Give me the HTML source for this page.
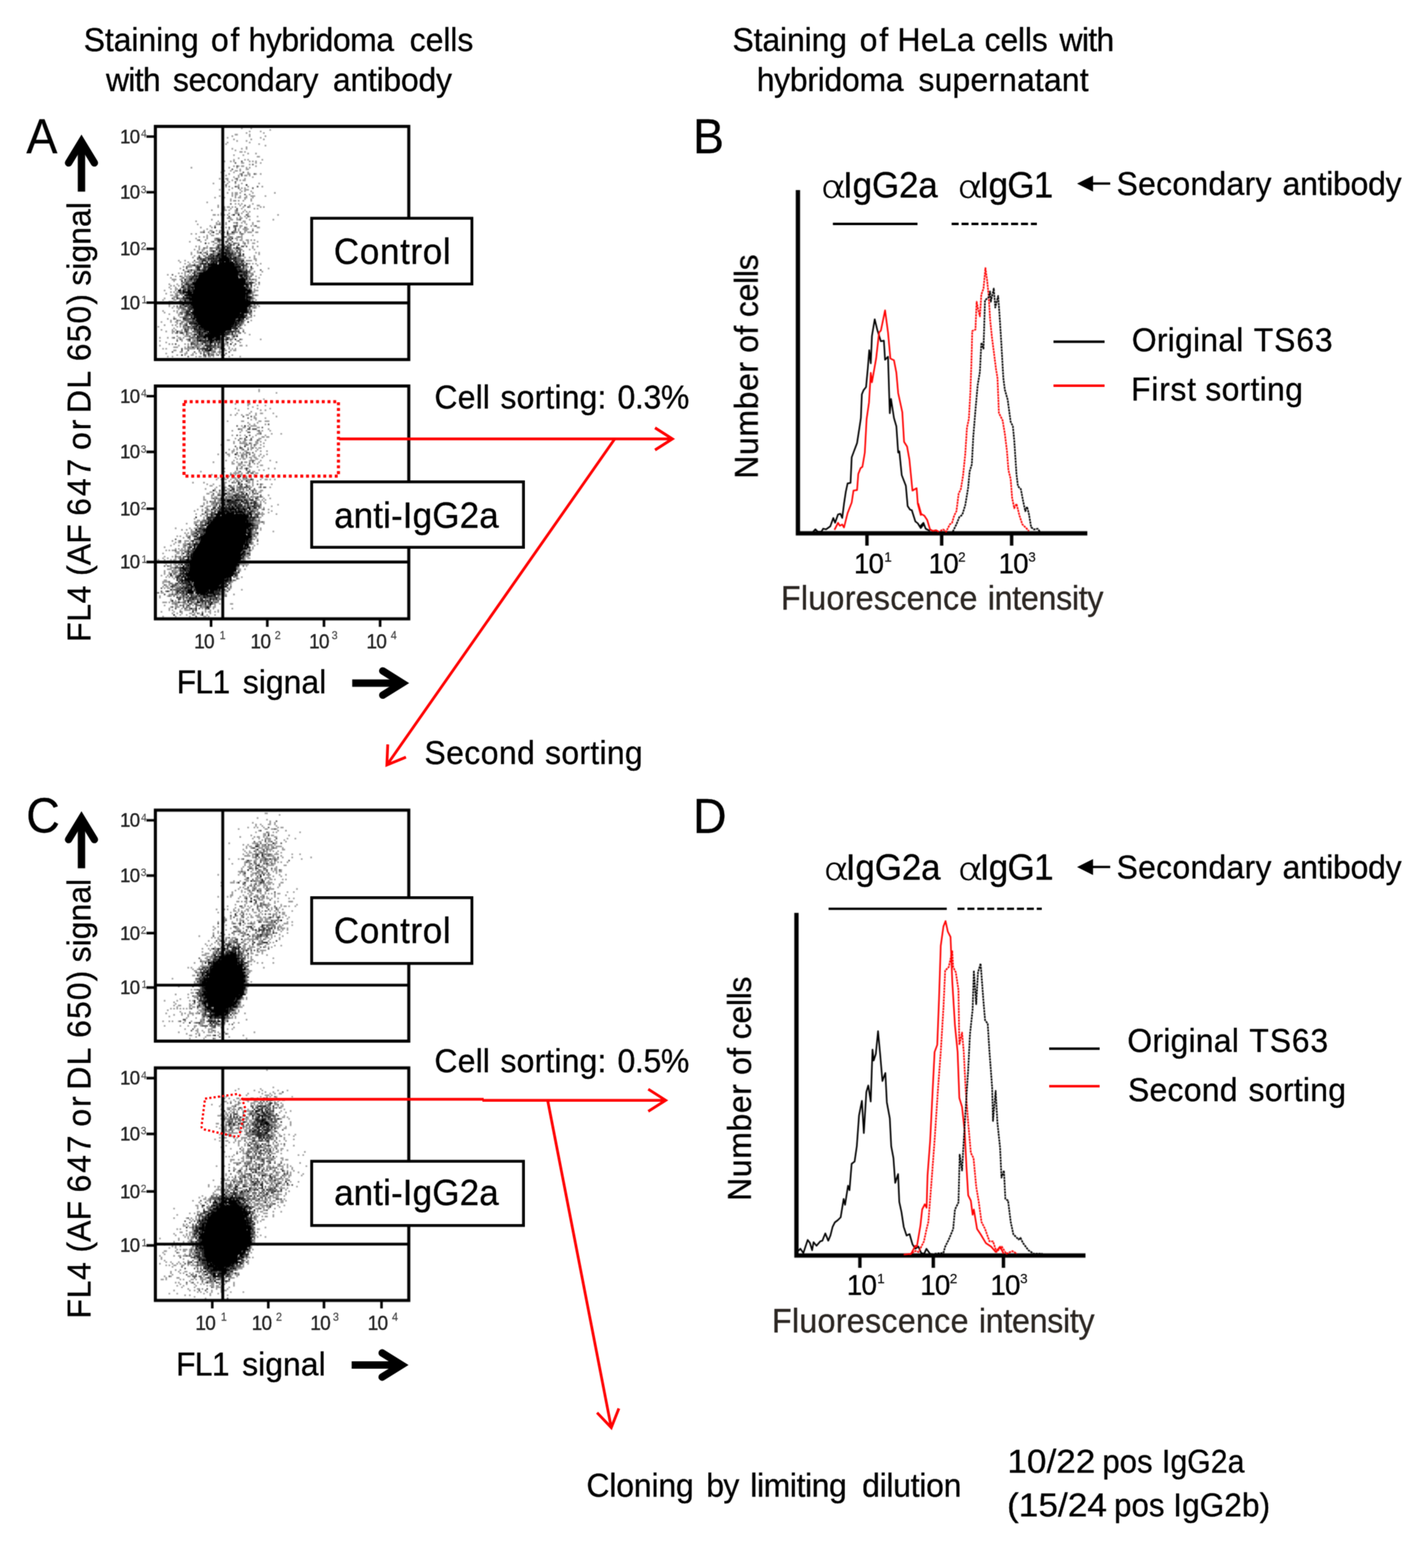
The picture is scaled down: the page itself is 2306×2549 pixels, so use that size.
<!DOCTYPE html>
<html><head><meta charset="utf-8"><title>Figure</title>
<style>
html,body{margin:0;padding:0;background:#fff;}
svg{display:block;font-family:"Liberation Sans",sans-serif;}
</style></head>
<body>
<svg width="2306" height="2549" viewBox="0 0 2306 2549">
<defs>
<filter id="softb" x="0" y="0" width="2306" height="2549" filterUnits="userSpaceOnUse" color-interpolation-filters="sRGB"><feConvolveMatrix order="3" kernelMatrix="0.06257 0.12500 0.06257 0.12500 0.24972 0.12500 0.06257 0.12500 0.06257" edgeMode="none" preserveAlpha="false"/></filter>
<filter id="softv" x="0" y="0" width="2306" height="2549" filterUnits="userSpaceOnUse" color-interpolation-filters="sRGB"><feConvolveMatrix order="3" kernelMatrix="0.03108 0.11414 0.03108 0.11414 0.41911 0.11414 0.03108 0.11414 0.03108" edgeMode="none" preserveAlpha="false"/></filter>
</defs>
<rect width="2306" height="2549" fill="#fff"/>
<g filter="url(#softb)">
<g>
<path d="M401.5 492.5L400.4 494.5L400.2 497.4L398.9 500.6L394.8 502.7L396.3 507.7L390.4 508.6L389.4 512.6L387.8 516.5L383.7 517.9L382.1 522.1L380.9 527.6L376.9 528.6L374.8 533.4L371.4 535.0L368.2 537.1L365.2 539.8L361.9 540.0L359.0 541.7L356.1 545.5L353.2 545.8L350.4 547.6L348.2 545.3L345.8 547.7L344.0 549.2L342.7 547.3L341.3 544.3L339.8 540.5L338.0 538.1L335.3 537.9L332.2 537.6L330.6 533.6L327.0 533.5L325.7 529.0L321.8 528.1L321.8 522.2L318.8 519.8L318.6 514.7L315.3 512.2L314.1 508.0L314.8 503.1L313.3 499.4L311.9 495.7L312.5 491.7L311.4 488.2L311.4 484.7L309.7 481.4L309.7 478.5L313.1 476.9L313.7 475.1L314.0 472.3L315.7 469.6L316.1 466.2L315.7 461.8L317.6 458.3L319.6 454.7L322.3 451.6L323.0 446.1L327.8 445.5L330.3 441.9L334.2 441.0L337.0 438.0L339.6 434.5L342.9 432.9L345.6 429.1L348.8 428.0L352.0 429.1L354.8 429.9L357.6 423.7L359.9 426.5L362.7 422.7L364.4 425.3L365.7 426.2L367.7 423.3L369.6 424.5L372.1 424.2L374.1 426.7L377.5 425.7L380.2 427.6L381.1 433.4L384.8 433.6L384.5 440.7L387.0 443.2L386.9 449.0L388.4 452.5L394.6 452.1L395.7 456.5L396.9 460.6L394.6 466.3L397.8 469.2L398.7 473.1L398.7 477.0L399.4 480.6L398.3 484.1L399.9 487.3L399.2 490.1Z" fill="#000"/>
<path d="M391.7 208.6h2.6m12.7 0h2.6m28.2 2.6h2.6m-35.9 2.6h2.6m15.3 0h2.6m-25.6 2.5h2.6m25.5 0h2.6m-48.7 2.6h5.1m18 0h2.6m-30.8 2.5h2.6m25.6 0h2.6m23 0h2.6m-64.1 2.6h2.6m51.2 0h2.6m-46.1 2.6h2.6m25.5 0h2.6m17.9 0h2.6m-46.1 2.5h2.6m12.8 0h2.6m-33.4 2.6h2.6m33.3 0h2.6m-41 2.5h2.6m51.1 0h2.6m7.7 2.6h2.6m-33.3 2.6h2.6m-25.7 2.5h2.6m12.8 0h2.6m5.1 0h2.6m-20.6 2.6h2.6m5.1 2.5h5.1m2.6 0h2.6m2.5 2.6h2.6m10.2 0h2.6m-38.4 2.6h2.6m12.7 0h2.6m20.5 2.5h5.1m-35.8 2.6h2.6m-10.3 2.5h2.6m15.3 0h2.6m2.5 0h2.6m20.5 0h2.6m-64.1 2.6h2.6m7.7 0h2.6m2.5 0h2.6m23 0h2.6m2.5 0h2.6m2.5 0h2.6m-25.6 2.6h5.1m17.9 0h2.6m5.1 0h2.6m-20.5 2.5h2.6m-28.2 2.6h2.6m5.1 0h2.6m2.5 0h5.1m17.9 0h2.6m-107.5 2.5h2.6m48.6 0h2.6m7.6 0h2.6m10.2 0h2.6m12.8 0h2.6m2.5 0h2.6m-18 2.6h2.6m7.7 0h5.1m-43.5 2.6h5.1m7.7 0h2.6m5 0h5.1m2.6 0h2.6m-33.3 2.5h2.6m17.9 0h2.6m20.4 0h2.6m-33.3 2.6h2.6m15.3 0h2.6m10.2 0h5.1m7.7 0h2.6m5.1 0h2.6m-58.9 2.5h2.6m17.9 0h2.6m7.6 0h5.1m2.6 0h2.6m-28.2 2.6h2.6m5.1 0h2.6m20.4 0h2.6m-56.4 2.6h2.6m7.7 0h5.1m10.2 0h2.6m12.8 0h2.6m-30.8 2.5h2.6m5.1 0h2.6m5.1 0h2.6m2.5 0h2.6m2.5 0h5.1m-35.8 2.6h2.6m5.1 0h2.6m-28.2 2.5h2.6m20.4 0h2.6m10.2 0h2.6m7.7 0h2.6m25.5 0h2.6m-35.8 2.6h2.6m-23.1 2.6h2.6m2.5 0h2.6m10.2 0h5.1m12.8 0h2.6m20.5 0h2.6m-51.3 2.5h2.6m12.8 0h2.6m2.5 0h2.6m-43.6 2.6h2.6m12.8 0h2.6m15.3 0h2.6m5.1 0h7.7m-12.8 2.5h2.6m2.5 0h2.6m7.6 0h2.6m-41 2.6h2.6m5.1 0h2.6m2.5 0h5.1m2.6 0h2.6m17.9 0h2.6m33.2 0h2.6m-71.7 2.6h2.6m2.5 0h5.1m18 0h2.6m-51.3 2.5h2.6m2.6 0h2.6m12.7 0h2.6m2.5 0h2.6m5.1 0h2.6m7.7 0h2.6m5 0h7.7m15.4 0h2.6m-84.5 2.6h2.6m10.2 0h5.1m15.3 0h2.6m2.6 0h5.1m5.1 0h5.1m7.7 0h2.6m-38.4 2.5h2.6m20.4 0h2.6m7.6 0h2.6m-35.8 2.6h2.6m2.5 0h5.1m2.6 0h2.6m5 0h2.6m10.2 0h2.6m-74.2 2.6h2.6m43.4 2.5h2.6m2.6 0h2.6m2.5 0h2.6m15.3 0h2.6m-58.9 2.6h2.6m33.2 0h2.6m12.8 0h2.6m10.2 0h5.1m-69.1 2.5h2.6m7.6 0h2.6m2.5 0h5.1m2.6 0h2.6m2.5 0h2.6m10.2 0h2.6m7.7 0h2.6m15.3 0h2.6m2.5 0h2.6m-66.6 2.6h2.6m7.7 0h2.6m15.3 0h2.6m17.9 0h2.6m2.5 0h2.6m-76.9 2.6h2.6m17.9 0h5.1m2.6 0h2.6m7.6 0h2.6m12.8 0h2.6m-18 2.5h5.1m7.7 0h2.6m2.6 0h2.6m2.5 0h2.6m-48.7 2.6h5.1m7.7 0h2.6m7.6 0h7.7m2.6 0h2.6m7.6 0h2.6m-58.9 2.5h5.1m2.6 0h2.6m2.5 0h7.7m2.5 0h2.6m5.1 0h2.6m23 0h2.6m46.1 0h2.6m-64.1 2.6h2.6m5.1 0h2.6m5.1 0h2.6m10.2 0h2.6m-58.9 2.6h2.6m5 0h7.7m7.7 0h2.6m2.5 0h5.1m5.2 0h2.6m-59 2.5h2.6m28.2 0h5.1m5.1 0h5.1m15.4 0h2.6m35.8 0h2.6m-128.1 2.6h2.6m33.3 0h2.6m38.3 0h5.1m18 0h5.1m-71.7 2.5h2.6m2.5 0h2.6m7.7 0h2.6m10.2 0h5.1m7.7 0h2.6m2.5 0h2.6m10.2 0h2.6m-92.2 2.6h2.6m28.1 0h5.1m5.2 0h2.6m2.5 0h2.6m15.3 0h2.6m12.8 0h2.6m7.6 0h2.6m-71.7 2.6h2.6m5.1 0h2.6m38.3 0h5.1m12.8 0h2.6m2.6 0h2.6m-89.7 2.5h2.6m15.3 0h2.6m12.8 0h2.6m5.1 0h2.6m10.2 0h2.6m7.6 0h2.6m7.7 0h2.6m15.3 0h5.1m-87 2.6h2.6m33.2 0h2.6m12.8 0h2.6m5 0h10.2m5.2 0h2.6m-82 2.5h2.6m7.7 0h5.1m5.1 0h2.6m2.5 0h7.7m5.1 0h2.6m7.7 0h2.6m5.1 0h2.6m7.6 0h5.1m-76.8 2.6h5.1m7.7 0h2.6m2.5 0h2.6m15.4 0h5.1m15.3 0h5.1m10.3 0h2.6m2.5 0h7.7m5.1 0h5.1m-110 2.6h2.6m5 0h2.6m20.5 0h2.6m7.6 0h5.1m2.6 0h5.1m7.7 0h10.2m7.7 0h2.6m2.5 0h2.6m-61.4 2.5h2.6m5 0h5.1m20.5 0h5.1m18 0h2.6m15.3 0h2.6m-89.6 2.6h2.6m5 0h2.6m2.6 0h2.6m33.2 0h2.6m2.5 0h2.6m5.1 0h2.6m2.5 0h5.1m-76.8 2.5h2.6m15.4 0h2.6m10.2 0h2.6m5 0h2.6m10.2 0h2.6m2.6 0h2.6m5 0h5.1m5.2 0h2.6m-74.3 2.6h2.6m10.2 0h2.6m12.8 0h5.1m17.9 0h2.6m10.2 0h2.6m2.5 0h5.1m5.2 0h5.1m2.5 0h2.6m2.6 0h2.6m-107.6 2.6h2.6m15.3 0h2.6m15.3 0h2.6m48.6 0h2.6m5.1 0h2.6m12.8 0h2.6m-82 2.5h2.6m7.7 0h5.1m2.5 0h2.6m2.6 0h2.6m2.5 0h2.6m5.1 0h2.6m7.6 0h5.1m5.1 0h2.6m5.1 0h2.6m5.1 0h5.1m-69.1 2.6h2.6m15.3 0h2.6m5.1 0h2.6m2.5 0h2.6m17.9 0h2.6m-82 2.5h2.6m2.6 0h2.6m10.2 0h2.6m12.7 0h2.6m2.5 0h2.6m51.2 0h2.6m5.1 0h2.6m-97.3 2.6h2.6m7.6 0h5.1m7.7 0h5.1m7.7 0h2.6m5.1 0h2.6m12.7 0h2.6m5.1 0h2.6m17.9 0h2.6m-97.3 2.6h2.6m5.1 0h2.6m2.5 0h5.1m7.7 0h5.1m7.7 0h2.6m20.4 0h2.6m2.5 0h5.1m5.2 0h2.6m10.2 0h2.6m5.1 0h2.6m-94.8 2.5h2.6m5.1 0h2.6m5.1 0h2.6m2.5 0h2.6m10.2 0h2.6m7.6 0h2.6m7.7 0h2.6m2.5 0h2.6m12.7 0h2.6m-87 2.6h2.6m7.6 0h5.1m5.1 0h2.6m2.6 0h2.6m10.2 0h5.1m25.6 0h2.6m2.5 0h2.6m28.1 0h2.6m2.5 0h2.6m-112.6 2.5h2.6m15.3 0h2.6m17.9 0h5.1m33.3 0h2.6m30.6 0h2.6m-107.5 2.6h2.6m15.3 0h2.6m46 0h5.1m5.2 0h2.6m17.9 0h2.6m-102.5 2.6h2.6m5.1 0h2.6m2.5 0h2.6m48.6 0h2.6m10.2 0h2.6m5.1 0h2.6m5.1 0h2.6m5.1 0h2.6m-92.2 2.5h2.6m10.2 0h2.6m53.7 0h5.1m15.4 0h5.1m-128 2.6h2.6m7.6 0h2.6m20.5 0h5.1m7.7 0h2.6m2.5 0h2.6m56.3 0h10.2m5.1 0h2.6m-125.5 2.5h2.6m10.2 0h2.6m5.1 0h2.6m2.5 0h10.2m5.2 0h2.6m25.6 0h2.6m15.3 0h2.6m7.6 0h2.6m2.5 0h5.1m-99.8 2.6h2.6m5.1 0h2.6m5.1 0h2.6m5.1 0h2.6m38.3 0h2.6m35.8 0h5.1m2.6 0h2.6m2.5 0h2.6m5.1 0h2.6m-120.4 2.6h7.7m5.1 0h2.6m2.6 0h2.6m10.2 0h2.6m7.6 0h5.1m2.6 0h2.6m12.7 0h5.1m43.6 0h2.6m-122.9 2.5h2.6m5 0h7.7m30.7 0h2.6m5.1 0h2.6m12.8 0h5.1m5.1 0h2.6m17.9 0h7.7m-112.7 2.6h2.6m23 0h2.6m7.7 0h2.6m25.5 0h2.6m5.1 0h7.7m2.6 0h2.6m20.4 0h5.1m7.7 0h2.6m23 0h2.6m-133.2 2.5h5.1m2.6 0h7.7m15.4 0h7.7m5.1 0h2.6m7.6 0h2.6m35.8 0h2.6m5.1 0h5.1m-110.1 2.6h5.1m2.6 0h5.1m7.7 0h5.1m17.9 0h2.6m15.4 0h2.6m5 0h2.6m5.1 0h5.1m30.8 0h2.6m10.2 0h2.6m-138.3 2.6h2.6m2.5 0h2.6m2.5 0h2.6m5.1 0h2.6m7.6 0h2.6m12.8 0h5.1m15.4 0h2.6m5.1 0h2.6m10.2 0h2.6m2.5 0h2.6m20.4 0h10.2m-140.7 2.5h2.6m25.5 0h2.6m2.5 0h2.6m2.6 0h2.6m15.3 0h2.6m7.6 0h2.6m61.4 0h2.6m2.5 0h2.6m12.8 0h2.6m-140.8 2.6h2.6m7.6 0h2.6m2.5 0h7.7m15.4 0h2.6m20.4 0h2.6m15.3 0h5.1m18 0h2.6m15.3 0h2.6m7.6 0h2.6m-140.8 2.5h2.6m15.3 0h2.6m5.1 0h5.1m17.9 0h2.6m30.7 0h2.6m2.5 0h2.6m35.8 0h2.6m15.3 0h2.6m-143.4 2.6h7.7m5.1 0h5.1m5.2 0h5.1m64 0h2.6m5.1 0h2.6m20.4 0h2.6m2.5 0h2.6m2.6 0h5.1m-135.7 2.6h2.6m17.9 0h2.6m7.6 0h2.6m28.1 0h2.6m20.5 0h2.6m30.7 0h2.6m5 0h2.6m5.1 0h2.6m-122.9 2.5h2.6m2.5 0h2.6m5.1 0h5.1m41 0h2.6m33.2 0h2.6m20.5 0h2.6m-140.9 2.6h2.6m10.2 0h2.6m74.2 0h5.1m46.1 0h2.6m2.5 0h2.6m-145.9 2.5h2.6m2.5 0h2.6m5.1 0h2.6m2.5 0h2.6m2.5 0h5.1m38.4 0h2.6m51.2 0h2.6m12.8 0h2.6m-140.9 2.6h2.6m7.7 0h2.6m15.3 0h2.6m15.3 0h2.6m23 0h2.6m23 0h2.6m7.6 0h2.6m7.7 0h2.6m10.2 0h2.6m10.2 0h2.6m-143.4 2.6h2.6m5.1 0h5.1m64 0h2.6m2.5 0h2.6m46 0h2.6m2.6 0h2.6m-148.6 2.5h2.6m15.4 0h2.6m7.6 0h2.6m5.1 0h2.6m35.8 0h2.6m20.4 0h2.6m46.1 0h7.7m-143.4 2.6h2.6m2.5 0h2.6m2.5 0h2.6m48.6 0h2.6m25.6 0h2.6m40.9 0h5.1m-145.9 2.5h2.6m12.8 0h5.1m10.2 0h2.6m17.9 0h2.6m87 0h2.6m-135.7 2.6h5.1m2.6 0h2.6m2.5 0h2.6m2.5 0h2.6m20.4 0h2.6m20.5 0h2.6m61.4 0h2.6m5.1 0h2.6m2.5 0h2.6m-138.3 2.6h5.1m12.8 0h2.6m7.7 0h2.6m97.2 0h2.6m-146 2.5h2.6m12.8 0h2.6m7.6 0h2.6m53.8 0h2.6m61.4 0h2.6m-151.1 2.6h2.6m15.3 0h5.1m7.7 0h2.6m40.9 0h5.1m12.8 0h2.6m48.6 0h5.1m2.6 0h2.6m-143.4 2.5h7.7m7.7 0h2.6m25.5 0h2.6m51.2 0h5.1m30.7 0h2.6m2.6 0h2.6m-140.9 2.6h2.6m64 0h2.6m17.9 0h2.6m46 0h2.6m5.1 0h2.6m-146 2.6h2.6m15.3 0h2.6m5.1 0h2.6m104.9 0h2.6m7.7 0h2.6m-146 2.5h2.6m5.1 0h2.6m10.2 0h5.1m17.9 0h2.6m10.2 0h2.6m28.2 0h2.6m5 0h2.6m23 0h2.6m12.8 0h7.7m2.5 0h2.6m-143.4 2.6h2.6m5.1 0h5.1m7.7 0h2.6m99.8 0h2.6m5.1 0h2.6m2.5 0h2.6m-128 2.5h2.6m2.5 0h2.6m5.1 0h2.6m12.7 0h2.6m2.6 0h2.6m30.6 0h2.6m33.3 0h2.6m12.7 0h2.6m-145.9 2.6h2.6m15.3 0h2.6m2.5 0h2.6m5.1 0h7.7m12.8 0h2.6m12.7 0h2.6m71.7 0h2.6m5.1 0h2.6m-148.6 2.6h2.6m17.9 0h2.6m7.7 0h2.6m7.6 0h2.6m7.6 0h5.1m5.2 0h2.6m58.8 0h2.6m-117.8 2.5h2.6m12.8 0h5.1m5.1 0h2.6m15.3 0h2.6m20.5 0h2.6m28.1 0h2.6m23 0h2.6m7.6 0h2.6m-120.3 2.6h2.6m61.4 0h2.6m5.1 0h2.6m48.6 0h2.6m-133.2 2.5h2.6m7.6 0h5.1m7.7 0h2.6m17.9 0h5.1m69.2 0h10.2m-138.2 2.6h2.6m10.2 0h2.6m46 0h2.6m12.8 0h2.6m30.6 0h2.6m17.9 0h2.6m-128 2.6h2.6m10.2 0h5.1m2.6 0h2.6m7.6 0h5.1m12.8 0h2.6m69.1 0h2.6m7.6 0h2.6m-148.5 2.5h2.6m12.8 0h2.6m5.1 0h5.1m7.7 0h2.6m2.5 0h2.6m38.3 0h2.6m-58.9 2.6h2.6m5.1 0h2.6m2.5 0h2.6m23 0h2.6m51.2 0h2.6m12.7 0h2.6m-130.6 2.5h2.6m10.2 0h2.6m2.6 0h2.6m5 0h2.6m2.6 0h2.6m12.7 0h2.6m12.8 0h2.6m2.5 0h2.6m17.9 0h2.6m12.7 0h2.6m15.4 0h2.6m2.5 0h2.6m2.5 0h2.6m-143.4 2.6h2.6m28.1 0h2.6m2.5 0h2.6m5.1 0h5.1m5.2 0h2.6m17.8 0h2.6m25.6 0h2.6m23 0h2.6m2.5 0h2.6m-110.1 2.6h2.6m12.8 0h2.6m2.5 0h2.6m2.5 0h2.6m33.2 0h2.6m46.1 0h2.6m-133.2 2.5h2.6m15.3 0h2.6m2.6 0h2.6m7.6 0h2.6m12.8 0h2.6m20.4 0h5.1m10.3 0h2.6m2.5 0h2.6m23 0h2.6m2.5 0h5.1m5.1 0h2.6m-128 2.6h2.6m7.6 0h5.1m5.2 0h7.7m7.6 0h2.6m51.2 0h2.6m-82 2.5h2.6m2.6 0h2.6m10.2 0h2.6m5 0h7.7m2.6 0h5.1m20.5 0h2.6m30.7 0h2.6m10.2 0h2.6m7.6 0h2.6m-102.4 2.6h2.6m5 0h2.6m2.6 0h5.1m5.1 0h2.6m51.2 0h2.6m2.5 0h7.7m17.9 0h2.6m-120.4 2.6h2.6m10.2 0h7.7m5.1 0h2.6m43.5 0h2.6m15.3 0h2.6m2.5 0h2.6m-125.4 2.5h2.6m10.2 0h2.6m5 0h2.6m7.7 0h5.1m2.6 0h2.6m7.6 0h2.6m5.1 0h2.6m58.8 0h5.1m-94.7 2.6h2.6m5.1 0h2.6m5.1 0h2.6m7.6 0h7.7m10.2 0h2.6m2.6 0h2.6m25.5 0h2.6m5.1 0h2.6m2.5 0h2.6m12.8 0h2.6m28.1 0h2.6m-166.4 2.5h2.6m33.2 0h2.6m7.6 0h2.6m5.1 0h2.6m2.5 0h2.6m53.8 0h2.6m7.6 0h2.6m-117.8 2.6h2.6m43.5 0h5.1m5.1 0h2.6m38.4 0h2.6m7.6 0h2.6m10.2 0h2.6m-117.8 2.6h2.6m2.5 0h2.6m17.9 0h2.6m2.5 0h2.6m10.2 0h2.6m2.6 0h5.1m10.2 0h2.6m2.5 0h2.6m10.2 0h2.6m5.1 0h7.7m-112.6 2.5h2.6m28.1 0h2.6m12.7 0h2.6m2.6 0h2.6m2.5 0h2.6m2.5 0h7.7m2.5 0h2.6m17.9 0h2.6m2.5 0h2.6m5.1 0h2.6m2.5 0h2.6m7.7 0h2.6m7.6 0h5.1m5.2 0h2.6m-120.4 2.6h7.7m10.2 0h2.6m5.1 0h5.1m2.6 0h5.1m2.6 0h2.6m2.5 0h2.6m20.4 0h2.6m17.9 0h2.6m-110.1 2.5h2.6m2.5 0h2.6m28.1 0h17.9m5.2 0h2.6m12.7 0h2.6m10.2 0h2.6m2.5 0h2.6m12.8 0h2.6m2.5 0h2.6m2.5 0h2.6m-102.4 2.6h5.1m43.5 0h2.6m12.8 0h5.1m5.1 0h2.6m5.1 0h5.1m5.2 0h2.6m2.5 0h5.1m-92.2 2.6h5.1m5.2 0h2.6m17.9 0h5.1m5.1 0h2.6m7.6 0h2.6m7.7 0h2.6m2.5 0h2.6m-92.2 2.5h2.6m28.1 0h5.1m7.7 0h2.6m2.5 0h2.6m15.4 0h2.6m2.5 0h7.7m2.5 0h2.6m2.5 0h2.6m-71.7 2.6h2.6m10.2 0h2.6m7.7 0h5.1m25.6 0h2.6m7.6 0h2.6m5.1 0h5.1m12.8 0h2.6m-107.5 2.5h2.6m5 0h2.6m35.8 0h2.6m2.6 0h5.1m2.5 0h2.6m5.1 0h5.1m2.6 0h2.6m23 0h2.6m15.3 0h2.6" stroke="#000" stroke-width="2.56" fill="none" stroke-opacity="0.4"/>
<path d="M391.7 262.4h2.6m-12.9 2.6h2.6m25.6 2.5h2.6m-28.2 2.6h2.6m-10.3 5.1h2.6m15.3 5.1h2.6m-5.1 2.6h2.6m17.9 0h2.6m-23.1 2.5h2.6m-10.3 5.2h2.6m-5.2 5.1h2.6m-17.9 5.1h2.6m12.7 2.6h2.6m33.3 0h2.6m-33.3 2.5h2.6m20.4 0h2.6m-15.4 10.3h2.6m-25.6 15.3h2.6m20.4 2.6h2.6m2.5 2.5h2.6m-20.5 2.6h2.6m-2.6 2.6h2.6m12.8 7.6h2.6m-30.8 2.6h2.6m28.1 0h2.6m-15.4 5.1h2.6m-20.5 2.6h2.6m10.2 2.5h2.6m-30.8 2.6h2.6m20.5 2.6h7.7m28.1 0h2.6m-46.1 2.5h2.6m7.6 0h2.6m12.8 0h2.6m-18 5.1h2.6m25.6 0h2.6m-82 2.6h2.6m23 0h2.6m20.5 0h2.6m7.6 0h2.6m0 2.6h2.6m-30.8 5.1h5.1m5.2 0h2.6m10.2 0h2.6m-38.5 2.5h5.1m5.2 0h2.6m7.6 0h2.6m-51.2 2.6h2.6m33.2 0h2.6m7.6 0h2.6m2.6 0h2.6m-30.8 2.6h2.6m5.1 0h5.1m2.6 0h2.6m5 0h2.6m5.1 0h2.6m0 2.5h5.1m12.8 0h2.6m-46.1 2.6h10.2m5.1 0h2.6m7.7 0h2.6m-18 2.5h2.6m2.5 0h7.7m7.7 0h2.6m5.1 0h5.1m2.6 0h2.6m-71.8 2.6h2.6m7.7 0h5.1m5.1 0h2.6m2.5 0h2.6m15.4 0h2.6m2.5 0h2.6m-25.7 2.6h2.6m5.1 0h2.6m5.1 0h5.1m10.3 0h5.1m-48.7 2.5h2.6m2.6 0h2.6m7.6 0h5.1m12.8 0h2.6m10.2 0h2.6m-58.9 2.6h2.6m10.2 0h2.6m5.1 0h5.1m2.6 0h2.6m10.2 0h2.6m5 0h2.6m2.6 0h5.1m-51.2 2.5h2.6m2.5 0h2.6m15.3 0h2.6m12.8 0h5.1m-61.4 2.6h2.6m5 0h2.6m5.1 0h2.6m2.5 0h2.6m2.6 0h2.6m17.8 0h2.6m5.1 0h5.1m12.8 0h2.6m-64 2.6h10.2m5.2 0h2.6m33.2 0h5.1m-69.1 2.5h2.6m5.1 0h2.6m2.5 0h2.6m17.9 0h2.6m28.1 0h7.7m-76.8 2.6h2.6m20.4 0h2.6m43.5 0h7.7m-51.2 2.5h2.6m10.2 0h2.6m2.5 0h2.6m25.6 0h2.6m-53.8 2.6h2.6m33.2 0h2.6m12.8 0h2.6m2.5 0h2.6m-82 2.6h2.6m5.1 0h2.6m2.5 0h2.6m5.1 0h2.6m53.7 0h2.6m5.1 0h5.1m-99.8 2.5h2.6m12.7 0h2.6m5.1 0h2.6m-25.6 2.6h2.6m30.7 0h2.6m53.7 0h2.6m12.7 0h2.6m-112.6 2.5h2.6m25.5 0h2.6m66.5 0h2.6m25.6 0h2.6m-107.6 2.6h2.6m5.1 0h5.1m71.7 0h5.1m-94.7 2.6h2.6m15.3 0h2.6m15.4 0h2.6m38.3 0h5.1m-115.2 2.5h2.6m35.8 0h5.1m41 0h2.6m43.5 0h2.6m-120.4 2.6h2.6m12.8 0h5.1m64 0h2.6m15.3 0h2.6m5.1 0h2.6m2.5 0h2.6m-112.6 2.5h2.6m7.6 0h2.6m5.1 0h2.6m2.5 0h2.6m66.5 0h2.6m5.1 0h2.6m5.1 0h2.6m-94.8 2.6h2.6m7.7 0h2.6m79.3 0h2.6m2.5 0h2.6m-112.7 2.6h2.6m2.5 0h7.7m5.1 0h2.6m81.9 0h2.6m-107.5 2.5h2.6m5 0h2.6m10.2 0h2.6m43.5 0h2.6m35.8 0h2.6m15.3 0h2.6m-128 2.6h2.6m2.5 0h2.6m5.1 0h2.6m94.7 0h2.6m-97.3 2.5h5.1m-15.4 2.6h2.6m104.9 0h2.6m-117.8 2.6h2.6m2.6 0h2.6m2.5 0h2.6m5.1 0h2.6m89.5 0h2.6m-115.2 5.1h2.6m2.5 0h2.6m-5.2 2.5h5.1m69.2 0h2.6m15.3 0h2.6m20.4 0h2.6m-122.9 2.6h2.6m120.3 0h2.6m2.5 0h2.6m-130.6 2.6h2.6m-10.3 2.5h2.6m7.7 0h2.6m2.5 0h2.6m99.8 0h2.6m10.2 0h2.6m-120.4 2.6h2.6m2.6 0h2.6m2.5 0h5.1m-12.8 2.5h2.6m5.1 0h5.1m2.6 0h2.6m-18 2.6h10.2m7.7 0h2.6m-20.5 2.6h2.6m5.1 0h2.6m2.5 0h2.6m102.4 0h2.6m-128.1 2.5h2.6m15.3 0h2.6m-15.4 2.6h7.7m112.7 0h2.6m-117.8 2.5h5.1m2.5 0h2.6m5.1 0h2.6m87 0h5.1m-115.2 5.2h5.1m2.6 0h2.6m102.4 0h5.1m-115.2 2.5h2.6m12.8 0h2.6m2.5 0h2.6m81.9 0h2.6m2.5 0h2.6m-107.6 2.6h2.6m2.5 0h5.1m2.6 0h2.6m5.1 0h2.6m84.4 0h2.6m-112.6 2.5h7.7m7.6 0h2.6m-33.3 2.6h2.6m17.9 0h5.1m2.6 0h2.6m5 0h5.1m61.5 0h2.6m12.8 0h2.6m-115.3 2.6h2.6m10.2 0h7.7m7.7 0h2.6m76.7 0h2.6m-102.4 2.5h2.6m7.6 0h2.6m71.7 0h2.6m7.6 0h2.6m2.5 0h2.6m-105 2.6h2.6m7.7 0h2.6m28.1 0h2.6m53.7 0h5.1m-94.7 2.5h2.6m7.7 0h2.6m2.5 0h2.6m5.1 0h5.1m-30.7 2.6h2.6m7.6 0h2.6m10.2 0h2.6m-23.1 2.6h2.6m2.5 0h2.6m2.6 0h5.1m5.1 0h2.6m66.5 0h2.6m-89.6 2.5h5.1m56.3 0h2.6m-66.6 2.6h2.6m10.2 0h7.7m7.7 0h2.6m35.8 0h2.6m12.7 0h5.1m7.7 0h2.6m-110.1 2.5h2.6m2.5 0h2.6m7.7 0h2.6m25.5 0h5.1m18 0h2.6m5.1 0h2.6m17.8 0h2.6m5.1 0h2.6m-89.6 2.6h2.6m25.5 0h2.6m38.4 0h2.6m-66.6 2.6h2.6m5.1 0h2.6m48.6 0h2.6m-87.1 2.5h2.6m25.6 0h5.1m2.5 0h2.6m5.1 0h5.1m5.2 0h2.6m28.1 0h2.6m2.5 0h2.6m-82 2.6h2.6m10.2 0h2.6m15.4 0h2.6m2.5 0h2.6m43.5 0h2.6m12.7 0h2.6m-105 2.5h2.6m17.9 0h2.6m5.1 0h2.6m30.7 0h2.6m2.5 0h2.6m2.5 0h2.6m5.1 0h2.6m17.9 0h2.6m-79.4 2.6h5.1m5.1 0h2.6m5.1 0h2.6m5.1 0h5.1m5.1 0h7.7m5.1 0h2.6m-76.8 2.6h2.6m25.5 0h5.1m2.6 0h2.6m10.2 0h5.1m20.5 0h2.6m20.4 0h2.6m-66.6 2.5h2.6m25.6 0h2.6m5.1 0h2.6m2.5 0h2.6m-56.4 2.6h2.6m12.8 0h2.6m7.6 0h2.6m10.2 0h2.6m2.6 0h2.6m5 0h2.6m-64 2.5h2.6m28.1 0h2.6m20.5 0h2.6m12.7 0h2.6m-71.7 2.6h2.6m7.6 0h2.6m15.4 0h2.6m2.5 0h2.6m12.7 0h2.6m-66.6 2.6h2.6m33.3 0h2.6m12.7 0h2.6m2.6 0h5.1m5.1 0h5.1m5.1 0h2.6m12.8 0h2.6m-48.7 2.5h2.6m2.5 0h2.6m33.3 0h2.6m-35.9 2.6h2.6m7.6 0h5.1m5.2 0h2.6m7.6 0h2.6m-61.5 2.5h2.6m25.6 0h2.6" stroke="#000" stroke-width="2.56" fill="none" stroke-opacity="0.64"/>
<path d="M399.4 300.8h2.6m-23.1 48.6h2.6m5.1 0h2.6m-41 20.5h2.6m30.6 2.6h2.6m-38.4 5.1h2.6m20.4 0h2.6m5.1 0h2.6m-10.3 2.6h2.6m5.1 7.6h2.6m-25.6 2.6h5.1m7.7 2.6h2.6m-35.9 2.5h2.6m35.8 0h2.6m0 2.6h2.6m10.2 0h2.6m-35.9 2.5h2.6m10.2 0h2.6m-15.4 2.6h2.6m7.6 0h2.6m5.1 0h2.6m12.8 0h2.6m-38.5 2.6h2.6m5.1 0h2.6m7.6 0h2.6m-5.1 2.5h7.7m10.2 0h2.6m-61.5 2.6h2.6m30.7 0h2.6m7.6 0h2.6m5.1 0h2.6m-43.5 2.5h2.6m5 0h2.6m12.8 0h2.6m7.6 0h10.2m10.3 0h2.6m2.5 0h2.6m-56.3 2.6h2.6m12.7 0h5.1m12.9 0h2.6m10.2 0h5.1m-69.1 2.6h2.6m17.8 0h5.1m2.6 0h5.1m2.6 0h2.6m10.2 0h2.6m5.1 0h2.6m-56.4 2.5h2.6m2.5 0h2.6m7.7 0h5.1m2.6 0h5.1m20.5 0h2.6m2.5 0h5.1m-56.3 2.6h7.7m10.2 0h2.6m2.5 0h2.6m20.5 0h2.6m5 0h2.6m7.7 0h5.1m-69.1 2.5h2.6m12.7 0h2.6m2.6 0h2.6m5 0h2.6m7.7 0h2.6m2.5 0h2.6m10.2 0h2.6m5.1 0h2.6m-69.2 2.6h2.6m2.5 0h2.6m7.7 0h2.6m5.1 0h2.6m30.6 0h2.6m5.1 0h2.6m2.5 0h2.6m2.6 0h2.6m-87.1 2.6h2.6m12.7 0h2.6m41 0h2.6m2.5 0h10.2m2.6 0h5.1m-76.8 2.5h5.1m5.1 0h12.8m51.2 0h2.6m10.2 0h2.6m-89.6 2.6h5.1m5.1 0h5.1m2.6 0h2.6m43.5 0h7.7m2.5 0h2.6m-87 2.5h2.6m7.6 0h2.6m5.1 0h2.6m2.5 0h2.6m46 0h2.6m2.6 0h2.6m2.5 0h2.6m5.1 0h2.6m-97.4 2.6h2.6m7.7 0h2.6m15.3 0h2.6m58.8 0h7.7m-87 2.6h2.6m2.5 0h2.6m61.4 0h5.1m5.1 0h5.1m-76.7 2.5h2.6m61.4 0h2.6m5 0h7.7m-89.6 2.6h5.1m2.6 0h2.6m76.8 0h2.6m-92.2 2.5h5.1m2.5 0h2.6m2.6 0h2.6m-25.7 2.6h2.6m5.1 0h2.6m5.1 0h5.1m79.4 0h2.6m-107.6 2.6h2.6m17.9 0h2.6m2.5 0h2.6m-20.5 2.5h2.6m87 0h2.6m5.1 0h2.6m5 0h5.1m-107.5 2.6h2.6m2.6 0h2.6m89.5 0h2.6m2.5 0h2.6m-112.6 2.5h2.6m5 0h2.6m7.7 0h2.6m84.4 0h2.6m2.5 0h2.6m-115.2 2.6h5.1m5.1 0h5.1m5.2 0h2.6m81.9 0h5.1m-105 2.6h2.6m2.5 0h5.1m94.8 0h2.6m-107.6 2.5h2.6m7.7 0h5.1m92.1 0h2.6m-117.8 2.6h2.6m17.9 0h2.6m84.5 0h2.6m5 0h2.6m-112.6 2.5h2.6m2.5 0h2.6m99.8 0h2.6m-10.3 2.6h2.6m2.5 0h2.6m-107.5 2.6h2.6m2.5 0h5.1m89.6 0h2.6m7.6 0h2.6m-122.9 2.5h2.6m7.7 0h5.1m99.8 0h7.7m-12.8 2.6h2.6m5.1 0h2.6m-115.3 2.5h2.6m12.8 0h2.6m99.8 0h2.6m-120.4 2.6h2.6m10.2 0h2.6m97.3 0h5.1m2.6 0h2.6m-110.2 2.6h2.6m-15.4 2.5h2.6m5.1 0h5.1m2.6 0h7.7m89.6 0h5.1m-105 2.6h5.1m94.8 0h2.6m-97.3 2.5h2.6m-10.3 2.6h7.7m2.5 0h2.6m76.8 0h2.6m7.6 0h2.6m2.5 0h2.6m-107.5 2.6h5.1m7.7 0h2.6m84.4 0h2.6m-102.4 2.5h5.1m-5.1 2.6h2.6m5.1 0h2.6m5 0h2.6m66.6 0h2.6m7.6 0h5.1m-104.9 5.1h5.1m5.1 0h2.6m81.9 0h2.6m-82 2.6h2.6m66.5 0h2.6m7.7 0h2.6m-87.1 2.5h5.1m2.6 0h5.1m64 0h2.6m5.1 0h2.6m7.6 0h2.6m-94.7 2.6h5.1m5.1 0h2.6m61.4 0h5.1m-87 2.5h2.6m12.7 0h2.6m58.9 0h2.6m2.5 0h2.6m2.5 0h2.6m-87.1 2.6h2.6m5.1 0h5.1m53.8 0h2.6m5.1 0h5.1m2.6 0h2.6m-71.8 2.6h2.6m5.1 0h7.7m2.6 0h2.6m30.6 0h2.6m5.1 0h7.7m-84.5 2.5h2.6m12.8 0h10.2m2.6 0h5.1m48.6 0h2.6m-97.3 2.6h2.6m12.8 0h2.6m15.3 0h2.6m2.5 0h2.6m7.7 0h2.6m30.6 0h12.8m5.2 0h2.6m-94.8 2.5h2.6m23 0h2.6m2.5 0h2.6m7.7 0h2.6m17.8 0h2.6m5.1 0h2.6m2.5 0h5.1m2.6 0h2.6m-64 2.6h5.1m5.1 0h5.1m35.9 0h5.1m5.1 0h2.6m-56.3 2.6h7.7m33.2 0h2.6m12.8 0h2.6m2.5 0h2.6m-66.6 2.5h5.1m23.1 0h2.6m7.6 0h2.6m7.6 0h2.6m-64 2.6h2.6m10.2 0h2.6m2.5 0h2.6m5.1 0h2.6m10.2 0h2.6m10.2 0h2.6m5.1 0h5.1m10.2 0h2.6m-64 2.5h2.6m5.1 0h2.6m2.5 0h2.6m2.5 0h2.6m15.3 0h2.6m2.6 0h2.6m-33.4 2.6h5.1m18 0h5.1m2.6 0h2.6m5 0h2.6m-61.4 2.6h2.6m15.3 0h2.6m23 0h2.6m5.1 0h2.6m10.2 0h2.6m-43.6 2.5h12.8m2.6 0h2.6m10.2 0h2.6m-51.3 2.6h2.6m20.5 0h7.7m2.5 0h2.6m5.1 0h2.6m2.5 0h2.6m-41 2.5h2.6m5.1 0h7.7m7.6 0h2.6m12.8 0h2.6m-28.2 2.6h5.1m0 5.1h2.6m-46.1 2.6h2.6m33.2 0h2.6m5.1 0h2.6" stroke="#000" stroke-width="2.56" fill="none" stroke-opacity="0.85"/>
<path d="M368.6 403.2h2.6m12.8 0h2.6m-25.6 2.6h2.6m2.5 0h2.6m-23.1 2.5h2.6m7.6 0h2.6m5.1 2.6h5.1m2.6 0h2.6m-20.5 2.5h5.1m2.6 0h2.6m2.5 0h2.6m-23.1 2.6h2.6m2.5 0h5.1m5.2 0h7.7m2.5 0h2.6m-18 2.6h2.6m2.6 0h10.2m2.6 0h2.6m5 0h2.6m-46.1 2.5h2.6m5.1 0h2.6m7.6 0h17.9m2.6 0h2.6m-35.9 2.6h2.6m2.6 0h2.6m2.5 0h20.5m5.1 0h2.6m-46.1 2.5h2.6m7.6 0h2.6m2.5 0h2.6m15.3 0h2.6m2.6 0h5.1m2.5 0h2.6m-56.3 2.6h2.6m2.5 0h2.6m2.5 0h2.6m2.5 0h5.1m2.6 0h2.6m20.5 0h7.7m2.5 0h2.6m-48.7 2.6h7.7m30.7 0h2.6m0 2.5h12.8m-12.8 2.6h5.1m-61.4 2.5h2.6m5 0h2.6m51.2 0h2.6m2.5 0h2.6m-61.5 2.6h2.6m51.2 0h10.2m-71.6 2.6h7.7m69.1 0h2.6m-87.1 2.5h2.6m7.6 0h2.6m61.4 0h5.1m-76.8 2.6h2.6m5.1 0h2.6m61.4 0h5.1m2.6 0h2.6m-7.7 2.5h5.1m2.6 0h2.6m-92.2 2.6h2.6m7.6 0h2.6m69.1 0h7.7m-7.7 2.6h7.7m-87.1 2.5h5.1m76.8 0h5.1m5.2 0h2.6m-105 2.6h2.6m7.6 0h5.1m76.8 0h7.7m-94.7 2.5h2.6m84.4 0h2.6m2.6 0h2.6m-92.2 2.6h5.1m79.3 0h5.1m-87 2.6h2.6m81.9 0h5.1m-112.6 2.5h5.1m2.6 0h2.6m5 0h5.1m87.1 0h10.2m-110 2.6h15.4m84.4 0h2.6m2.5 0h5.1m-102.4 2.5h7.7m84.5 0h7.7m-105 2.6h12.8m87.1 0h2.6m-94.8 2.6h2.6m89.6 0h7.7m-105 2.5h10.2m87.1 0h2.6m-102.5 2.6h2.6m5.1 0h5.1m87.1 0h5.1m-105 2.5h2.6m94.7 0h10.2m-99.8 2.6h5.1m84.5 0h7.7m-107.5 2.6h2.6m10.2 0h5.1m81.9 0h10.2m-10.2 2.5h7.7m-94.7 2.6h5.1m79.3 0h7.7m-94.7 2.5h2.6m84.4 0h7.7m-7.7 2.6h7.7m-92.1 2.6h5.1m76.8 0h10.2m-94.7 2.5h2.6m2.5 0h2.6m74.2 0h7.7m-81.9 2.6h2.6m71.6 0h7.7m-87 2.5h2.6m2.5 0h5.1m66.6 0h12.8m-87.1 2.6h5.1m69.2 0h5.1m2.5 0h2.6m-79.4 2.6h5.1m61.5 0h7.7m-79.4 2.5h2.6m5.1 0h2.6m58.8 0h2.6m2.6 0h2.6m-82 2.6h2.6m5.1 0h5.1m2.6 0h2.6m56.2 0h2.6m-64 2.5h2.6m53.7 0h2.6m2.5 0h2.6m-66.6 2.6h2.6m2.6 0h7.7m43.5 0h5.1m-64 2.6h2.6m5.1 0h2.6m46 0h5.1m7.7 0h2.6m-61.5 2.5h2.6m38.4 0h10.2m-53.7 2.6h2.6m5 0h5.1m25.7 0h5.1m-43.5 2.5h2.6m2.5 0h2.6m7.6 0h2.6m17.9 0h2.6m5.1 0h2.6m-46.1 2.6h2.6m7.6 0h33.3m-46.1 2.6h2.6m7.6 0h28.2m2.6 0h2.6m-33.4 2.5h5.1m2.6 0h10.2m2.6 0h7.7m2.6 0h2.6m-25.7 2.6h7.7m2.6 0h10.2m-35.8 2.5h5.1m2.5 0h2.6m2.6 0h2.6m2.5 0h7.7m2.5 0h2.6m-12.8 2.6h5.1m-5.1 2.6h2.6m5.1 0h2.6m-15.4 7.6h2.6m2.5 0h2.6m-5.2 2.6h5.1" stroke="#000" stroke-width="2.56" fill="none" stroke-opacity="1"/>
</g>
<rect x="252.5" y="205.5" width="411.79999999999995" height="379.0" fill="none" stroke="#000" stroke-width="5"/>
<path d="M362 205.5V584.5M252.5 492.3H664.3" stroke="#000" stroke-width="4.7" fill="none"/>
<path d="M238.0 222H252.5M238.0 312.5H252.5M238.0 404.5H252.5M238.0 492H252.5" stroke="#000" stroke-width="4.2" fill="none"/>
<g>
<path d="M386.6 913.9L384.1 920.5L381.7 926.0L379.1 931.1L374.9 933.0L372.3 937.2L369.1 939.2L366.0 940.9L363.4 943.5L361.0 947.4L358.4 950.5L355.7 952.2L352.8 961.0L350.2 958.3L347.3 961.3L344.9 960.7L341.1 967.5L340.6 958.4L337.1 962.8L334.0 964.6L330.5 967.3L328.5 965.2L326.5 963.2L321.5 967.2L319.5 963.4L318.1 959.0L316.6 956.2L315.5 953.4L313.9 951.5L315.1 946.2L311.3 947.2L310.7 944.4L307.7 944.1L306.5 941.8L307.6 937.5L303.7 937.3L304.6 933.1L307.5 927.8L308.3 924.0L308.6 920.5L307.9 917.4L307.6 913.9L311.4 908.9L312.5 904.8L312.6 900.6L315.5 896.0L318.1 891.3L321.1 886.5L324.8 881.0L326.4 874.2L329.8 870.1L333.2 866.7L334.5 860.6L336.6 855.3L339.8 852.6L342.5 848.8L345.5 846.5L348.1 842.8L351.0 840.4L353.8 836.8L356.6 839.2L359.1 839.0L361.9 835.5L364.9 832.4L366.7 835.7L370.1 831.3L372.3 832.1L374.5 833.0L377.6 831.2L380.6 830.1L380.9 836.1L384.7 833.8L387.5 835.4L391.8 834.6L394.0 836.2L395.9 838.1L400.0 836.8L401.2 839.6L400.3 844.5L399.4 849.1L401.2 850.6L402.3 852.9L403.0 855.6L401.1 860.5L401.4 863.4L399.4 867.9L401.2 870.0L401.6 873.1L399.8 877.4L399.3 881.1L396.7 885.5L395.2 889.6L395.1 893.6L391.5 898.0L391.7 902.7L391.0 908.2Z" fill="#000"/>
<path d="M419.8 633.6h2.6m-2.6 2.6h2.6m25.6 2.5h2.6m-23.1 10.3h2.6m-15.4 2.5h2.6m-35.9 5.1h2.6m17.9 0h5.1m-5.1 2.6h2.6m12.8 0h2.6m10.2 0h2.6m-23.1 2.6h2.6m-30.8 2.5h2.6m17.9 0h2.6m12.8 0h2.6m17.9 0h2.6m-53.8 2.6h2.6m33.2 0h2.6m5.1 0h2.6m-25.7 2.5h2.6m-25.6 2.6h2.6m17.9 0h2.6m7.6 0h2.6m5.1 0h5.1m15.4 0h2.6m-71.7 2.6h2.6m5 0h2.6m7.7 0h2.6m5.1 0h5.1m10.2 0h2.6m-5.1 2.5h2.6m33.2 0h2.6m-38.4 2.6h5.1m12.8 0h2.6m-25.7 2.5h2.6m5.1 0h2.6m-48.7 2.6h2.6m20.5 0h5.1m23 0h5.1m5.2 0h7.7m-35.9 2.6h2.6m12.8 0h2.6m-15.4 2.5h2.6m5.1 0h2.6m15.3 0h2.6m-41 2.6h2.6m7.6 0h2.6m2.5 0h10.2m-23 2.5h5.1m18 0h5.1m-33.3 2.6h5.1m41 0h2.6m-61.5 2.6h2.6m12.8 0h2.6m5.1 0h2.6m15.3 0h2.6m5.1 0h2.6m10.2 0h2.6m-51.3 2.5h2.6m28.1 0h5.1m-7.6 2.6h5.1m17.9 0h2.6m12.8 0h2.6m-82 2.5h2.6m10.2 0h2.6m5.1 0h2.6m15.3 0h2.6m12.8 0h2.6m-23.1 2.6h2.6m12.8 0h5.1m2.5 0h5.1m-56.3 2.6h2.6m7.7 0h2.6m25.5 0h5.1m-56.3 2.5h5.1m25.7 0h2.6m2.5 0h2.6m12.7 0h2.6m7.7 0h2.6m-53.8 2.6h2.6m7.6 0h2.6m2.5 0h5.1m15.4 0h5.1m2.6 0h2.6m-46.1 2.5h2.6m7.6 0h12.8m5.1 0h2.6m5.1 0h5.1m7.7 0h2.6m-71.7 2.6h2.6m35.8 0h2.6m2.5 0h2.6m2.5 0h2.6m5.1 0h2.6m5.1 0h2.6m-35.9 2.6h2.6m15.3 0h2.6m2.6 0h2.6m12.7 0h2.6m-46.1 2.5h2.6m15.3 0h2.6m2.5 0h2.6m5.1 0h2.6m2.5 0h5.1m-53.7 2.6h2.6m5.1 0h2.6m2.5 0h2.6m5.1 0h2.6m12.7 0h2.6m7.7 0h2.6m-58.9 2.5h2.6m12.7 0h5.1m15.4 0h5.1m12.8 0h2.6m5.1 0h2.6m7.6 0h2.6m-58.9 2.6h2.6m10.2 0h2.6m2.5 0h2.6m7.7 0h2.6m-53.8 2.6h2.6m12.7 0h5.1m10.3 0h2.6m5.1 0h10.2m10.3 0h2.6m7.6 0h2.6m7.6 0h2.6m-64 2.5h2.6m12.8 0h2.6m5 0h2.6m12.8 0h5.1m5.1 0h2.6m5.1 0h2.6m-48.7 2.6h2.6m7.7 0h5.1m2.6 0h2.6m2.5 0h5.1m2.6 0h5.1m7.7 0h2.6m-43.6 2.5h2.6m2.5 0h2.6m2.5 0h5.1m7.7 0h2.6m5.1 0h5.1m-53.7 2.6h2.6m10.2 0h2.6m23 0h5.1m2.6 0h2.6m7.6 0h2.6m12.8 0h2.6m-94.8 2.6h2.6m28.1 0h2.6m5.1 0h2.6m10.2 0h5.1m2.6 0h2.6m12.7 0h2.6m25.6 0h2.6m-74.3 2.5h5.1m5.2 0h7.7m17.9 0h2.6m2.5 0h2.6m-33.3 2.6h5.1m2.5 0h5.1m2.6 0h5.1m15.4 0h5.1m-43.5 2.5h2.6m17.9 0h5.1m7.7 0h2.6m-56.4 2.6h2.6m23 0h5.1m2.6 0h2.6m2.5 0h2.6m30.7 0h2.6m7.6 0h2.6m-64 2.6h2.6m17.9 0h2.6m12.7 0h2.6m5.1 0h2.6m-105 2.5h2.6m35.8 0h2.6m15.3 0h2.6m2.6 0h2.6m20.4 0h5.1m-40.9 2.6h2.6m2.5 0h10.2m2.6 0h2.6m5.1 0h2.6m12.7 0h5.1m-76.8 2.5h2.6m30.7 0h2.6m2.5 0h2.6m5.1 0h5.1m18 0h2.6m20.4 0h2.6m-79.4 2.6h5.1m7.7 0h2.6m5.1 0h2.6m12.7 0h2.6m2.6 0h2.6m2.5 0h2.6m5.1 0h2.6m15.3 0h2.6m-79.4 2.6h2.6m7.6 0h2.6m10.2 0h7.7m12.8 0h2.6m7.6 0h2.6m15.4 0h2.6m-76.9 2.5h2.6m5.1 0h2.6m2.5 0h5.1m5.2 0h2.6m5 0h5.1m2.6 0h2.6m2.5 0h12.8m15.4 0h2.6m5.1 0h5.1m2.6 0h2.6m5 0h2.6m-76.8 2.6h2.6m5.1 0h2.6m5.1 0h2.6m12.7 0h5.1m2.6 0h2.6m5.1 0h2.6m-107.6 2.5h2.6m15.3 0h2.6m30.7 0h5.1m10.3 0h5.1m5.1 0h2.6m10.2 0h5.1m2.6 0h2.6m-76.8 2.6h2.6m7.6 0h2.6m15.3 0h2.6m23 0h2.6m5.1 0h5.1m7.7 0h2.6m12.8 0h2.6m12.7 0h2.6m-102.4 2.6h5.1m10.2 0h2.6m5.1 0h2.6m12.8 0h2.6m2.5 0h2.6m15.3 0h5.1m2.6 0h2.6m10.2 0h2.6m-74.3 2.5h2.6m12.8 0h2.6m10.2 0h2.6m2.5 0h2.6m7.6 0h2.6m7.7 0h5.1m10.2 0h2.6m15.4 0h2.6m-107.6 2.6h2.6m12.8 0h2.6m10.2 0h2.6m5 0h5.1m10.3 0h5.1m2.6 0h2.6m5.1 0h2.6m-53.8 2.5h2.6m20.4 0h2.6m2.5 0h2.6m7.7 0h5.1m2.5 0h2.6m2.6 0h5.1m2.5 0h2.6m2.6 0h5.1m5.1 0h5.1m-87 2.6h5.1m5.1 0h2.6m2.5 0h2.6m5.1 0h2.6m2.5 0h5.1m2.6 0h2.6m2.5 0h2.6m2.6 0h2.6m5 0h5.1m5.2 0h2.6m7.6 0h2.6m2.5 0h5.1m-89.5 2.6h5.1m12.8 0h5.1m10.2 0h2.6m2.6 0h5.1m2.5 0h2.6m20.5 0h2.6m2.5 0h2.6m2.5 0h2.6m-74.3 2.5h5.1m10.3 0h5.1m5.1 0h10.2m15.4 0h2.6m12.8 0h2.6m23 0h2.6m-107.6 2.6h2.6m10.2 0h2.6m2.6 0h5.1m5.1 0h2.6m7.6 0h2.6m7.7 0h2.6m28.1 0h7.7m2.5 0h2.6m2.6 0h2.6m-97.4 2.5h2.6m10.2 0h2.6m2.6 0h2.6m2.5 0h5.1m2.6 0h5.1m2.5 0h7.7m5.1 0h2.6m7.7 0h2.6m5.1 0h5.1m5.1 0h2.6m15.3 0h2.6m7.7 0h2.6m-110.2 2.6h5.1m18 0h2.6m5.1 0h2.6m30.6 0h2.6m5.1 0h2.6m10.2 0h7.7m2.6 0h2.6m2.5 0h2.6m-97.3 2.6h2.6m5 0h5.1m5.2 0h7.7m28.1 0h2.6m5.1 0h2.6m7.6 0h5.1m10.3 0h2.6m2.5 0h2.6m-99.9 2.5h2.6m2.6 0h2.6m5 0h2.6m2.6 0h2.6m5 0h2.6m7.7 0h2.6m17.9 0h2.6m15.3 0h2.6m10.2 0h2.6m2.5 0h2.6m5.1 0h2.6m-102.5 2.6h2.6m10.2 0h7.7m25.6 0h2.6m20.5 0h2.6m2.5 0h5.1m10.2 0h2.6m28.2 0h2.6m-128.1 2.5h2.6m7.7 0h7.7m2.5 0h2.6m2.5 0h2.6m5.1 0h2.6m2.5 0h2.6m2.5 0h2.6m28.2 0h2.6m20.4 0h2.6m15.3 0h2.6m-110.1 2.6h5.1m69.1 0h5.1m10.3 0h2.6m2.5 0h2.6m-110.1 2.6h2.6m5.1 0h2.6m7.6 0h2.6m7.7 0h2.6m2.5 0h2.6m51.1 0h2.6m2.6 0h5.1m7.7 0h2.6m7.6 0h2.6m-122.9 2.5h2.6m10.2 0h2.6m2.5 0h12.8m5.1 0h2.6m51.2 0h2.6m7.6 0h5.1m20.5 0h2.6m-107.5 2.6h2.6m33.2 0h2.6m2.5 0h2.6m20.5 0h2.6m7.6 0h2.6m5.1 0h2.6m5.1 0h2.6m7.6 0h2.6m-120.4 2.5h2.6m10.2 0h2.6m5.1 0h2.6m23 0h5.1m41 0h5.1m7.7 0h7.7m17.9 0h2.6m-125.5 2.6h2.6m5.1 0h2.6m5.1 0h2.6m5.1 0h2.6m10.2 0h2.6m15.3 0h2.6m23 0h2.6m5.1 0h2.6m10.2 0h2.6m-97.4 2.6h2.6m20.5 0h2.6m10.2 0h2.6m12.7 0h2.6m2.6 0h2.6m30.6 0h5.1m-110 2.5h2.6m12.7 0h2.6m23 0h7.7m2.6 0h2.6m2.5 0h7.7m2.5 0h2.6m30.7 0h2.6m2.5 0h2.6m-102.4 2.6h5.1m2.6 0h2.6m5.1 0h2.6m20.4 0h2.6m5.1 0h10.2m41 0h2.6m-105 2.5h7.7m7.6 0h2.6m53.8 0h5.1m20.5 0h12.8m2.5 0h2.6m-128 2.6h2.6m10.2 0h5.1m7.7 0h2.6m10.2 0h2.6m5.1 0h2.6m20.4 0h2.6m5.1 0h2.6m2.5 0h2.6m28.1 0h7.7m5.1 0h2.6m-110.1 2.6h5.1m10.3 0h2.6m17.8 0h2.6m5.1 0h2.6m7.7 0h2.6m-46.2 2.5h2.6m15.4 0h2.6m17.8 0h2.6m15.4 0h2.6m25.5 0h2.6m-133.1 2.6h2.6m20.4 0h2.6m5.1 0h7.7m15.3 0h2.6m10.2 0h2.6m5.1 0h2.6m33.2 0h2.6m25.6 0h2.6m-130.6 2.5h2.6m5.1 0h2.6m5.1 0h2.6m7.6 0h2.6m61.4 0h5.1m33.3 0h2.6m-115.2 2.6h10.2m25.6 0h2.6m10.2 0h5.1m7.7 0h2.6m5.1 0h2.6m17.9 0h2.6m7.6 0h7.7m25.6 0h2.6m-146 2.6h2.6m2.5 0h2.6m2.6 0h5.1m5.1 0h2.6m17.9 0h2.6m35.8 0h2.6m28.1 0h5.1m-112.6 2.5h2.6m5.1 0h2.6m2.5 0h5.1m10.2 0h2.6m12.8 0h2.6m69.1 0h2.6m-133.2 2.6h2.6m2.5 0h2.6m7.7 0h5.1m5.1 0h2.6m5.1 0h5.1m12.8 0h2.6m43.5 0h2.6m23 0h2.6m2.5 0h2.6m-120.3 2.5h2.6m15.3 0h5.1m53.8 0h2.6m33.2 0h2.6m2.5 0h2.6m-110.1 2.6h2.6m58.8 0h2.6m38.4 0h5.1m2.6 0h2.6m-140.9 2.6h2.6m7.7 0h2.6m7.6 0h7.7m7.7 0h7.7m56.3 0h2.6m-97.3 2.5h2.6m2.5 0h5.1m5.1 0h2.6m5.1 0h2.6m12.8 0h2.6m33.2 0h2.6m15.3 0h2.6m30.7 0h2.6m-130.6 2.6h2.6m12.8 0h7.7m5.1 0h2.6m12.7 0h2.6m76.8 0h2.6m2.5 0h2.6m5.1 0h2.6m-143.4 2.5h2.6m10.2 0h2.6m5.1 0h2.6m2.5 0h2.6m5.1 0h2.6m99.8 0h2.6m-148.6 2.6h2.6m28.2 0h5.1m15.3 0h5.1m23.1 0h2.6m61.4 0h2.6m-128 2.6h2.6m2.5 0h2.6m2.5 0h2.6m2.5 0h2.6m99.8 0h2.6m5.1 0h2.6m-143.4 2.5h2.6m2.5 0h2.6m2.5 0h5.1m7.7 0h12.8m2.6 0h2.6m7.6 0h2.6m7.7 0h2.6m12.7 0h2.6m10.2 0h2.6m5.1 0h2.6m33.3 0h5.1m2.5 0h2.6m-125.4 2.6h7.7m2.5 0h2.6m64 0h2.6m35.8 0h7.7m-143.4 2.5h2.6m20.4 0h5.1m2.6 0h2.6m5.1 0h2.6m2.5 0h2.6m-25.6 2.6h2.6m7.6 0h2.6m17.9 0h2.6m81.9 0h5.1m-138.3 2.6h2.6m10.2 0h2.6m5.1 0h5.1m33.3 0h2.6m69.1 0h7.7m-140.8 2.5h2.6m5.1 0h2.6m10.2 0h2.6m2.5 0h2.6m2.5 0h2.6m15.3 0h2.6m5.1 0h5.1m2.6 0h2.6m66.5 0h2.6m2.5 0h5.1m-151 2.6h2.6m7.6 0h2.6m7.7 0h2.6m2.5 0h5.1m30.7 0h2.6m71.7 0h2.6m2.5 0h2.6m-140.8 2.5h2.6m10.2 0h5.1m2.5 0h2.6m7.7 0h5.1m5.1 0h2.6m17.9 0h2.6m10.2 0h2.6m33.2 0h2.6m23 0h2.6m2.6 0h2.6m2.5 0h2.6m-140.9 2.6h2.6m15.4 0h5.1m2.5 0h2.6m2.6 0h2.6m30.6 0h2.6m58.9 0h7.7m-130.6 2.6h2.6m5.1 0h2.6m2.5 0h5.1m5.1 0h2.6m20.5 0h2.6m71.6 0h15.4m-130.6 2.5h5.1m5.2 0h2.6m5 0h2.6m5.1 0h2.6m10.2 0h5.1m7.7 0h5.1m23.1 0h2.6m43.5 0h2.6m-125.5 2.6h7.7m33.2 0h2.6m12.8 0h2.6m51.2 0h2.6m-117.8 2.5h7.7m2.5 0h5.1m2.6 0h2.6m69.1 0h2.6m23 0h5.1m5.1 0h2.6m-133.2 2.6h2.6m12.8 0h10.2m15.4 0h2.6m7.6 0h2.6m28.2 0h2.6m38.3 0h2.6m-125.5 2.6h2.6m5.1 0h2.6m2.5 0h5.1m2.6 0h2.6m10.2 0h2.6m5.1 0h2.6m-43.6 2.5h2.6m5.1 0h2.6m7.7 0h2.6m2.5 0h2.6m20.4 0h2.6m2.5 0h2.6m15.4 0h2.6m2.5 0h2.6m-82 2.6h2.6m7.7 0h2.6m5 0h2.6m2.6 0h2.6m7.6 0h2.6m10.2 0h2.6m7.6 0h2.6m2.6 0h2.6m2.5 0h2.6m10.2 0h2.6m35.8 0h2.6m-112.7 2.5h2.6m2.5 0h2.6m2.5 0h2.6m10.2 0h2.6m12.8 0h2.6m2.5 0h2.6m2.5 0h2.6m10.2 0h2.6m48.6 0h5.1m5.2 0h2.6m-112.7 2.6h2.6m102.4 0h2.6m-123 2.6h5.1m18 0h2.6m17.9 0h5.1m17.9 0h2.6m40.9 0h2.6m2.5 0h2.6m-120.3 2.5h10.2m17.9 0h2.6m15.4 0h2.6m28.1 0h2.6m7.6 0h2.6m23 0h2.6m-115.2 2.6h2.6m7.6 0h2.6m2.5 0h2.6m7.7 0h2.6m23 0h2.6m56.3 0h2.6m-107.6 2.5h2.6m2.5 0h2.6m10.2 0h5.1m5.2 0h5.1m10.2 0h5.1m2.6 0h2.6m5.1 0h5.1m23 0h2.6m15.4 0h2.6m-112.7 2.6h2.6m2.5 0h5.1m10.3 0h7.7m2.5 0h2.6m17.9 0h5.1m7.7 0h2.6m17.9 0h2.6m17.8 0h2.6m-105 2.6h2.6m2.6 0h5.1m2.5 0h2.6m2.6 0h2.6m33.2 0h2.6m5.1 0h2.6m2.5 0h2.6m28.1 0h2.6m5.1 0h5.1m-97.3 2.5h2.6m12.8 0h2.6m15.3 0h2.6m5.1 0h5.1m5.1 0h2.6m10.2 0h2.6m12.8 0h2.6m5.1 0h2.6m23 0h2.6m-120.4 2.6h2.6m2.5 0h2.6m2.6 0h2.6m5 0h2.6m38.4 0h5.1m23.1 0h7.7m-115.3 2.5h2.6m5.1 0h5.1m12.8 0h2.6m2.6 0h2.6m2.5 0h2.6m7.6 0h2.6m56.3 0h7.7m-92.2 2.6h5.1m2.6 0h2.6m2.5 0h5.1m23.1 0h5.1m38.4 0h10.2m10.3 0h2.6m-122.9 2.6h2.6m10.2 0h2.6m2.5 0h2.6m7.6 0h2.6m2.5 0h5.1m2.6 0h5.1m51.2 0h2.6m5.1 0h2.6m-107.5 2.5h2.6m33.2 0h2.6m2.5 0h2.6m2.5 0h2.6m12.8 0h5.1m30.7 0h2.6m2.6 0h2.6m-87.1 2.6h2.6m23 0h5.1m15.4 0h2.6m10.2 0h5.1m12.8 0h2.6m2.5 0h5.1m-87 2.5h2.6m5.1 0h2.6m2.5 0h2.6m5.1 0h2.6m2.5 0h2.6m7.6 0h5.1m5.2 0h2.6m23 0h5.1m-89.6 2.6h7.7m2.5 0h2.6m2.5 0h10.2m2.6 0h5.1m18 0h5.1m5.1 0h2.6m2.5 0h2.6m2.6 0h2.6m7.6 0h2.6m5.1 0h2.6m-76.9 2.6h5.1m2.6 0h2.6m7.7 0h7.7m15.3 0h2.6m2.5 0h2.6m2.5 0h2.6m12.8 0h5.1m5.1 0h2.6m2.6 0h2.6m10.2 0h5.1m-112.7 2.5h2.6m15.4 0h5.1m5.1 0h2.6m5.1 0h2.6m2.5 0h2.6m2.5 0h2.6m12.8 0h5.1m2.6 0h5.1m7.7 0h2.6m-74.3 2.6h2.6m5.1 0h7.7m12.7 0h5.1m18 0h5.1m7.7 0h2.6m2.5 0h5.1m-76.8 2.5h2.6m17.9 0h2.6m5.1 0h2.6m7.6 0h5.1m10.3 0h2.6m15.3 0h2.6m28.1 0h2.6m-105 2.6h2.6m2.5 0h2.6m10.2 0h2.6m5.1 0h10.2m5.2 0h2.6m15.3 0h2.6m5.1 0h2.6m10.2 0h2.6m5.1 0h2.6m-102.5 2.6h2.6m17.9 0h2.6m10.2 0h2.6m20.4 0h2.6m7.7 0h2.6m2.5 0h2.6m2.5 0h5.1m5.2 0h2.6m2.5 0h2.6m-76.9 2.5h2.6m5.1 0h2.6m5.1 0h2.6m10.2 0h5.1m2.6 0h2.6m5.1 0h2.6m15.3 0h2.6m-51.3 2.6h2.6m7.7 0h2.6m10.2 0h2.6m7.6 0h2.6m7.7 0h2.6m10.2 0h2.6m-87.1 2.5h2.6m17.9 0h2.6m20.4 0h2.6m20.4 0h5.1m2.6 0h2.6" stroke="#000" stroke-width="2.56" fill="none" stroke-opacity="0.4"/>
<path d="M394.2 677.1h2.6m10.2 0h2.6m-7.7 2.6h2.6m30.7 10.2h2.6m-53.8 2.6h2.6m17.9 2.5h2.6m17.9 0h2.6m-41 2.6h2.6m12.7 0h5.1m2.6 0h7.7m2.5 2.6h2.6m-20.5 2.5h5.1m15.4 2.6h2.6m-41 2.5h2.6m17.9 0h2.6m-18 5.2h2.6m5.1 0h2.6m7.6 0h2.6m-23 2.5h2.6m7.6 0h2.6m7.6 0h2.6m7.7 0h2.6m-15.4 5.1h2.6m-7.7 2.6h2.6m10.2 0h2.6m-33.4 2.6h2.6m7.7 2.5h2.6m15.3 0h2.6m-18 2.6h2.6m5.1 0h2.6m-38.4 5.1h2.6m15.3 0h2.6m12.8 0h5.1m5.1 0h2.6m-7.7 2.6h2.6m-15.4 2.5h2.6m5.1 0h2.6m7.6 7.7h2.6m-20.5 2.6h2.6m15.3 0h2.6m-7.7 2.5h2.6m-15.4 5.1h2.6m-10.3 2.6h2.6m12.8 2.6h2.6m-12.9 2.5h2.6m10.2 0h5.1m-5.1 2.6h2.6m2.5 0h5.1m-38.3 2.5h2.6m10.2 2.6h2.6m-20.6 2.6h2.6m15.4 0h2.6m5 0h2.6m2.6 0h2.6m-41 2.5h2.6m46 0h2.6m-28.2 2.6h2.6m5.1 0h2.6m-18 2.5h2.6m-17.9 2.6h2.6m53.7 0h2.6m2.5 0h2.6m-51.2 2.6h2.6m12.7 0h5.1m-30.7 2.5h2.6m7.7 0h5.1m7.7 0h7.7m5.1 0h5.1m17.9 0h2.6m2.5 0h5.1m-69.1 2.6h2.6m23 0h2.6m2.5 0h2.6m15.4 0h2.6m-59 2.5h2.6m5.1 0h5.1m10.3 0h2.6m2.5 0h2.6m23 0h2.6m-33.3 2.6h2.6m7.6 0h2.6m-46.1 2.6h2.6m23 0h2.6m10.2 0h5.1m2.6 0h2.6m17.9 0h2.6m2.5 0h2.6m-66.6 2.5h5.1m28.2 0h7.7m2.5 0h7.7m17.9 0h2.6m-64 2.6h2.6m2.5 0h2.6m2.5 0h5.1m7.7 0h2.6m2.5 0h2.6m10.2 0h2.6m2.5 0h2.6m7.7 0h2.6m2.5 0h2.6m-79.4 2.5h2.6m2.5 0h2.6m12.8 0h2.6m10.2 0h2.6m5.1 0h5.1m2.5 0h5.1m5.2 0h2.6m10.2 0h2.6m-71.7 2.6h2.6m5 0h2.6m7.7 0h2.6m7.6 0h5.1m23.1 0h2.6m-66.6 2.6h2.6m5.1 0h2.6m10.2 0h7.7m15.3 0h5.1m12.8 0h2.6m10.2 0h2.6m-71.7 2.5h2.6m2.5 0h5.1m12.8 0h2.6m23 0h2.6m12.8 0h2.6m-56.4 2.6h2.6m2.6 0h2.6m2.5 0h2.6m15.3 0h2.6m10.2 0h2.6m15.3 0h5.1m2.6 0h2.6m-97.3 2.5h2.6m17.9 0h2.6m10.2 0h2.6m10.2 0h2.6m2.5 0h2.6m12.7 0h2.6m7.7 0h5.1m5.1 0h5.1m-64 2.6h2.6m23 0h2.6m7.7 0h2.6m2.5 0h5.1m17.9 0h2.6m-87 2.6h2.6m7.6 0h2.6m2.5 0h2.6m30.7 0h2.6m23 0h2.6m5.1 0h2.6m7.6 0h2.6m-69.1 2.5h2.6m15.3 0h2.6m12.7 0h2.6m2.6 0h2.6m10.2 0h2.6m-69.2 2.6h5.1m23.1 0h2.6m2.5 0h2.6m30.7 0h2.6m5 0h2.6m-94.7 2.5h2.6m5.1 0h2.6m2.5 0h2.6m2.5 0h2.6m38.4 0h2.6m28.1 0h5.1m-87 2.6h2.6m7.6 0h2.6m66.5 0h2.6m-81.9 2.6h2.6m56.2 0h2.6m17.9 0h2.6m-74.3 2.5h2.6m5.1 0h2.6m40.9 0h2.6m10.2 0h2.6m-79.4 2.6h5.1m12.9 0h2.6m28.1 0h2.6m15.3 0h2.6m12.8 0h5.1m2.5 0h2.6m-97.3 2.5h5.1m2.6 0h5.1m28.2 0h2.6m38.3 0h5.1m12.9 0h2.6m-102.5 2.6h2.6m84.5 0h2.6m-89.7 2.6h2.6m38.4 0h2.6m46 0h5.1m-99.8 2.5h2.6m2.5 0h5.1m69.2 0h2.6m5 0h2.6m2.6 0h2.6m2.5 0h2.6m-92.2 2.6h2.6m2.5 0h2.6m35.8 0h2.6m38.4 0h7.7m-97.3 2.5h5.1m81.9 0h2.6m2.5 0h2.6m-92.2 2.6h5.1m-15.3 2.6h2.6m5.1 0h7.7m84.4 0h2.6m-105 2.5h2.6m94.7 0h5.1m-107.5 2.6h2.6m102.4 0h2.6m-110.2 2.5h5.1m-25.5 2.6h2.6m38.3 0h2.6m-35.9 2.6h2.6m15.4 0h2.6m10.2 0h2.6m71.6 0h2.6m7.6 0h2.6m7.7 0h2.6m-107.6 2.5h2.6m5.1 0h2.6m84.4 0h2.6m-97.3 2.6h2.6m92.1 0h2.6m-110.1 2.5h2.6m5.1 0h2.6m2.5 0h2.6m2.5 0h5.1m-17.9 2.6h2.6m-2.6 2.6h5.1m94.8 0h2.6m-122.9 2.5h2.6m23 0h2.6m2.5 0h2.6m74.2 0h2.6m2.5 0h2.6m-99.9 2.6h5.1m5.2 0h2.6m79.3 0h2.6m5.1 2.5h2.6m2.5 0h2.6m-105 2.6h7.7m94.7 0h2.6m-122.9 2.6h2.6m5 0h2.6m2.6 0h2.6m2.5 0h2.6m87 0h2.6m-102.5 2.5h2.6m12.8 0h2.6m-15.4 2.6h7.7m92.1 0h2.6m-115.2 2.5h2.6m10.2 0h5.1m84.5 0h2.6m10.2 0h2.6m-99.9 2.6h2.6m5.1 0h2.6m76.8 0h2.6m-99.9 2.6h2.6m30.7 0h2.6m56.2 0h2.6m-117.8 2.5h2.6m2.6 0h2.6m12.7 0h2.6m89.6 0h2.6m12.7 0h2.6m-110.1 2.6h5.1m92.2 0h2.6m-92.2 2.5h2.6m30.7 0h2.6m53.7 0h2.6m-107.6 2.6h2.6m43.5 0h2.6m15.3 0h2.6m41 0h2.6m-105 2.6h2.6m5 0h5.1m7.7 0h2.6m74.2 0h5.1m-104.9 2.5h2.6m23 0h2.6m74.2 0h2.6m-99.9 2.6h2.6m10.2 0h2.6m81.9 0h2.6m-102.4 2.5h2.6m15.3 0h2.6m74.2 0h2.6m-92.2 2.6h5.1m89.6 0h2.6m-58.9 2.6h2.6m28.1 0h2.6m17.9 0h2.6m-107.6 2.5h2.6m20.5 0h2.6m61.4 0h2.6m7.6 0h5.1m-99.8 2.6h2.6m5.1 0h2.6m7.6 0h2.6m15.3 0h2.6m43.5 0h2.6m-94.8 2.5h2.6m10.2 0h5.1m10.3 0h2.6m66.5 0h2.6m-89.6 2.6h2.6m2.5 0h2.6m7.6 0h2.6m5.1 0h2.6m5.1 0h2.6m64 0h2.6m-115.3 2.6h2.6m23 0h7.7m2.6 0h2.6m12.7 0h7.7m48.6 0h2.6m-89.6 2.5h10.2m5.2 0h2.6m2.5 0h2.6m66.5 0h2.6m-112.7 2.6h2.6m5.1 0h2.6m28.1 0h2.6m12.8 0h2.6m23 0h2.6m15.3 0h2.6m7.6 0h2.6m-115.2 2.5h2.6m35.8 0h2.6m58.8 0h2.6m-92.2 2.6h2.6m10.2 0h2.6m2.6 0h2.6m7.6 0h7.7m5.1 0h2.6m2.5 0h2.6m7.7 0h2.6m12.7 0h5.1m-69.1 2.6h2.6m5.1 0h2.6m28.1 0h5.1m2.6 0h2.6m2.5 0h5.1m23.1 0h2.6m5.1 0h2.6m2.5 0h2.6m-79.4 2.5h2.6m5.1 0h2.6m28.1 0h2.6m7.6 0h2.6m2.5 0h5.1m5.2 0h2.6m-64.1 2.6h2.6m2.6 0h2.6m10.2 0h2.6m2.5 0h7.7m10.2 0h2.6m7.6 0h2.6m2.6 0h2.6m5 0h2.6m-58.9 2.5h2.6m5.1 0h5.1m20.5 0h2.6m2.5 0h2.6m5.1 0h2.6m5.1 0h2.6m-58.9 2.6h5.1m7.7 0h5.1m25.6 0h2.6m5.1 0h5.1m-69.1 2.6h2.6m23 0h2.6m2.5 0h2.6m10.2 0h2.6m7.6 0h2.6m-48.7 2.5h2.6m2.6 0h2.6m17.8 0h7.7m7.7 0h2.6m-56.4 2.6h2.6m15.4 0h2.6m2.5 0h2.6m12.7 0h2.6m5.1 0h2.6m5.1 0h2.6m-51.2 2.5h2.6m12.7 0h2.6m5.1 0h2.6m12.8 0h2.6m7.6 0h5.1m-25.6 2.6h2.6m-23.1 2.6h2.6m25.6 2.5h2.6m-10.3 2.6h2.6m2.5 2.5h2.6" stroke="#000" stroke-width="2.56" fill="none" stroke-opacity="0.64"/>
<path d="M396.8 692.5h2.6m0 17.9h2.6m-5.2 15.4h2.6m-10.3 2.5h2.6m-10.3 10.3h2.6m15.4 23h2.6m-12.9 12.8h2.6m15.3 5.1h2.6m-10.2 2.6h2.6m-15.4 2.5h2.6m-2.6 2.6h2.6m2.5 0h2.6m-23.1 2.6h2.6m25.6 0h2.6m-5.2 2.5h2.6m-23.1 2.6h5.1m23.1 0h2.6m-61.5 2.5h2.6m12.8 0h2.6m10.2 0h2.6m15.3 2.6h2.6m15.3 0h2.6m-48.7 2.6h2.6m28.1 0h2.6m-33.3 2.5h2.6m12.8 0h7.7m-10.3 2.6h2.6m2.5 0h2.6m2.6 0h2.6m2.5 0h7.7m-23.1 2.5h2.6m5.1 0h2.6m28.1 0h2.6m-58.9 2.6h2.6m28.1 0h5.1m5.2 0h2.6m5 0h5.1m-38.3 2.6h2.6m2.5 0h5.1m10.2 0h2.6m2.6 0h2.6m10.2 0h2.6m-56.4 2.5h7.7m5.1 0h15.4m2.5 0h2.6m5.1 0h7.7m7.7 0h5.1m-66.6 2.6h2.6m17.9 0h2.6m5.1 0h2.6m7.6 0h5.1m7.7 0h2.6m-38.4 2.5h2.6m15.3 0h10.2m2.6 0h2.6m2.5 0h2.6m7.7 0h2.6m5 0h2.6m-76.8 2.6h5.1m2.6 0h2.6m10.2 0h5.1m2.6 0h2.6m12.7 0h2.6m23 0h2.6m-74.3 2.6h2.6m10.2 0h10.2m2.6 0h2.6m17.9 0h5.1m5.2 0h2.6m-53.8 2.5h2.6m2.5 0h2.6m2.5 0h2.6m10.2 0h2.6m2.5 0h2.6m5.1 0h2.6m15.3 0h2.6m2.5 0h5.1m-79.3 2.6h2.6m7.6 0h2.6m17.9 0h7.7m25.6 0h2.6m2.5 0h2.6m2.5 0h2.6m-66.6 2.5h2.6m15.4 0h2.6m25.5 0h5.1m5.2 0h5.1m10.2 0h2.6m-28.2 2.6h2.6m25.6 0h2.6m-102.5 2.6h2.6m20.5 0h7.7m56.3 0h2.6m2.5 0h2.6m5.1 0h2.6m-84.5 2.5h7.7m5.1 0h2.6m51.1 0h2.6m5.1 0h5.1m-76.8 2.6h2.6m2.5 0h2.6m58.9 0h7.7m-71.7 2.5h2.6m2.5 0h2.6m56.3 0h2.6m-74.3 2.6h2.6m74.2 0h2.6m-94.8 2.6h2.6m7.7 0h5.1m5.1 0h2.6m71.7 0h2.6m-79.4 2.5h5.1m69.1 0h2.6m-89.6 2.6h5.1m2.5 0h2.6m66.6 0h2.6m2.5 0h2.6m2.5 0h2.6m-84.5 2.5h2.6m5.1 0h2.6m69 0h2.6m-89.6 2.6h5.1m7.7 0h2.6m66.5 0h2.6m2.5 0h2.6m-92.2 2.6h2.6m10.2 0h2.6m74.2 0h2.6m7.7 0h2.6m-94.8 2.5h5.1m76.8 0h2.6m-94.7 2.6h2.6m2.5 2.5h2.6m84.4 0h2.6m-94.7 2.6h7.7m81.9 0h5.1m-7.7 2.6h5.1m-89.6 2.5h2.6m76.8 0h2.6m2.5 0h2.6m-99.9 2.6h5.1m-2.5 5.1h5.1m81.9 0h2.6m2.6 0h2.6m2.5 0h2.6m-94.8 2.6h2.6m-10.3 2.5h2.6m5.1 0h2.6m79.3 0h2.6m7.7 0h2.6m-102.5 2.6h5.1m2.6 0h5.1m-20.4 2.5h2.6m10.2 0h2.6m84.4 0h2.6m-87.1 2.6h2.6m79.3 0h5.1m-99.8 2.6h2.6m5.1 0h2.6m2.5 0h2.6m-17.9 2.5h2.6m94.6 0h2.6m-105 2.6h2.6m12.8 0h5.1m74.3 0h2.6m2.5 2.5h2.6m-92.2 2.6h5.1m81.9 0h2.6m-92.2 2.6h5.1m2.6 0h2.6m-7.7 2.5h2.6m2.5 0h2.6m74.2 0h5.1m-104.9 2.6h2.6m5 0h2.6m5.1 0h2.6m2.5 0h5.1m71.7 0h2.6m-92.2 2.5h2.6m7.7 0h7.7m66.5 0h2.6m-87.1 2.6h7.7m2.6 0h2.6m74.2 2.6h2.6m5.1 0h2.6m-112.7 2.5h2.6m12.7 0h7.7m71.7 0h2.6m7.6 0h2.6m-107.5 2.6h2.6m10.2 0h2.6m12.7 0h2.6m61.4 0h2.6m10.2 0h2.6m-97.3 2.5h5.1m5.2 0h2.6m-12.9 2.6h2.6m5.1 0h2.6m69.1 0h2.6m2.5 0h2.6m-87.1 2.6h2.6m2.5 0h2.6m2.6 0h2.6m7.6 0h2.6m61.4 0h2.6m-84.5 2.5h2.6m7.6 0h5.1m58.9 0h2.6m2.5 0h2.6m-84.5 2.6h2.6m2.5 0h2.6m5.1 0h7.7m2.6 0h2.6m53.7 0h2.6m2.5 0h2.6m-89.6 2.5h2.6m15.3 0h2.6m61.4 0h2.6m-89.7 2.6h2.6m15.4 0h2.6m2.5 0h5.1m53.8 0h5.1m-61.5 2.6h5.1m38.5 0h2.6m-74.3 2.5h2.6m12.7 0h2.6m5.1 0h2.6m15.3 0h2.6m33.3 0h2.6m7.6 0h2.6m-94.7 2.6h2.6m12.7 0h5.1m2.6 0h5.1m2.6 0h2.6m12.7 0h5.1m5.2 0h2.6m17.9 0h10.2m-71.7 2.5h2.6m2.5 0h2.6m2.6 0h2.6m2.5 0h2.6m15.3 0h2.6m10.2 0h2.6m12.8 0h5.1m-43.5 2.6h2.6m7.6 0h2.6m20.4 0h2.6m5.1 0h7.7m-61.4 2.6h2.6m5 0h2.6m2.6 0h2.6m5 0h2.6m12.8 0h2.6m10.2 0h2.6m-61.5 2.5h2.6m2.5 0h2.6m7.7 0h2.6m2.5 0h12.8m5.1 0h2.6m7.7 0h2.6m2.5 0h2.6m5.1 0h5.1m-64 2.6h2.6m15.3 0h2.6m15.3 0h5.1m15.4 0h2.6m2.5 0h2.6m-74.3 2.5h2.6m38.4 0h2.6m2.5 0h7.7m2.6 0h2.6m2.5 0h2.6m-53.8 2.6h2.6m12.7 0h2.6m20.5 0h2.6m2.5 0h2.6m2.5 0h2.6m-33.3 2.6h2.6m7.6 0h2.6m12.8 0h2.6m7.6 0h2.6m-41 2.5h2.6m17.9 0h2.6m12.8 0h2.6m-5.2 2.6h2.6m-30.7 2.5h2.6m5 0h2.6m17.9 0h2.6m-23.1 2.6h2.6m-7.7 2.6h2.6m12.8 2.5h2.6m-48.7 2.6h2.6m43.5 0h2.6" stroke="#000" stroke-width="2.56" fill="none" stroke-opacity="0.85"/>
<path d="M366.1 802.6h2.6m30.7 0h2.6m-43.6 7.6h2.6m2.5 2.6h2.6m2.5 0h7.7m5.1 0h7.7m7.7 0h2.6m-30.8 2.6h5.1m2.6 0h2.6m12.8 0h2.6m12.7 2.5h2.6m-46.1 2.6h2.6m2.5 0h2.6m2.6 0h2.6m5 0h2.6m2.6 0h2.6m23 0h2.6m-59 2.5h2.6m12.8 0h2.6m2.5 0h2.6m2.5 0h2.6m25.6 0h2.6m-53.8 2.6h7.7m5.1 0h2.6m2.5 0h5.1m2.6 0h5.1m5.1 0h2.6m5.1 0h5.1m5.2 0h2.6m-48.7 2.6h2.6m2.5 0h12.8m2.6 0h2.6m5 0h5.1m5.2 0h2.6m-51.3 2.5h2.6m5.1 0h7.7m2.6 0h2.6m5 0h2.6m2.6 0h7.7m2.5 0h2.6m-46.1 2.6h10.2m17.9 0h15.4m7.7 0h2.6m-58.9 2.5h12.8m33.2 0h5.1m5.2 0h5.1m-66.6 2.6h2.6m5.1 0h7.7m33.3 0h12.8m2.5 0h2.6m-71.7 2.6h2.6m7.7 0h5.1m43.5 0h7.7m2.5 0h2.6m2.6 0h2.6m-69.2 2.5h2.6m48.6 0h5.1m2.6 0h2.6m-66.6 2.6h2.6m2.5 0h2.6m51.2 0h5.1m-66.6 2.5h2.6m2.5 0h2.6m53.8 0h5.1m-69.1 2.6h5.1m58.9 0h10.2m-76.8 2.6h2.6m5.1 0h2.6m58.8 0h10.2m-10.2 2.5h5.1m-71.6 2.6h2.6m63.9 0h2.6m2.5 0h2.6m-92.2 2.5h2.6m10.2 0h5.1m66.6 0h5.1m-76.8 2.6h2.6m71.7 0h2.6m-7.7 2.6h7.7m-87.1 2.5h2.6m79.3 0h5.1m-89.6 2.6h2.6m5.1 0h5.1m69.2 0h10.2m-87 2.5h5.1m71.7 0h7.7m-84.5 2.6h2.6m74.2 0h5.1m-92.2 2.6h2.6m84.5 0h2.6m-2.6 2.5h2.6m2.5 0h2.6m-92.2 2.6h7.7m74.2 0h7.7m-89.6 2.5h2.6m79.3 0h7.7m-89.6 2.6h2.6m79.3 0h2.6m2.5 0h2.6m-89.6 2.6h2.6m76.7 0h7.7m-7.7 5.1h5.1m-94.7 2.5h2.6m5.1 0h2.6m76.8 0h5.1m5.1 0h2.6m-94.7 2.6h2.6m76.7 0h5.1m-89.6 2.6h2.6m2.6 0h2.6m76.7 0h2.6m2.5 0h2.6m-92.2 2.5h2.6m2.6 0h2.6m74.2 0h7.7m-92.2 2.6h5.1m81.9 0h2.6m-87.1 2.5h7.7m74.3 0h2.6m-5.2 2.6h2.6m-92.2 2.6h2.6m7.6 0h2.6m76.8 0h5.1m-92.1 2.5h2.6m5 0h2.6m74.2 0h2.6m-89.6 2.6h5.1m2.6 0h2.6m74.2 0h2.6m-84.5 2.5h5.1m76.8 0h5.1m-84.5 2.6h2.6m2.5 0h2.6m69.1 0h7.7m-87 2.6h2.6m2.5 0h2.6m69.1 0h5.1m-79.4 2.5h7.7m66.6 0h7.7m-89.7 2.6h2.6m2.6 0h2.6m2.5 0h2.6m66.5 0h7.7m-84.5 2.5h2.6m2.5 0h2.6m2.5 0h2.6m61.4 0h7.7m-76.8 2.6h10.2m58.9 0h2.6m2.6 0h2.6m-82 2.6h2.6m2.5 0h7.7m56.3 0h7.7m2.6 0h2.6m-82 2.5h2.6m7.6 0h5.1m56.4 0h2.6m-71.7 2.6h2.6m7.6 0h2.6m51.2 0h5.1m-61.5 2.5h7.7m46.1 0h5.1m5.1 0h2.6m-61.4 2.6h5.1m38.4 0h7.7m5.1 0h2.6m-74.3 2.6h2.6m2.5 0h5.1m5.2 0h2.6m38.3 0h12.8m-58.9 2.5h7.7m2.6 0h2.6m28.1 0h7.7m2.5 0h2.6m2.6 0h2.6m-59 2.6h10.2m7.8 0h5.1m10.2 0h2.6m2.5 0h5.1m-43.5 2.5h10.2m2.6 0h2.6m2.6 0h10.2m2.6 0h12.8m5.1 0h2.6m-53.8 2.6h2.6m20.4 0h12.8m7.7 0h5.1m-28.1 2.6h2.6m5 0h2.6m2.6 0h10.2m2.6 0h2.6m-20.6 2.5h5.1m-23 2.6h2.6m25.6 0h2.6m-38.5 2.5h2.6m12.8 2.6h5.1m17.9 0h2.6m-5.1 2.6h2.6m-7.7 5.1h2.6" stroke="#000" stroke-width="2.56" fill="none" stroke-opacity="1"/>
</g>
<rect x="252.5" y="627.5" width="411.79999999999995" height="378.5" fill="none" stroke="#000" stroke-width="5"/>
<path d="M362 627.5V1006M252.5 913.6H664.3" stroke="#000" stroke-width="4.7" fill="none"/>
<path d="M238.0 644H252.5M238.0 734.6H252.5M238.0 827H252.5M238.0 913.6H252.5M343 1006V1019M434.4 1006V1019M526.5 1006V1019M617.7 1006V1019" stroke="#000" stroke-width="4.2" fill="none"/>
<g>
<path d="M393.0 1608.8L393.7 1611.0L392.9 1613.4L391.1 1615.5L388.1 1616.8L388.0 1620.2L385.5 1621.7L382.7 1622.7L381.8 1625.7L380.0 1627.7L378.7 1630.8L377.0 1633.5L375.5 1637.2L372.8 1636.8L370.9 1639.4L368.5 1639.4L366.5 1641.1L364.4 1641.2L362.4 1643.8L360.3 1645.6L358.3 1645.5L356.0 1648.6L354.5 1647.1L352.6 1648.2L351.9 1646.1L350.9 1645.3L349.0 1646.0L349.1 1640.9L347.1 1641.2L347.1 1636.9L344.9 1637.2L342.6 1637.2L340.1 1637.0L339.4 1633.9L338.5 1631.2L337.7 1628.4L336.9 1625.7L335.9 1623.1L335.4 1620.2L333.9 1617.8L335.3 1613.9L334.9 1611.1L332.8 1608.7L333.0 1605.7L334.1 1602.7L334.3 1600.0L334.3 1597.4L335.8 1595.3L337.0 1593.8L337.1 1591.9L337.5 1589.7L339.6 1587.9L339.9 1585.2L340.0 1581.9L342.7 1580.5L343.0 1576.8L344.0 1573.3L346.9 1572.4L348.3 1569.1L349.8 1565.6L352.7 1565.6L355.3 1565.7L356.7 1560.5L359.2 1560.6L361.4 1558.8L363.6 1558.4L365.6 1559.0L367.6 1557.8L369.5 1557.9L371.7 1555.3L373.2 1556.2L374.3 1558.3L375.7 1557.3L377.1 1556.7L379.1 1555.7L380.7 1556.4L381.3 1559.7L384.1 1558.2L384.1 1562.9L385.6 1564.4L385.9 1568.1L387.5 1569.6L389.1 1571.3L389.5 1574.5L391.2 1576.2L392.1 1578.9L391.9 1582.3L392.3 1585.2L394.3 1587.4L394.0 1590.6L394.3 1593.5L394.4 1596.4L393.0 1599.3L392.6 1601.9L393.5 1604.5L393.0 1606.8Z" fill="#000"/>
<path d="M430.1 1322.2h5.1m17.9 2.6h2.6m-38.4 5.1h2.6m12.7 2.6h2.6m2.6 2.5h2.6m-30.8 2.6h2.6m25.6 0h2.6m5 0h2.6m-33.3 2.6h2.6m5.1 0h2.6m10.2 0h5.1m5.1 0h2.6m-33.3 2.5h2.6m7.7 0h2.6m20.4 0h2.6m-48.7 2.6h2.6m7.7 0h2.6m2.5 0h2.6m7.6 0h2.6m20.5 0h2.6m2.5 0h5.1m-74.2 2.5h2.6m40.9 0h5.1m5.1 0h5.1m2.6 0h2.6m-30.8 2.6h2.6m28.2 0h2.6m10.2 0h2.6m-51.3 2.6h2.6m17.9 0h2.6m5.1 0h2.6m2.5 0h2.6m35.8 0h2.6m-61.5 2.5h5.1m-25.6 2.6h2.6m17.9 0h5.1m7.7 0h5.1m23.1 0h2.6m-82 2.5h2.6m20.5 0h2.6m2.5 0h5.1m5.1 0h2.6m2.5 0h2.6m10.2 0h5.1m-40.9 2.6h2.6m7.6 0h2.6m7.7 0h10.2m25.6 0h2.6m10.2 0h2.6m-56.3 2.6h2.6m7.6 0h5.1m5.1 0h2.6m12.8 0h2.6m-43.6 2.5h5.1m10.3 0h5.1m7.7 0h2.6m12.8 0h2.6m-94.8 2.6h2.6m35.8 0h10.2m12.8 0h2.6m10.2 0h5.1m-56.3 2.5h2.6m5.1 0h2.6m10.2 0h2.6m2.5 0h2.6m2.6 0h5.1m7.7 0h5.1m2.5 0h2.6m-48.6 2.6h2.6m2.5 0h5.1m10.2 0h2.6m2.6 0h12.8m2.5 0h5.1m2.6 0h10.2m-58.8 2.6h2.6m5 0h2.6m10.2 0h7.7m2.6 0h7.7m2.5 0h2.6m2.5 0h5.1m7.7 0h2.6m-66.6 2.5h2.6m17.9 0h2.6m7.7 0h2.6m7.6 0h7.7m15.3 0h5.1m-66.5 2.6h2.6m5.1 0h2.6m7.6 0h2.6m2.5 0h5.1m5.2 0h5.1m2.6 0h2.6m2.5 0h2.6m5.1 0h2.6m-53.8 2.5h2.6m2.5 0h5.1m5.1 0h2.6m2.5 0h2.6m5.1 0h2.6m2.5 0h2.6m12.8 0h2.6m5.1 0h2.6m-64.1 2.6h2.6m5.1 0h2.6m5.1 0h5.1m5.1 0h2.6m5.1 0h2.6m2.5 0h2.6m5.1 0h2.6m2.5 0h7.7m20.5 0h2.6m10.2 0h2.6m-92.2 2.6h10.2m2.6 0h2.6m15.3 0h2.6m2.5 0h2.6m2.6 0h7.7m10.2 0h2.6m-48.7 2.5h5.1m10.3 0h2.6m2.5 0h2.6m10.2 0h5.1m10.2 0h2.6m12.8 0h2.6m28.1 0h2.6m-135.7 2.6h2.6m12.8 0h2.6m2.5 0h2.6m20.4 0h5.1m2.6 0h7.7m5.1 0h2.6m2.5 0h5.1m2.6 0h5.1m35.9 0h2.6m-92.2 2.5h2.6m2.5 0h5.1m2.6 0h5.1m7.7 0h5.1m2.5 0h5.1m2.6 0h2.6m5.1 0h2.6m-53.8 2.6h2.6m2.5 0h5.1m7.7 0h2.6m10.2 0h7.7m2.6 0h5.1m2.5 0h2.6m2.6 0h2.6m2.5 0h2.6m7.6 0h2.6m-92.2 2.6h2.6m17.9 0h2.6m5.1 0h2.6m5.1 0h2.6m5 0h2.6m7.7 0h2.6m2.5 0h2.6m5.1 0h5.1m-51.2 2.5h2.6m5.1 0h2.6m2.5 0h2.6m2.5 0h2.6m7.7 0h2.6m5 0h12.8m15.4 0h5.1m-71.7 2.6h2.6m5.1 0h7.7m10.2 0h2.6m2.6 0h5.1m2.5 0h2.6m12.8 0h2.6m-58.9 2.5h2.6m15.3 0h2.6m33.2 0h5.1m-58.8 2.6h2.6m15.3 0h2.6m2.5 0h2.6m5.1 0h2.6m2.5 0h5.1m7.7 0h2.6m2.5 0h5.1m5.2 0h2.6m-71.7 2.6h5.1m2.5 0h5.1m7.7 0h2.6m10.2 0h5.1m18 0h2.6m2.5 0h2.6m2.5 0h5.1m-69.1 2.5h2.6m2.5 0h2.6m12.8 0h5.1m2.6 0h5.1m5.1 0h5.1m15.4 0h2.6m-97.3 2.6h2.6m30.7 0h2.6m5 0h5.1m7.7 0h5.1m2.6 0h2.6m2.5 0h2.6m10.2 0h7.7m12.8 0h2.6m7.7 0h2.6m-69.2 2.5h2.6m7.6 0h2.6m25.6 0h2.6m5.1 0h2.6m10.2 0h2.6m-58.9 2.6h2.6m12.7 0h10.2m5.2 0h10.2m-43.5 2.6h7.7m10.2 0h5.1m2.6 0h2.6m5.1 0h2.6m5.1 0h5.1m2.5 0h2.6m10.2 0h2.6m2.6 0h2.6m-87.1 2.5h2.6m7.6 0h2.6m7.7 0h5.1m5.1 0h2.6m2.5 0h10.2m10.3 0h2.6m-79.4 2.6h2.6m12.8 0h7.7m2.5 0h2.6m7.6 0h2.6m17.9 0h2.6m2.5 0h2.6m10.2 0h10.2m12.9 0h5.1m-64 2.5h2.6m7.6 0h2.6m2.6 0h2.6m5 0h5.1m2.6 0h5.1m2.6 0h5.1m2.6 0h2.6m7.6 0h2.6m-97.3 2.6h2.6m35.8 0h2.6m5.1 0h2.6m10.2 0h5.1m5.1 0h7.7m17.9 0h2.6m-66.6 2.6h2.6m2.5 0h2.6m12.8 0h7.7m10.2 0h2.6m7.7 0h2.6m10.2 0h2.6m-66.6 2.5h2.6m7.6 0h7.7m5.1 0h2.6m2.5 0h2.6m2.5 0h5.1m5.2 0h5.1m2.6 0h7.7m35.8 0h2.6m-102.5 2.6h2.6m7.7 0h2.6m7.6 0h2.6m7.7 0h2.6m5 0h2.6m12.8 0h2.6m-61.5 2.5h2.6m12.8 0h2.6m2.5 0h2.6m5.1 0h5.1m7.7 0h7.7m5.1 0h2.6m33.2 0h2.6m7.7 0h2.6m-102.5 2.6h2.6m23 0h2.6m2.5 0h5.1m10.3 0h2.6m5.1 0h2.6m2.5 0h2.6m2.5 0h2.6m2.5 0h2.6m2.6 0h5.1m-81.9 2.6h5.1m15.3 0h2.6m7.7 0h5.1m5.1 0h5.1m5.2 0h5.1m15.3 0h2.6m15.4 0h2.6m-112.7 2.5h2.6m12.7 0h2.6m2.6 0h2.6m12.7 0h2.6m5.1 0h5.1m2.6 0h2.6m7.6 0h2.6m5.1 0h5.1m5.1 0h2.6m10.2 0h2.6m-61.4 2.6h2.6m7.6 0h2.6m17.9 0h2.6m5.1 0h5.1m2.5 0h5.1m2.6 0h2.6m7.7 0h2.6m15.3 0h2.6m5.1 0h2.6m-117.8 2.5h2.6m35.8 0h2.6m5 0h2.6m5.1 0h2.6m2.5 0h7.7m-43.5 2.6h5.1m2.6 0h2.6m2.5 0h5.1m2.6 0h2.6m20.4 0h2.6m15.3 0h2.6m2.6 0h2.6m15.3 0h7.7m-76.8 2.6h2.6m10.2 0h2.6m10.2 0h5.1m5.1 0h2.6m7.6 0h2.6m-66.6 2.5h2.6m12.8 0h2.6m12.8 0h2.6m2.5 0h2.6m5.1 0h2.6m5 0h7.7m15.4 0h2.6m23 0h2.6m-122.9 2.6h2.6m5 0h2.6m25.6 0h2.6m2.5 0h2.6m2.5 0h2.6m10.2 0h2.6m2.6 0h2.6m2.5 0h7.7m17.9 0h2.6m2.5 0h5.1m2.6 0h2.6m7.6 0h2.6m-99.9 2.5h2.6m7.7 0h5.1m7.7 0h2.6m17.9 0h2.6m12.7 0h2.6m2.5 0h2.6m5.1 0h2.6m-105 2.6h2.6m10.2 0h2.6m2.5 0h2.6m7.7 0h2.6m5.1 0h2.6m10.2 0h5.1m12.8 0h5.1m17.9 0h2.6m7.7 0h2.6m5 0h2.6m-81.9 2.6h5.1m2.6 0h2.6m2.5 0h2.6m2.5 0h2.6m2.5 0h2.6m5.1 0h2.6m12.8 0h2.6m5 0h2.6m2.6 0h2.6m5 0h2.6m2.6 0h2.6m20.4 0h2.6m-122.9 2.5h2.6m5.1 0h2.6m10.2 0h2.6m7.6 0h2.6m7.6 0h2.6m15.4 0h5.1m5.1 0h2.6m23 0h2.6m7.6 0h5.1m-74.2 2.6h2.6m7.7 0h2.6m2.5 0h2.6m12.7 0h2.6m2.6 0h2.6m7.6 0h2.6m5.1 0h7.7m7.6 0h5.1m-79.3 2.5h2.6m7.6 0h2.6m10.2 0h2.6m5.1 0h7.7m25.6 0h2.6m2.5 0h2.6m7.7 0h2.6m-102.5 2.6h2.6m7.7 0h2.6m15.3 0h2.6m7.6 0h2.6m2.5 0h5.1m5.2 0h7.7m2.5 0h5.1m2.6 0h2.6m2.5 0h5.1m2.6 0h2.6m7.6 0h2.6m7.7 0h2.6m-107.6 2.6h5.1m5.2 0h2.6m7.6 0h2.6m2.5 0h2.6m7.7 0h2.6m20.4 0h5.1m2.6 0h10.2m25.6 0h2.6m-107.5 2.5h5.1m17.9 0h2.6m2.5 0h7.7m5.1 0h2.6m12.8 0h10.2m2.6 0h5.1m7.7 0h5.1m2.6 0h5.1m-102.4 2.6h2.6m5.1 0h5.1m10.2 0h2.6m10.2 0h2.6m15.3 0h2.6m2.6 0h2.6m12.7 0h5.1m2.6 0h5.1m2.6 0h2.6m5.1 0h2.6m12.7 0h2.6m5.1 0h2.6m-99.9 2.5h2.6m2.5 0h2.6m2.6 0h2.6m7.6 0h2.6m2.5 0h5.1m2.6 0h5.1m20.5 0h10.2m15.4 0h7.7m-102.4 2.6h2.6m25.5 0h2.6m12.8 0h2.6m17.9 0h2.6m7.6 0h2.6m2.5 0h2.6m5.1 0h2.6m2.5 0h2.6m12.8 0h2.6m-130.6 2.6h2.6m5.1 0h2.6m28.1 0h2.6m12.8 0h2.6m10.2 0h2.6m7.6 0h2.6m2.5 0h2.6m5.1 0h2.6m2.5 0h5.1m5.2 0h7.7m-110.1 2.5h2.6m10.2 0h2.6m10.2 0h2.6m5 0h7.7m5.1 0h2.6m5.1 0h2.6m20.5 0h2.6m28.1 0h7.7m2.5 0h2.6m-122.9 2.6h2.6m17.9 0h2.6m15.3 0h7.7m20.5 0h2.6m15.3 0h2.6m10.2 0h2.6m5.1 0h5.1m2.5 0h2.6m5.1 0h2.6m-115.2 2.5h2.6m28.1 0h2.6m7.6 0h2.6m2.6 0h2.6m2.5 0h2.6m7.6 0h5.1m15.4 0h2.6m17.9 0h2.6m-112.7 2.6h2.6m5.1 0h2.6m23 0h2.6m7.6 0h2.6m2.5 0h2.6m30.7 0h5.1m2.6 0h5.1m5.1 0h2.6m17.9 0h2.6m-122.9 2.6h2.6m12.8 0h5.1m5.1 0h2.6m5.1 0h2.6m5.1 0h2.6m5 0h7.7m7.7 0h5.1m5.1 0h2.6m5.1 0h2.6m7.7 0h5.1m10.2 0h2.6m-133.1 2.5h2.6m30.6 0h5.1m30.8 0h2.6m17.9 0h5.1m7.7 0h7.7m7.6 0h2.6m2.5 0h2.6m10.2 0h2.6m-117.8 2.6h2.6m2.6 0h2.6m2.5 0h2.6m10.2 0h5.1m5.1 0h7.7m17.9 0h2.6m5.1 0h2.6m7.6 0h5.1m5.2 0h7.7m2.5 0h2.6m10.2 0h2.6m-102.4 2.5h5.1m15.4 0h5.1m17.9 0h20.5m5.1 0h2.6m5.1 0h2.6m5.1 0h2.6m12.7 0h2.6m-117.8 2.6h2.6m15.3 0h2.6m5.1 0h5.1m2.6 0h7.7m2.5 0h2.6m10.2 0h5.1m5.2 0h2.6m12.7 0h5.1m10.3 0h2.6m-89.6 2.6h2.6m2.5 0h2.6m5.1 0h2.6m10.2 0h5.1m15.3 0h2.6m5.1 0h2.6m5.1 0h2.6m7.6 0h5.1m12.9 0h2.6m2.5 0h2.6m-112.7 2.5h2.6m7.6 0h2.6m7.7 0h5.1m20.5 0h2.6m17.9 0h2.6m23 0h2.6m5 0h5.1m-102.3 2.6h2.6m2.5 0h2.6m12.7 0h2.6m7.7 0h2.6m5.1 0h5.1m5.1 0h2.6m7.6 0h5.1m5.2 0h2.6m2.5 0h2.6m5.1 0h5.1m7.7 0h2.6m12.7 0h2.6m7.7 0h2.6m-110.1 2.5h2.6m12.7 0h2.6m5.1 0h2.6m20.4 0h5.1m5.2 0h10.2m15.4 0h2.6m2.5 0h2.6m2.5 0h2.6m-115.2 2.6h2.6m7.6 0h2.6m2.5 0h2.6m2.6 0h5.1m5.1 0h2.6m33.2 0h5.1m5.2 0h5.1m7.7 0h5.1m-81.9 2.6h2.6m5.1 0h5.1m5.1 0h2.6m5.1 0h2.6m5.1 0h2.6m12.7 0h2.6m5.1 0h2.6m2.5 0h2.6m17.9 0h10.2m-104.9 2.5h2.6m15.3 0h5.1m2.6 0h2.6m5.1 0h2.6m20.4 0h2.6m5.1 0h2.6m5.1 0h2.6m5 0h2.6m7.7 0h5.1m2.6 0h2.6m-94.8 2.6h7.7m7.7 0h2.6m2.5 0h2.6m7.6 0h2.6m17.9 0h2.6m7.6 0h2.6m10.2 0h5.1m12.9 0h2.6m-99.9 2.5h7.7m7.6 0h2.6m10.2 0h2.6m35.8 0h10.2m10.3 0h5.1m12.8 0h2.6m-99.8 2.6h7.7m2.5 0h2.6m40.9 0h2.6m10.2 0h2.6m2.5 0h2.6m-76.8 2.6h5.1m2.6 0h5.1m56.3 0h2.6m2.5 0h2.6m33.3 0h2.6m-120.4 2.5h2.6m7.7 0h2.6m2.5 0h2.6m33.2 0h2.6m10.2 0h2.6m5.1 0h2.6m7.6 0h5.1m-84.4 2.6h10.2m2.6 0h2.6m23 0h2.6m2.5 0h2.6m30.7 0h5.1m2.6 0h2.6m-99.9 2.5h2.6m10.2 0h2.6m46 0h2.6m23 0h2.6m12.8 0h2.6m5.1 0h2.6m15.3 0h2.6m-117.8 2.6h2.6m10.2 0h2.6m23 0h2.6m33.2 0h2.6m2.5 0h2.6m-84.5 2.6h15.4m20.5 0h2.6m5 0h2.6m2.6 0h2.6m2.5 0h2.6m15.3 0h2.6m-94.8 2.5h2.6m2.6 0h2.6m10.2 0h2.6m43.4 0h2.6m2.6 0h2.6m17.8 0h2.6m2.6 0h2.6m25.5 0h2.6m-117.8 2.6h2.6m5.1 0h2.6m7.6 0h2.6m2.6 0h2.6m15.3 0h2.6m2.5 0h2.6m15.3 0h2.6m-64 2.5h5.1m25.6 0h2.6m5.1 0h2.6m10.2 0h2.6m2.5 0h2.6m23 0h12.8m-89.6 2.6h5.1m20.5 0h2.6m10.2 0h2.6m20.4 0h2.6m15.4 0h7.7m-87.1 2.6h7.7m5.1 0h2.6m10.2 0h2.6m5.1 0h2.6m23 0h5.1m2.6 0h5.1m7.7 0h2.6m-89.7 2.5h5.1m5.2 0h5.1m35.8 0h2.6m10.2 0h5.1m-58.8 2.6h2.6m12.7 0h2.6m5.1 0h2.6m17.9 0h2.6m7.6 0h2.6m-99.9 2.5h2.6m71.7 0h2.6m43.5 0h2.6m-84.6 2.6h5.1m30.8 0h2.6m33.2 0h2.6m10.2 0h2.6m-89.6 2.6h2.6m89.5 0h2.6m-94.7 2.5h7.7m30.7 0h2.6m33.2 0h2.6m-89.6 2.6h2.6m30.7 0h2.6m10.2 0h2.6m12.7 0h5.1m-79.3 2.5h2.6m30.7 0h5.1m71.7 0h5.1m-58.9 2.6h2.6m12.8 0h2.6m35.8 0h2.6m-92.2 2.6h2.6m2.5 0h5.1m25.6 0h2.6m40.9 0h2.6m-53.8 2.5h2.6m43.5 0h2.6m10.2 0h5.1m-92.1 2.6h5.1m30.7 0h2.6m28.1 0h2.6m17.9 0h5.1m-117.7 2.5h2.6m17.8 0h2.6m28.2 0h2.6m10.2 0h5.1m5.1 0h2.6m-46.1 2.6h7.7m23 0h2.6m2.5 0h2.6m-48.7 2.6h2.6m7.7 0h5.1m74.2 0h2.6m2.6 0h2.6m-110.2 2.5h2.6m28.2 0h2.6m2.5 0h2.6m12.7 0h2.6m46.1 0h5.1m2.6 0h2.6m-135.8 2.6h2.6m17.9 0h2.6m17.9 0h2.6m2.5 0h2.6m30.7 0h2.6m5.1 0h2.6m33.2 0h2.6m-110.1 2.5h2.6m35.8 0h7.7m-43.5 2.6h2.6m20.4 0h2.6m2.5 0h5.1m7.7 0h2.6m15.3 0h2.6m43.5 0h2.6m-110.1 2.6h2.6m5.1 0h5.1m12.8 0h5.1m7.7 0h2.6m2.5 0h5.1m5.2 0h2.6m48.6 0h5.1m2.5 0h2.6m-110.1 2.5h2.6m17.9 0h2.6m2.5 0h5.1m5.2 0h10.2m10.2 0h2.6m7.7 0h2.6m12.7 0h2.6m15.4 0h7.7m-117.8 2.6h2.6m2.5 0h2.6m2.5 0h2.6m2.5 0h2.6m2.6 0h2.6m2.5 0h2.6m2.5 0h2.6m10.2 0h2.6m25.6 0h2.6m2.5 0h2.6m23 0h7.7m-115.2 2.5h2.6m48.6 0h7.7m51.1 0h2.6m2.6 0h2.6m-97.4 2.6h2.6m12.8 0h2.6m10.2 0h2.6m2.5 0h7.7m43.5 0h7.7m2.6 0h2.6m-120.4 2.6h2.6m23 0h2.6m2.5 0h2.6m5.1 0h7.7m2.5 0h5.1m5.2 0h2.6m48.6 0h2.6m2.5 0h2.6m10.2 0h2.6m-117.8 2.5h2.6m10.2 0h2.6m7.6 0h2.6m5.1 0h2.6m64 0h2.6m-107.6 2.6h2.6m28.1 0h2.6m20.5 0h2.6m2.5 0h2.6m35.8 0h2.6m2.5 0h2.6m2.5 0h2.6m-81.9 2.5h2.6m12.7 0h2.6m7.7 0h5.1m2.6 0h2.6m35.8 0h5.1m2.5 0h2.6m-58.9 2.6h5.1m15.4 0h2.6m12.8 0h2.6m2.5 0h5.1m28.2 0h2.6m-138.3 2.6h2.6m7.6 0h2.6m2.5 0h2.6m7.7 0h2.6m7.6 0h2.6m7.7 0h2.6m15.3 0h5.1m17.9 0h2.6m10.2 0h5.1m-71.6 2.5h2.6m15.3 0h2.6m7.6 0h7.7m10.2 0h2.6m7.7 0h2.6m2.5 0h5.1m15.4 0h2.6m5.1 0h2.6m-66.6 2.6h7.7m7.6 0h5.1m15.4 0h7.7m5.1 0h2.6m-107.6 2.5h2.6m23 0h2.6m10.2 0h2.6m7.7 0h5.1m5.1 0h2.6m25.6 0h5.1m-43.5 2.6h2.6m15.3 0h2.6m7.6 0h2.6m12.8 0h5.1m15.4 0h2.6m-82 2.6h2.6m17.9 0h2.6m15.3 0h7.7m15.4 0h2.6m5 0h2.6m5.1 0h2.6m-61.5 2.5h5.1m5.2 0h2.6m7.6 0h2.6m2.5 0h2.6m2.6 0h2.6m10.2 0h2.6m-74.3 2.6h2.6m28.1 0h2.6m7.6 0h2.6m5.1 0h7.7m2.6 0h2.6m2.5 0h2.6m7.6 0h2.6m46.1 0h2.6m-112.7 2.5h2.6m12.7 0h2.6m2.6 0h2.6m30.6 0h2.6m2.6 0h2.6m5 0h2.6m-64 2.6h5.1m23.1 0h7.7m10.2 0h2.6m38.3 0h2.6m-79.4 2.6h2.6m12.8 0h2.6m35.8 0h2.6m-66.6 2.5h2.6m20.4 0h2.6m15.4 0h2.6m10.2 0h2.6m35.8 0h2.6" stroke="#000" stroke-width="2.56" fill="none" stroke-opacity="0.4"/>
<path d="M448 1335h2.6m-15.4 10.3h2.6m7.6 2.5h2.6m-25.6 2.6h2.6m7.6 2.6h2.6m0 2.5h2.6m10.2 7.7h2.6m-20.5 2.6h2.6m-20.5 2.5h2.6m15.3 0h2.6m7.6 0h2.6m-20.5 2.6h2.6m30.7 0h2.6m-41 2.5h2.6m10.2 0h2.6m2.5 0h2.6m-28.2 5.2h5.1m28.2 0h2.6m-18 2.5h2.6m2.5 0h2.6m-23 2.6h2.6m12.7 0h2.6m-7.7 2.5h5.1m-12.8 2.6h2.6m12.8 0h2.6m2.5 0h5.1m-25.6 2.6h2.6m17.9 0h2.6m-23.1 2.5h2.6m2.5 0h2.6m5.1 0h2.6m20.5 0h2.6m-59 2.6h2.6m35.8 0h2.6m10.2 0h2.6m-25.6 2.5h2.6m5.1 0h2.6m12.7 0h2.6m20.5 0h2.6m-71.7 2.6h2.6m10.2 0h2.6m7.6 0h2.6m-18 2.6h2.6m5.1 0h2.6m10.2 0h2.6m10.2 0h2.6m-28.2 5.1h2.6m5.1 0h2.6m-20.5 2.5h5.1m7.7 0h2.6m7.6 0h5.1m7.7 0h2.6m-23.1 2.6h2.6m10.2 0h2.6m17.9 0h2.6m-64 2.6h2.6m23 0h2.6m5.1 0h2.6m5 0h2.6m-20.5 2.5h2.6m7.7 0h2.6m7.6 0h2.6m-15.4 2.6h2.6m-7.7 2.5h2.6m-10.3 5.2h2.6m0 2.5h2.6m12.7 0h2.6m-5.1 2.6h5.1m-35.9 2.5h2.6m17.9 0h2.6m-10.3 2.6h2.6m2.6 0h2.6m-12.9 2.6h2.6m28.1 0h2.6m-23 2.5h2.6m20.4 0h2.6m-33.3 2.6h2.6m2.5 0h2.6m10.2 0h2.6m20.4 2.5h2.6m-35.8 7.7h2.6m2.5 0h2.6m7.6 0h2.6m-10.3 2.6h2.6m15.4 2.5h2.6m-25.7 5.2h2.6m5.1 0h2.6m-2.6 2.5h2.6m2.5 0h5.1m-43.5 2.6h5.1m23.1 0h2.6m2.5 0h2.6m20.4 0h2.6m-30.7 2.5h2.6m12.7 0h2.6m12.8 0h2.6m-41 2.6h2.6m23 0h2.6m10.2 0h2.6m-30.8 2.6h2.6m7.7 0h2.6m-41 2.5h2.6m58.8 0h2.6m-61.5 2.6h2.6m33.3 0h2.6m5.1 0h2.6m-66.6 2.5h2.6m5 0h2.6m7.7 0h2.6m48.6 0h2.6m-84.5 2.6h2.6m15.3 0h2.6m12.7 0h2.6m56.3 0h2.6m-5.1 2.6h2.6m-87.1 2.5h2.6m71.6 0h2.6m5.1 0h2.6m-28.2 2.6h2.6m7.6 0h2.6m5.1 0h2.6m-89.6 2.5h2.6m23 0h2.6m25.5 0h2.6m38.4 0h2.6m-61.5 2.6h2.6m35.8 0h2.6m2.5 0h7.7m2.6 0h2.6m-84.5 2.6h2.6m15.3 0h5.1m17.9 0h5.1m25.6 0h2.6m10.2 0h2.6m-41 2.5h5.1m7.7 0h2.6m7.7 0h2.6m2.5 0h5.1m5.1 0h2.6m2.6 0h2.6m-53.8 2.6h2.6m7.6 0h2.6m12.8 0h2.6m7.6 0h5.1m-61.4 2.5h5.1m2.6 0h5.1m28.1 0h2.6m2.6 0h5.1m2.5 0h2.6m2.6 0h2.6m2.5 0h2.6m-69.2 2.6h2.6m12.8 0h2.6m2.5 0h2.6m15.3 0h2.6m7.7 0h2.6m5 0h2.6m12.8 0h2.6m-33.3 2.6h2.6m5.1 0h2.6m2.5 0h7.7m-92.2 2.5h2.6m46 0h2.6m7.7 0h2.6m2.5 0h2.6m5.1 0h5.1m-51.2 2.6h2.6m40.9 0h5.1m-53.7 2.5h2.6m12.7 0h2.6m33.3 0h2.6m7.6 0h2.6m-79.4 2.6h2.6m25.6 0h2.6m2.5 0h2.6m23 0h2.6m12.8 0h2.6m20.4 0h2.6m-87.1 2.6h2.6m5.1 0h2.6m5.1 0h2.6m2.5 0h2.6m5.1 0h2.6m30.7 0h2.6m-66.6 2.5h2.6m5 0h2.6m12.8 0h7.7m5.1 0h2.6m17.9 0h7.7m-61.5 2.6h2.6m12.8 0h2.6m-23.1 2.5h2.6m15.3 0h2.6m5.1 0h2.6m35.8 0h2.6m2.5 0h2.6m-74.3 2.6h2.6m7.7 0h2.6m23 0h2.6m7.6 0h2.6m30.7 0h2.6m-69.2 2.6h2.6m23 0h2.6m10.2 0h2.6m2.6 0h2.6m2.5 0h2.6m-64.1 2.5h2.6m35.8 0h2.6m-51.2 2.6h2.6m2.5 0h2.6m35.8 0h2.6m-46.1 2.5h2.6m5.1 0h2.6m33.2 0h5.1m-51.2 2.6h2.6m51.2 0h2.6m-76.8 2.6h2.6m20.4 0h2.6m2.5 0h5.1m35.9 0h2.6m2.5 0h2.6m-25.6 2.5h2.6m17.8 0h2.6m-71.7 2.6h2.6m10.2 0h2.6m2.5 0h2.6m12.8 0h2.6m40.9 0h2.6m-33.3 2.5h2.6m20.4 0h2.6m-20.5 2.6h2.6m17.9 0h2.6m0 2.6h5.1m-76.8 2.5h2.6m2.5 0h2.6m2.5 0h2.6m-17.9 2.6h5.1m71.7 0h5.1m-79.4 2.5h2.6m5.1 0h2.6m40.9 0h2.6m-61.5 2.6h2.6m76.8 2.6h2.6m2.5 0h2.6m-74.3 2.5h2.6m-5.1 2.6h2.6m69.1 0h2.6m-84.6 2.5h5.1m2.6 0h2.6m-5.1 2.6h2.6m74.2 0h2.6m-79.4 2.6h2.6m74.2 0h2.6m-79.4 2.5h2.6m71.6 0h7.7m-87.1 2.6h5.1m-10.2 2.5h2.6m10.2 2.6h2.6m-7.7 2.6h7.7m71.7 0h2.6m-76.9 2.5h2.6m-10.3 2.6h2.6m2.6 0h2.6m2.5 0h2.6m5.1 0h2.6m-18 2.5h5.1m-12.8 2.6h2.6m5.1 2.6h2.6m5.1 0h2.6m-10.3 2.5h2.6m15.3 0h2.6m-2.6 2.6h2.6m38.4 0h2.6m5.1 0h2.6m-0.1 2.5h2.6m-69.1 2.6h2.6m10.2 0h2.6m46 0h2.6m-76.8 7.7h2.6m15.3 0h5.1m12.8 0h2.6m-18 2.5h2.6m28.2 0h2.6m-28.2 2.6h2.6m35.8 0h2.6m-53.8 2.6h2.6m5 0h2.6m10.2 0h2.6m30.7 0h2.6m2.5 0h2.6m-56.3 2.5h5.1m2.6 0h5.1m-5.1 2.6h2.6m28.1 0h2.6m-23.1 2.5h2.6m17.9 0h7.7m-76.8 2.6h5.1m28.1 0h2.6m5.1 0h7.7m2.6 0h2.6m2.5 0h2.6m7.6 0h2.6m-74.3 2.6h2.6m30.7 0h2.6m7.7 0h2.6m-20.6 2.5h5.1m25.7 0h2.6m12.7 0h2.6m-17.9 2.6h5.1m2.5 0h2.6m17.9 0h2.6m-51.2 2.5h10.2m2.6 0h7.7m-2.6 2.6h5.1m-38.4 2.6h2.6m-5.1 2.5h2.6m33.2 0h2.6m17.9 5.1h2.6m-46.1 2.6h2.6m20.4 0h2.6m7.6 2.6h2.6m-12.8 2.5h2.6" stroke="#000" stroke-width="2.56" fill="none" stroke-opacity="0.64"/>
<path d="M435.2 1358.1h2.6m5.1 12.8h2.6m-30.8 5.1h5.1m-2.5 5.1h2.6m-2.6 7.7h2.6m5.1 0h2.6m-10.3 2.6h2.6m5.1 0h2.6m2.5 5.1h2.6m5.1 0h2.6m-38.5 2.5h2.6m28.1 5.2h2.6m-17.9 2.5h5.1m-7.7 5.1h2.6m-15.4 2.6h2.6m-7.7 5.1h2.6m28.1 2.6h2.6m-28.2 5.1h2.6m20.5 2.6h2.6m-20.6 2.5h2.6m15.4 0h2.6m-41 2.6h2.6m7.6 0h2.6m23 0h2.6m-7.7 12.8h2.6m12.7 0h2.6m-35.8 12.8h2.6m5 0h2.6m2.6 2.5h2.6m-0.1 2.6h2.6m-35.9 20.5h2.6m53.8 5.1h2.6m10.2 0h2.6m-59 7.7h2.6m23 0h2.6m23 0h2.6m-58.9 2.5h2.6m33.3 2.6h2.6m-20.6 2.6h2.6m15.4 0h2.6m-0.1 2.5h2.6m10.2 0h2.6m-28.2 2.6h2.6m2.5 0h5.1m2.6 0h2.6m2.5 0h2.6m-76.8 5.1h2.6m81.9 0h2.6m-43.6 2.6h2.6m17.9 0h2.6m-2.6 2.5h2.6m7.6 0h2.6m-51.2 5.1h2.6m5.1 0h2.6m-35.9 2.6h2.6m20.4 2.6h2.6m28.2 0h2.6m12.7 0h7.7m-69.1 2.5h2.6m2.5 0h5.1m33.3 0h2.6m-51.2 2.6h2.6m5 0h5.1m12.9 0h2.6m-20.6 2.5h2.6m2.6 0h2.6m5 0h2.6m2.6 0h5.1m-46.1 2.6h2.6m5.1 0h2.6m12.7 0h2.6m5.1 0h5.1m2.6 0h2.6m-33.3 2.6h2.6m7.6 0h2.6m5.1 0h2.6m2.5 0h7.7m2.6 0h2.6m10.2 0h2.6m-51.3 2.5h2.6m5.1 0h2.6m5.1 0h5.1m7.7 0h2.6m7.6 0h2.6m-35.9 2.6h2.6m7.7 0h2.6m2.5 0h2.6m12.8 0h2.6m2.5 0h2.6m7.6 0h2.6m-46.1 2.5h2.6m2.5 0h2.6m17.9 0h2.6m-38.4 2.6h2.6m2.5 0h2.6m28.1 0h5.1m2.6 0h2.6m-46.1 2.6h2.6m38.3 0h2.6m2.5 0h2.6m-58.9 2.5h2.6m5.1 0h2.6m2.5 0h2.6m5.1 0h2.6m2.5 0h2.6m20.5 0h2.6m-41 2.6h2.6m30.6 0h2.6m2.6 0h5.1m2.5 0h2.6m-64 2.5h2.6m7.6 0h2.6m43.5 0h2.6m5.1 0h5.1m-64 2.6h2.6m2.5 0h2.6m38.4 0h2.6m-46.1 2.6h2.6m51.1 0h2.6m-66.6 2.5h2.6m2.6 0h2.6m5 0h2.6m-17.9 2.6h2.6m2.5 0h2.6m2.5 0h2.6m5.1 0h2.6m-18 2.5h2.6m5.1 0h2.6m2.5 0h2.6m48.6 0h2.6m-71.7 2.6h7.7m5.1 0h2.6m-10.3 2.6h2.6m-12.8 2.5h2.6m76.8 0h2.6m-76.9 2.6h2.6m5.1 0h2.6m66.5 0h2.6m-81.9 2.5h2.6m2.5 0h2.6m66.5 0h2.6m-71.7 2.6h2.6m-10.3 2.6h2.6m2.5 0h2.6m7.7 0h2.6m-12.9 2.5h2.6m-2.6 2.6h5.1m69.2 0h2.6m-74.3 2.5h7.7m61.4 0h2.6m-71.7 2.6h2.6m-2.6 2.6h7.7m61.4 0h2.6m-76.8 2.5h2.6m-5.2 2.6h2.6m2.5 0h2.6m-2.6 2.5h2.6m58.9 0h2.6m7.6 0h2.6m-76.8 2.6h5.1m2.5 0h2.6m-7.7 2.6h2.6m64 0h2.6m-69.2 2.5h2.6m2.5 0h5.1m46.1 0h2.6m5.1 0h2.6m-76.8 2.6h2.6m5.1 0h10.2m-17.9 2.5h2.6m10.2 0h2.6m56.3 0h2.6m-61.5 2.6h2.6m10.2 0h2.6m43.5 0h2.6m-66.6 2.6h2.6m5 0h2.6m48.6 0h5.1m-66.5 2.5h2.6m53.7 0h2.6m5.1 0h2.6m-53.8 2.6h2.6m7.6 0h2.6m20.5 0h2.6m2.5 0h2.6m2.5 0h2.6m-43.5 2.5h5.1m17.9 0h2.6m10.2 0h5.1m2.6 0h2.6m-48.7 2.6h2.6m2.5 0h5.1m28.2 0h2.6m-41 2.6h2.6m10.2 0h2.6m15.3 0h2.6m5.1 0h2.6m-41 2.5h2.6m5.1 0h2.6m25.5 0h2.6m2.6 0h2.6m-46.2 2.6h2.6m12.8 0h2.6m7.6 0h10.2m2.6 0h2.6m-28.2 2.5h2.6m5.1 0h7.7m2.6 0h2.6m-25.7 5.2h5.1m2.6 0h2.6m20.4 0h2.6m-64 2.5h2.6m12.8 0h2.6m20.4 0h2.6m2.5 0h2.6m-10.3 2.6h2.6m7.7 0h2.6m-7.7 2.5h2.6m-2.6 15.4h2.6" stroke="#000" stroke-width="2.56" fill="none" stroke-opacity="0.85"/>
<path d="M422.4 1424.6h2.6m-18 41h2.6m46.1 30.7h2.6m-79.4 43.5h2.6m-18 2.6h2.6m15.3 0h2.6m2.6 0h2.6m-18 5.1h7.7m2.5 0h2.6m2.6 0h2.6m-30.8 2.6h5.1m5.1 0h2.6m2.6 0h10.2m-35.8 2.5h2.6m10.2 0h2.6m2.5 0h17.9m2.6 0h2.6m-38.5 2.6h2.6m2.5 0h28.2m-28.2 2.6h33.3m-40.9 2.5h2.6m2.5 0h5.1m2.6 0h2.6m15.3 0h7.7m5.1 0h2.6m-48.7 2.6h2.6m2.5 0h7.7m25.6 0h2.6m5.1 0h2.6m-56.4 2.5h5.1m2.6 0h10.2m28.2 0h5.1m2.6 0h2.6m-48.7 2.6h7.7m33.3 0h10.2m-53.8 2.6h7.7m35.9 0h7.7m-53.8 2.5h2.6m2.5 0h2.6m38.4 0h7.7m2.5 0h2.6m-58.9 2.6h5.1m43.5 0h10.2m-63.9 2.5h2.6m2.5 0h2.6m46 0h5.1m-61.4 2.6h5.1m2.6 0h2.6m46 0h10.2m-71.6 2.6h2.6m5.1 0h5.1m51.2 0h5.1m-69.1 2.5h2.6m2.5 0h7.7m51.2 0h7.7m-69.2 2.6h2.6m2.6 0h2.6m53.7 0h7.7m-69.2 2.5h7.7m53.8 0h5.1m-71.7 2.6h2.6m2.5 0h7.7m53.8 0h7.7m-71.7 2.6h7.7m56.3 0h7.7m-71.7 2.5h7.7m56.3 0h5.1m-66.6 2.6h5.1m56.4 0h7.7m-7.7 2.5h5.1m-66.6 2.6h5.1m56.4 0h7.7m-7.7 2.6h5.1m-69.1 2.5h7.7m53.7 0h7.7m-66.6 2.6h5.1m53.8 0h7.7m-69.1 2.5h7.7m53.7 0h7.7m-69.1 2.6h2.6m2.5 0h5.1m48.7 0h7.7m-64.1 2.6h7.7m46.1 0h7.7m-56.3 2.5h2.6m46 0h5.1m-56.3 2.6h5.1m43.5 0h5.1m-56.3 2.5h10.2m38.5 0h7.7m-56.4 2.6h5.1m2.6 0h2.6m35.8 0h7.7m-51.2 2.6h2.6m2.5 0h5.1m30.8 0h7.7m-48.7 2.5h10.2m28.2 0h5.1m2.6 0h5.1m-48.6 2.6h7.7m25.5 0h2.6m2.6 0h2.6m-43.6 2.5h2.6m5.1 0h10.2m12.8 0h7.7m5.1 0h2.6m-35.9 2.6h28.2m-30.7 2.6h2.6m5.1 0h15.4m2.5 0h5.1m-28.2 2.5h25.6m-30.7 2.6h7.7m2.6 0h7.7m-15.4 2.5h2.6m5.1 0h2.6m7.6 0h2.6m2.5 0h2.6m-23.1 5.2h2.6m2.6 0h2.6m2.5 0h5.1m-17.9 2.5h2.6" stroke="#000" stroke-width="2.56" fill="none" stroke-opacity="1"/>
</g>
<rect x="252.5" y="1317" width="411.79999999999995" height="375.5" fill="none" stroke="#000" stroke-width="5"/>
<path d="M362 1317V1692.5M252.5 1601.5H664.3" stroke="#000" stroke-width="4.7" fill="none"/>
<path d="M238.0 1333.5H252.5M238.0 1423.4H252.5M238.0 1516.8H252.5M238.0 1605.4H252.5" stroke="#000" stroke-width="4.2" fill="none"/>
<g>
<path d="M403.7 2018.4L404.2 2021.4L402.0 2024.1L399.5 2026.5L398.6 2029.9L395.5 2031.8L392.5 2033.5L392.2 2037.8L389.1 2039.1L386.6 2040.6L386.0 2045.6L383.7 2048.0L381.6 2050.9L379.4 2054.0L376.5 2054.4L374.1 2056.8L371.6 2058.5L369.0 2060.2L366.4 2058.8L363.9 2060.2L361.2 2064.0L358.5 2066.2L356.4 2064.2L354.2 2063.9L353.3 2060.1L350.5 2063.4L349.3 2060.0L348.2 2056.6L345.9 2056.4L344.8 2053.2L342.7 2052.0L340.5 2050.8L338.0 2049.9L334.8 2049.5L334.5 2045.1L333.9 2041.5L331.6 2039.5L331.7 2035.4L331.4 2031.8L330.8 2028.5L329.7 2025.5L330.9 2021.5L327.9 2019.0L328.5 2015.4L326.7 2012.2L329.7 2008.8L329.4 2005.6L331.5 2002.9L331.4 2000.4L332.7 1998.1L332.4 1994.9L333.9 1992.2L334.6 1988.9L336.6 1986.3L337.3 1982.5L339.3 1979.7L341.1 1976.7L343.4 1974.3L345.6 1971.6L348.0 1969.3L351.2 1969.2L352.9 1965.0L355.6 1964.0L358.0 1962.0L360.3 1957.9L362.8 1954.0L365.6 1960.9L368.1 1958.5L370.5 1958.0L372.6 1959.2L375.0 1957.5L376.9 1958.2L378.8 1957.5L380.8 1956.9L383.2 1956.4L385.4 1957.2L387.5 1958.3L389.2 1960.8L391.5 1961.9L393.4 1964.0L393.8 1968.4L395.2 1971.1L396.4 1974.0L397.7 1976.9L397.2 1981.3L399.9 1982.9L401.2 1985.8L400.3 1990.0L402.5 1992.5L402.9 1995.8L400.9 1999.8L404.9 2002.3L403.2 2006.0L404.2 2009.2L402.7 2012.4L403.3 2015.5Z" fill="#000"/>
<path d="M432.6 1739.5h2.6m7.7 28.2h2.6m-58.9 2.5h2.6m33.2 0h2.6m-43.6 2.6h2.6m28.2 0h2.6m10.2 0h2.6m23 0h2.6m12.7 0h2.6m-48.7 2.6h2.6m7.7 0h2.6m10.2 0h2.6m-43.6 2.5h2.6m20.5 0h2.6m10.2 0h2.6m5 0h2.6m5.1 0h5.1m-58.8 2.6h2.6m28.1 0h7.7m2.5 0h2.6m-87.1 2.5h2.6m7.7 0h2.6m53.7 0h2.6m7.6 0h2.6m2.6 0h2.6m7.6 0h2.6m23 0h2.6m-115.2 2.6h5.1m5.1 0h2.6m10.2 0h5.1m17.9 0h5.1m5.2 0h2.6m10.2 0h2.6m15.3 0h2.6m-71.7 2.6h2.6m7.6 0h2.6m7.7 0h5.1m7.7 0h5.1m10.2 0h2.6m2.5 0h2.6m7.7 0h2.6m7.6 0h2.6m2.5 0h5.1m-102.3 2.5h7.7m5.1 0h2.6m5 0h2.6m2.6 0h2.6m12.7 0h2.6m7.7 0h7.7m17.9 0h2.6m5 0h2.6m2.6 0h2.6m-84.6 2.6h2.6m17.9 0h2.6m15.3 0h7.7m7.7 0h2.6m5.1 0h2.6m2.5 0h2.6m10.2 0h2.6m5.1 0h2.6m-115.3 2.5h2.6m12.8 0h2.6m20.4 0h7.7m17.9 0h2.6m2.6 0h2.6m2.5 0h2.6m2.5 0h5.1m2.6 0h5.1m10.2 0h5.1m7.7 0h2.6m-105 2.6h2.6m17.9 0h5.1m33.3 0h2.6m15.3 0h2.6m2.6 0h2.6m10.2 0h2.6m2.5 0h5.1m-92.2 2.6h7.7m2.6 0h2.6m5.1 0h2.6m2.5 0h2.6m28.1 0h2.6m2.5 0h5.1m2.6 0h2.6m7.6 0h2.6m7.7 0h2.6m-99.9 2.5h2.6m7.6 0h2.6m5.1 0h7.7m7.7 0h2.6m7.6 0h2.6m12.8 0h2.6m12.7 0h2.6m25.6 0h2.6m-89.6 2.6h2.6m2.5 0h2.6m2.5 0h2.6m7.6 0h2.6m2.6 0h10.2m12.8 0h2.6m10.2 0h2.6m17.9 0h2.6m12.7 0h2.6m-107.5 2.5h2.6m2.5 0h2.6m2.5 0h2.6m5.1 0h2.6m17.9 0h2.6m2.5 0h5.1m2.6 0h2.6m2.5 0h2.6m5.1 0h2.6m7.6 0h5.1m7.7 0h2.6m7.7 0h2.6m-107.6 2.6h2.6m5.1 0h5.1m23 0h2.6m5.1 0h2.6m5.1 0h2.6m2.5 0h2.6m5.1 0h5.1m5.1 0h2.6m7.7 0h2.6m-92.2 2.6h7.7m2.5 0h2.6m17.9 0h5.1m15.4 0h2.6m5.1 0h7.7m28.1 0h2.6m10.2 0h2.6m-102.4 2.5h7.7m2.5 0h2.6m7.6 0h2.6m7.7 0h2.6m7.6 0h2.6m23 0h2.6m12.8 0h2.6m12.7 0h5.1m2.6 0h2.6m-110.1 2.6h2.6m5.1 0h7.7m5.1 0h2.6m2.5 0h2.6m2.5 0h2.6m5.1 0h7.7m7.7 0h2.6m7.6 0h2.6m7.6 0h2.6m7.7 0h2.6m2.5 0h2.6m5.1 0h2.6m10.2 0h2.6m-107.6 2.5h2.6m2.5 0h2.6m2.6 0h2.6m5 0h2.6m7.7 0h2.6m5.1 0h2.6m2.5 0h5.1m2.6 0h2.6m17.8 0h5.1m-76.7 2.6h2.6m2.5 0h2.6m20.4 0h2.6m7.7 0h2.6m2.5 0h7.7m2.5 0h2.6m20.5 0h2.6m30.6 0h2.6m-122.9 2.6h5.1m5.2 0h2.6m2.5 0h2.6m7.6 0h2.6m2.5 0h2.6m10.2 0h2.6m10.2 0h2.6m10.2 0h2.6m15.4 0h10.2m2.6 0h2.6m17.8 0h2.6m-115.2 2.5h2.6m7.6 0h2.6m2.6 0h5.1m2.5 0h7.7m2.6 0h2.6m7.6 0h7.7m10.2 0h2.6m7.7 0h2.6m10.2 0h2.6m2.5 0h2.6m2.5 0h5.1m12.8 0h2.6m-122.9 2.6h2.6m10.2 0h5.1m2.6 0h2.6m2.5 0h2.6m7.7 0h2.6m7.6 0h5.1m23.1 0h2.6m10.2 0h2.6m5 0h10.2m7.8 0h2.6m-110.2 2.5h2.6m5.1 0h5.1m7.7 0h2.6m2.5 0h2.6m10.2 0h2.6m2.6 0h7.7m5.1 0h5.1m12.8 0h2.6m5.1 0h2.6m7.6 0h5.1m7.7 0h5.1m-102.4 2.6h2.6m10.2 0h5.1m5.2 0h5.1m5.1 0h5.1m7.7 0h2.6m5.1 0h2.6m5.1 0h2.6m12.7 0h7.7m-84.5 2.6h10.2m15.4 0h5.1m2.6 0h5.1m5.1 0h2.6m17.9 0h2.6m7.7 0h5.1m-84.5 2.5h2.6m2.5 0h2.6m5.1 0h15.4m17.9 0h5.1m33.3 0h2.6m5.1 0h2.6m-97.4 2.6h2.6m12.8 0h5.1m12.8 0h2.6m5.1 0h2.6m2.5 0h5.1m30.8 0h10.2m5.1 0h2.6m5.1 0h2.6m5.1 0h2.6m7.6 0h2.6m-110.1 2.5h7.7m28.1 0h2.6m20.5 0h2.6m10.2 0h5.1m5.1 0h2.6m20.5 0h2.6m-123 2.6h2.6m5.1 0h5.1m10.3 0h2.6m2.5 0h2.6m5.1 0h10.2m2.6 0h2.6m7.6 0h2.6m7.7 0h2.6m2.5 0h2.6m7.6 0h5.1m15.4 0h2.6m-115.2 2.6h2.6m30.6 0h2.6m7.7 0h2.6m2.5 0h2.6m2.5 0h10.2m10.3 0h2.6m7.6 0h2.6m2.6 0h2.6m2.5 0h2.6m2.5 0h2.6m10.2 0h2.6m12.8 0h2.6m-123 2.5h2.6m7.7 0h5.1m10.2 0h2.6m2.6 0h5.1m23 0h5.1m7.7 0h5.1m20.5 0h2.6m7.7 0h2.6m-94.8 2.6h2.6m5.1 0h2.6m5.1 0h2.6m10.2 0h2.6m5 0h5.1m5.2 0h2.6m12.7 0h2.6m7.7 0h2.6m-58.9 2.5h2.6m7.6 0h2.6m10.2 0h2.6m5.1 0h5.1m5.1 0h2.6m5.1 0h2.6m5.1 0h2.6m5.1 0h2.6m2.5 0h2.6m-92.2 2.6h2.6m17.9 0h2.6m7.6 0h2.6m15.3 0h2.6m2.5 0h2.6m5.1 0h5.1m12.8 0h7.7m7.7 0h2.6m12.8 0h2.6m-120.4 2.6h2.6m30.7 0h2.6m15.3 0h5.1m12.8 0h5.1m2.6 0h2.6m2.5 0h2.6m2.5 0h5.1m-76.7 2.5h2.6m17.8 0h2.6m5.1 0h5.1m5.2 0h5.1m2.5 0h2.6m5.1 0h2.6m2.5 0h5.1m5.2 0h2.6m10.2 0h5.1m-69.1 2.6h5.1m7.7 0h2.6m2.5 0h5.1m2.6 0h2.6m5.1 0h2.6m7.6 0h2.6m5.1 0h2.6m5.1 0h2.6m2.5 0h2.6m7.6 0h2.6m-105 2.5h2.6m17.9 0h2.6m2.5 0h2.6m2.5 0h2.6m2.6 0h2.6m12.7 0h5.1m12.8 0h5.1m2.6 0h2.6m5.1 0h5.1m41 0h2.6m-102.5 2.6h5.1m2.6 0h5.1m2.6 0h2.6m15.3 0h5.1m7.7 0h7.7m7.7 0h2.6m-79.4 2.6h2.6m17.9 0h2.6m7.6 0h5.1m17.9 0h2.6m48.6 0h2.6m5.1 0h2.6m-128 2.5h2.6m2.5 0h2.6m2.5 0h2.6m15.3 0h2.6m2.6 0h2.6m7.6 0h2.6m10.2 0h2.6m7.6 0h7.7m7.7 0h2.6m-58.9 2.6h5.1m2.6 0h7.7m2.5 0h2.6m10.2 0h10.2m2.6 0h12.8m7.7 0h5.1m-87 2.5h7.7m5.1 0h2.6m5 0h2.6m17.9 0h10.2m10.3 0h5.1m2.6 0h2.6m12.7 0h2.6m2.6 0h5.1m-94.7 2.6h2.6m15.3 0h5.1m2.6 0h7.7m15.3 0h2.6m20.4 0h2.6m7.7 0h2.6m-79.4 2.6h10.2m10.3 0h2.6m5 0h2.6m25.6 0h2.6m48.6 0h2.6m-117.8 2.5h2.6m12.8 0h2.6m7.6 0h5.1m2.6 0h2.6m2.5 0h10.2m2.6 0h2.6m2.5 0h2.6m5.1 0h2.6m12.8 0h2.6m7.6 0h2.6m2.5 0h2.6m-117.8 2.6h2.6m10.2 0h2.6m28.1 0h5.1m5.2 0h2.6m7.6 0h2.6m5.1 0h2.6m7.6 0h7.7m2.6 0h2.6m5.1 0h10.2m5.1 0h2.6m2.5 0h2.6m23 0h2.6m-128 2.5h2.6m5.1 0h2.6m10.2 0h2.6m5.1 0h2.6m2.5 0h7.7m2.5 0h2.6m5.1 0h2.6m2.5 0h2.6m2.5 0h5.1m2.6 0h2.6m2.5 0h2.6m10.2 0h2.6m5.1 0h2.6m5.1 0h2.6m-97.3 2.6h5.1m5.1 0h5.1m23.1 0h2.6m5.1 0h2.6m12.7 0h2.6m2.5 0h2.6m2.6 0h2.6m5 0h2.6m12.8 0h2.6m-79.4 2.6h5.1m10.3 0h2.6m15.3 0h7.7m5.1 0h2.6m15.3 0h2.6m2.5 0h2.6m7.7 0h2.6m-94.8 2.5h10.2m2.6 0h2.6m12.8 0h2.6m2.5 0h2.6m2.5 0h7.7m12.8 0h2.6m5.1 0h5.1m5.1 0h2.6m7.6 0h2.6m10.2 0h2.6m-120.3 2.6h2.6m17.9 0h2.6m7.6 0h2.6m7.6 0h2.6m7.7 0h12.8m2.5 0h2.6m2.6 0h2.6m7.6 0h5.1m10.3 0h2.6m5 0h2.6m17.9 0h2.6m-128 2.5h2.6m12.7 0h2.6m5.1 0h5.1m7.7 0h2.6m28.1 0h5.1m5.2 0h10.2m7.7 0h5.1m2.6 0h5.1m15.4 0h2.6m-120.4 2.6h2.6m2.5 0h2.6m7.7 0h7.7m5.1 0h5.1m7.7 0h2.6m15.3 0h2.6m10.2 0h2.6m15.3 0h2.6m5.1 0h2.6m-112.7 2.6h2.6m2.5 0h2.6m2.5 0h2.6m7.7 0h5.1m7.7 0h2.6m2.5 0h2.6m2.5 0h12.8m7.7 0h7.7m5.1 0h5.1m5.1 0h7.7m2.6 0h5.1m2.6 0h5.1m-122.9 2.5h2.6m15.3 0h10.2m5.2 0h7.7m2.5 0h2.6m7.7 0h2.6m2.5 0h2.6m5.1 0h2.6m7.6 0h2.6m2.5 0h5.1m2.6 0h2.6m2.5 0h5.1m2.6 0h5.1m5.1 0h2.6m2.6 0h5.1m-110.1 2.6h2.6m12.8 0h2.6m5 0h5.1m10.3 0h5.1m10.3 0h2.6m17.8 0h2.6m2.6 0h10.2m2.6 0h7.7m12.7 0h2.6m10.2 0h2.6m-128 2.5h5.1m15.4 0h2.6m2.5 0h10.2m2.6 0h7.7m2.5 0h5.1m5.2 0h7.7m10.2 0h2.6m7.6 0h5.1m5.2 0h2.6m2.5 0h2.6m-125.5 2.6h2.6m25.6 0h5.1m5.1 0h2.6m5.1 0h2.6m12.8 0h2.6m2.5 0h5.1m5.1 0h2.6m20.5 0h7.7m5.1 0h2.6m5 0h5.1m5.2 0h2.6m-133.2 2.6h2.6m7.7 0h2.6m2.5 0h5.1m7.7 0h5.1m5.1 0h2.6m23 0h2.6m2.5 0h2.6m2.6 0h2.6m2.5 0h2.6m15.3 0h5.1m2.6 0h5.1m2.6 0h2.6m2.5 0h2.6m23 0h2.6m-130.6 2.5h2.6m2.5 0h2.6m5.1 0h2.6m5.1 0h2.6m7.6 0h5.1m2.6 0h2.6m15.3 0h5.1m15.4 0h2.6m2.5 0h2.6m5.1 0h2.6m7.6 0h10.2m2.6 0h2.6m-117.8 2.6h10.2m5.2 0h2.6m5.1 0h2.6m2.5 0h2.6m12.7 0h5.1m7.7 0h5.1m12.9 0h2.6m17.8 0h2.6m15.4 0h2.6m-117.8 2.5h2.6m7.6 0h2.6m2.5 0h5.1m15.4 0h7.7m2.5 0h2.6m2.6 0h2.6m2.5 0h5.1m2.6 0h2.6m5 0h2.6m5.1 0h5.1m5.2 0h2.6m7.6 0h2.6m2.5 0h2.6m12.8 0h2.6m-125.5 2.6h2.6m10.2 0h5.1m5.1 0h2.6m25.6 0h10.2m12.8 0h2.6m2.6 0h2.6m7.6 0h2.6m12.8 0h2.6m10.2 0h2.6m-120.4 2.6h10.2m10.3 0h5.1m2.6 0h2.6m10.2 0h2.6m7.6 0h5.1m7.7 0h7.7m7.7 0h5.1m5.1 0h2.6m5.1 0h15.4m5.1 0h2.6m-138.3 2.5h2.6m15.3 0h2.6m15.3 0h2.6m2.5 0h2.6m20.5 0h2.6m2.5 0h2.6m2.5 0h2.6m15.3 0h7.7m2.6 0h5.1m5.1 0h5.1m2.6 0h5.1m7.7 0h2.6m-140.8 2.6h2.6m7.6 0h2.6m5.1 0h2.6m56.3 0h2.6m2.5 0h2.6m2.5 0h2.6m2.5 0h2.6m20.5 0h2.6m2.5 0h10.2m-122.9 2.5h5.1m2.6 0h2.6m2.5 0h2.6m15.4 0h2.6m35.8 0h2.6m5 0h2.6m5.1 0h5.1m5.2 0h2.6m5 0h2.6m2.6 0h2.6m12.7 0h2.6m5.1 0h2.6m-151.1 2.6h2.6m20.5 0h5.1m10.2 0h5.1m12.8 0h2.6m17.9 0h5.1m25.6 0h15.4m2.6 0h2.6m2.5 0h5.1m7.7 0h5.1m2.6 0h2.6m-143.4 2.6h2.6m28.1 0h2.6m35.8 0h5.1m5.1 0h2.6m5.1 0h5.1m5.1 0h2.6m5.1 0h2.6m5.1 0h2.6m2.5 0h2.6m7.7 0h2.6m2.5 0h5.1m-135.7 2.5h2.6m7.7 0h2.6m30.6 0h2.6m25.6 0h2.6m2.5 0h7.7m2.6 0h5.1m2.5 0h7.7m5.1 0h2.6m2.6 0h5.1m-125.5 2.6h5.1m15.4 0h2.6m28.1 0h2.6m35.8 0h2.6m2.6 0h7.7m2.5 0h10.2m2.6 0h2.6m2.5 0h2.6m7.7 0h2.6m7.6 0h2.6m-143.4 2.5h2.6m15.3 0h2.6m28.1 0h2.6m5.1 0h5.1m30.8 0h2.6m5 0h2.6m2.6 0h5.1m2.5 0h5.1m15.4 0h2.6m-174.1 2.6h2.6m35.8 0h2.6m7.6 0h2.6m2.6 0h2.6m5 0h2.6m25.6 0h2.6m2.5 0h2.6m2.5 0h2.6m30.7 0h5.1m7.7 0h2.6m5.1 0h2.6m7.6 0h2.6m-71.7 2.6h2.6m38.4 0h2.6m7.6 0h5.1m-112.6 2.5h5.1m15.4 0h2.6m5.1 0h2.6m7.6 0h2.6m5.1 0h2.6m2.5 0h2.6m12.8 0h2.6m23 0h2.6m2.5 0h2.6m2.5 0h5.1m15.4 0h2.6m10.2 0h2.6m-151.1 2.6h2.6m5.1 0h2.6m2.5 0h2.6m12.8 0h2.6m43.4 0h2.6m23 0h2.6m2.6 0h2.6m12.7 0h7.7m-148.5 2.5h2.6m38.4 0h2.6m23 0h2.6m15.3 0h10.2m5.2 0h2.6m2.5 0h2.6m15.3 0h2.6m2.5 0h2.6m2.5 0h2.6m20.5 0h2.6m-128.1 2.6h2.6m5.1 0h2.6m38.4 0h5.1m5.1 0h5.1m23.1 0h2.6m7.6 0h5.1m5.2 0h2.6m2.5 0h5.1m7.7 0h2.6m-163.9 2.6h2.6m17.9 0h2.6m5.1 0h2.6m5 0h2.6m64 0h2.6m23 0h2.6m2.5 0h2.6m-110.1 2.5h2.6m2.5 0h2.6m2.5 0h5.1m2.6 0h2.6m10.2 0h2.6m23 0h2.6m5.1 0h2.6m5.1 0h2.6m30.7 0h5.1m7.7 0h5.1m-120.3 2.6h2.6m43.4 0h2.6m25.6 0h2.6m2.5 0h2.6m2.5 0h2.6m20.5 0h2.6m2.5 0h2.6m-102.4 2.5h2.6m48.6 0h2.6m33.2 0h2.6m5.1 0h2.6m-122.9 2.6h2.6m2.5 0h2.6m79.3 0h2.6m5.1 0h2.6m2.5 0h2.6m-102.4 2.6h5.1m2.5 0h2.6m7.7 0h2.6m53.7 0h5.1m10.3 0h2.6m-82 2.5h5.1m2.6 0h2.6m28.1 0h2.6m81.9 0h2.6m-146 2.6h2.6m2.5 0h2.6m20.5 0h2.6m20.4 0h2.6m71.7 0h2.6m2.5 0h5.1m-120.3 2.5h2.6m7.6 0h2.6m7.7 0h2.6m56.2 0h2.6m2.6 0h2.6m23 0h2.6m-123 2.6h5.1m10.3 0h7.7m15.3 0h2.6m7.7 0h2.6m5.1 0h2.6m7.6 0h2.6m23 0h2.6m10.2 0h2.6m17.9 0h2.6m-138.3 2.6h2.6m17.9 0h2.6m2.5 0h2.6m10.2 0h2.6m66.5 0h2.6m-107.5 2.5h2.6m10.2 0h2.6m2.5 0h2.6m2.5 0h2.6m2.5 0h2.6m2.5 0h2.6m12.8 0h2.6m12.8 0h2.6m15.3 0h2.6m30.7 0h2.6m10.2 0h5.1m5.1 0h2.6m-125.5 2.6h2.6m2.5 0h2.6m2.6 0h2.6m7.6 0h2.6m94.7 0h2.6m10.2 0h2.6m-174.1 2.5h2.6m28.1 0h2.6m12.7 0h2.6m2.6 0h5.1m5.1 0h2.6m7.6 0h2.6m48.6 0h2.6m-94.7 2.6h2.6m15.3 0h2.6m20.4 0h2.6m2.6 0h2.6m28.1 0h2.6m20.4 0h2.6m20.5 0h2.6m-133.2 2.6h2.6m12.8 0h2.6m5 0h5.1m5.2 0h2.6m23 0h2.6m66.5 0h5.1m-133.1 2.5h2.6m2.5 0h2.6m7.7 0h2.6m7.6 0h2.6m5.1 0h2.6m25.5 0h2.6m64 0h5.1m-148.5 2.6h2.6m10.2 0h2.6m10.2 0h2.6m43.5 0h2.6m66.5 0h2.6m7.7 0h2.6m-140.9 2.5h2.6m2.6 0h2.6m5 0h2.6m20.5 0h2.6m15.3 0h2.6m17.9 0h2.6m25.5 0h2.6m23 0h2.6m-135.7 2.6h2.6m7.7 0h2.6m23 0h5.1m35.8 0h2.6m12.8 0h2.6m23 0h2.6m7.6 0h2.6m2.5 0h2.6m-122.9 2.6h2.6m2.5 0h2.6m2.6 0h7.7m2.5 0h2.6m2.5 0h5.1m18 0h2.6m2.5 0h2.6m25.5 0h2.6m38.4 0h2.6m-146 2.5h5.1m12.9 0h2.6m10.2 0h5.1m5.1 0h2.6m7.6 0h2.6m-56.3 2.6h2.6m23 0h2.6m15.3 0h10.2m7.7 0h2.6m33.3 0h5.1m23 0h2.6m15.3 0h2.6m-143.4 2.5h2.6m30.7 0h2.6m12.8 0h5.1m15.4 0h2.6m-79.4 2.6h2.6m20.4 0h2.6m5.1 0h5.1m2.6 0h5.1m2.5 0h2.6m2.6 0h2.6m12.7 0h2.6m7.7 0h2.6m48.6 0h2.6m12.7 0h2.6m-143.4 2.6h2.6m53.7 0h2.6m20.5 0h2.6m7.6 0h2.6m12.8 0h2.6m28.1 0h2.6m2.5 0h5.1m2.6 0h2.6m-151.1 2.5h2.6m33.3 0h2.6m15.3 0h7.7m15.3 0h2.6m40.9 0h2.6m10.2 0h2.6m2.6 0h2.6m-135.8 2.6h2.6m35.8 0h2.6m12.8 0h2.6m17.9 0h7.7m5.1 0h5.1m20.5 0h2.6m5.1 0h2.6m7.6 0h2.6m2.5 0h2.6m-135.7 2.5h2.6m5.1 0h2.6m10.2 0h2.6m5.1 0h2.6m15.3 0h2.6m5.1 0h2.6m20.4 0h5.1m51.2 0h2.6m-145.9 2.6h2.6m17.8 0h2.6m5.1 0h2.6m2.5 0h2.6m12.8 0h2.6m2.5 0h2.6m7.7 0h2.6m25.5 0h2.6m7.7 0h2.6m2.5 0h2.6m25.5 0h2.6m5.1 0h2.6m-135.7 2.6h2.6m2.5 0h2.6m5.1 0h5.1m7.7 0h5.1m5.1 0h2.6m2.6 0h10.2m33.3 0h2.6m25.5 0h2.6m10.2 0h2.6m-117.8 2.5h2.6m35.8 0h5.1m2.6 0h2.6m64 0h5.1m-12.8 2.6h10.2m-110 2.5h2.6m5 0h2.6m25.6 0h2.6m2.5 0h2.6m5.1 0h2.6m43.5 0h2.6m2.5 0h2.6m-110.1 2.6h2.6m10.2 0h2.6m7.6 0h5.1m12.8 0h2.6m2.6 0h2.6m10.2 0h2.6m-61.5 2.6h2.6m12.7 0h2.6m2.6 0h2.6m7.6 0h2.6m2.5 0h2.6m7.7 0h2.6m2.5 0h5.1m41 0h7.7m2.5 0h5.1m-110.1 2.5h2.6m30.7 0h2.6m12.8 0h5.1m7.7 0h2.6m30.7 0h5.1m2.5 0h5.1m-120.3 2.6h2.6m7.7 0h2.6m25.5 0h5.1m20.5 0h2.6m5.1 0h2.6m2.5 0h2.6m38.4 0h2.6m-117.8 2.5h2.6m15.3 0h5.1m35.9 0h2.6m2.5 0h2.6m7.6 0h2.6m7.7 0h2.6m7.6 0h5.1m2.6 0h10.2m-120.3 2.6h5.1m2.6 0h2.6m20.4 0h2.6m2.6 0h2.6m10.2 0h5.1m2.5 0h2.6m5.1 0h10.2m7.7 0h2.6m2.6 0h2.6m7.6 0h7.7m-58.9 2.6h2.6m25.6 0h5.1m5.1 0h2.6m10.2 0h2.6m2.5 0h2.6m5.1 0h2.6m-89.6 2.5h2.6m2.5 0h2.6m17.9 0h2.6m7.6 0h2.6m5.1 0h2.6m2.5 0h2.6m2.5 0h10.2m7.7 0h7.7m2.6 0h2.6m10.2 0h2.6m-89.7 2.6h2.6m7.7 0h2.6m10.2 0h2.6m7.6 0h2.6m2.5 0h2.6m10.2 0h5.1m15.4 0h2.6m12.8 0h2.6m-94.8 2.5h2.6m7.7 0h2.6m17.8 0h2.6m15.4 0h2.6m2.5 0h7.7m2.5 0h5.1m2.6 0h2.6m17.9 0h2.6m-87.1 2.6h2.6m17.9 0h2.6m28.1 0h2.6m2.5 0h10.2m10.3 0h2.6m-69.2 2.6h2.6m12.8 0h5.1m2.6 0h2.6m20.4 0h2.6m5.1 0h2.6m7.6 0h2.6m-89.6 2.5h2.6m23 0h2.6m5.1 0h2.6m25.5 0h2.6m12.8 0h2.6m2.5 0h5.1m-48.6 2.6h2.6m2.5 0h2.6m7.7 0h2.6m5 0h2.6m12.8 0h5.1m10.3 0h2.6m17.8 0h2.6m-122.9 2.5h2.6m10.2 0h2.6m40.9 0h2.6m7.7 0h2.6m10.2 0h2.6m-56.4 2.6h2.6m5.1 0h2.6m30.7 0h2.6m17.9 0h2.6m5 0h2.6m-56.3 2.6h2.6m15.3 2.5h2.6" stroke="#000" stroke-width="2.56" fill="none" stroke-opacity="0.4"/>
<path d="M458.2 1775.4h2.6m-15.4 7.6h2.6m-20.5 2.6h2.6m2.5 0h2.6m-10.2 2.6h2.6m10.2 0h2.6m-18 2.5h2.6m2.5 0h2.6m2.5 0h2.6m-61.4 2.6h2.6m10.2 0h2.6m30.6 0h2.6m2.6 0h2.6m17.8 0h2.6m-12.8 2.5h2.6m12.8 0h2.6m-71.8 2.6h2.6m23 0h5.1m5.2 0h2.6m5.1 0h2.6m7.6 0h2.6m-23.1 2.6h2.6m20.5 0h2.6m2.5 0h2.6m2.5 0h2.6m2.5 0h2.6m-84.5 2.5h2.6m12.8 0h2.6m48.6 0h2.6m2.5 0h2.6m-82 2.6h2.6m30.7 0h2.6m30.7 0h2.6m5.1 0h5.1m-64 2.5h2.6m12.7 0h2.6m10.2 0h2.6m25.6 0h5.1m-66.5 2.6h2.6m2.5 0h2.6m2.5 0h2.6m17.9 0h2.6m5.1 0h2.6m25.5 0h2.6m-74.3 2.6h2.6m7.7 0h2.6m12.7 0h5.1m35.9 0h7.7m2.5 0h2.6m2.6 0h2.6m-53.8 2.5h2.6m7.6 0h2.6m2.5 0h2.6m12.8 0h5.1m10.2 0h2.6m-84.5 2.6h2.6m7.7 0h5.1m2.5 0h2.6m2.6 0h2.6m5 0h2.6m12.8 0h2.6m7.6 0h2.6m15.4 0h2.6m5 0h2.6m5.1 0h2.6m-94.7 2.5h2.6m7.6 0h2.6m2.5 0h2.6m7.7 0h5.1m46.1 0h2.6m5 0h5.1m-81.9 2.6h10.2m2.6 0h5.1m48.7 0h2.6m2.5 0h2.6m2.5 0h5.1m-61.4 2.6h5.1m7.7 0h2.6m7.7 0h5.1m-51.2 2.5h2.6m25.5 0h2.6m2.6 0h2.6m7.6 0h5.1m2.6 0h2.6m20.4 0h2.6m2.5 0h2.6m-74.2 2.6h2.6m17.8 0h2.6m7.7 0h2.6m5.1 0h2.6m17.8 0h2.6m7.7 0h2.6m-61.5 2.5h5.1m38.4 0h2.6m-64 2.6h2.6m2.5 0h5.1m28.2 0h5.1m48.6 0h2.6m-84.5 2.6h2.6m35.8 0h2.6m12.8 0h2.6m12.7 0h5.1m-51.1 2.5h5.1m5.1 0h7.7m7.7 0h5.1m10.2 0h2.6m-76.8 2.6h5.1m28.2 0h2.6m5 0h2.6m2.6 0h2.6m17.8 0h2.6m-33.3 2.5h5.1m7.7 0h2.6m7.7 0h2.6m5 0h2.6m2.6 0h2.6m15.3 0h2.6m-48.7 2.6h5.1m20.5 0h2.6m10.2 0h2.6m-38.4 2.6h2.6m5 0h2.6m12.8 0h2.6m2.5 0h2.6m-46.1 2.5h2.6m20.4 0h2.6m2.6 0h2.6m17.8 0h2.6m-43.5 2.6h2.6m7.6 0h2.6m17.9 0h2.6m10.2 0h2.6m-48.7 2.5h2.6m2.5 0h2.6m2.6 0h5.1m12.8 0h2.6m28.1 0h2.6m-61.5 2.6h2.6m7.7 0h2.6m17.8 0h2.6m2.6 0h2.6m-33.4 2.6h2.6m5.1 0h2.6m2.5 0h7.7m-38.4 2.5h2.6m15.3 0h5.1m18 0h2.6m5.1 0h2.6m7.6 0h2.6m-48.7 2.6h2.6m10.2 0h2.6m15.3 0h2.6m-33.3 2.5h7.7m2.6 0h2.6m5 0h5.1m5.2 0h2.6m5.1 0h2.6m-56.4 2.6h2.6m12.8 0h2.6m20.4 0h5.1m-12.8 2.6h2.6m5.1 0h2.6m2.5 0h2.6m-28.2 2.5h7.7m2.6 0h2.6m2.5 0h5.1m-10.2 2.6h2.6m2.5 0h5.1m10.2 0h2.6m-28.2 2.5h2.6m17.9 0h2.6m10.2 0h2.6m-35.9 2.6h2.6m2.6 0h2.6m10.2 0h5.1m2.5 0h7.7m-51.2 2.6h2.6m5.1 0h2.6m2.5 0h5.1m7.7 0h2.6m10.2 0h2.6m15.3 0h2.6m7.7 0h2.6m-74.3 2.5h2.6m15.3 0h2.6m48.6 0h2.6m-46.1 2.6h2.6m7.6 0h2.6m2.6 0h2.6m-10.3 2.5h2.6m17.9 0h2.6m2.5 0h2.6m2.5 0h2.6m-51.2 2.6h2.6m5 0h10.2m10.3 0h2.6m2.5 0h2.6m2.6 0h2.6m15.3 0h2.6m-87.1 2.6h2.6m5.1 0h2.6m5.1 0h2.6m17.8 0h2.6m35.8 0h2.6m-28.2 2.5h2.6m25.6 0h2.6m15.3 0h2.6m-94.7 2.6h2.6m15.3 0h2.6m5.1 0h5.1m25.6 0h2.6m7.6 0h2.6m23 0h2.6m-74.3 2.5h5.1m5.2 0h5.1m2.6 0h2.6m5 0h2.6m7.7 0h2.6m25.5 0h2.6m-79.4 2.6h2.6m10.2 0h2.6m28.2 0h2.6m12.7 0h2.6m2.5 0h2.6m7.7 0h2.6m-43.6 2.6h5.1m33.3 0h2.6m-79.4 2.5h2.6m12.8 0h2.6m2.5 0h2.6m7.6 0h2.6m28.2 0h2.6m28.1 0h2.6m-84.5 2.6h5.1m15.3 0h2.6m5.1 0h5.1m5.2 0h2.6m2.5 0h2.6m-66.6 2.5h2.6m5.1 0h2.6m56.2 0h2.6m5.1 0h2.6m7.7 0h2.6m-82 2.6h5.1m5.1 0h2.6m2.6 0h2.6m5 0h5.1m10.3 0h2.6m5.1 0h2.6m46 0h2.6m5.1 0h2.6m-105 2.6h5.1m23.1 0h2.6m28.1 0h2.6m15.3 0h2.6m-79.4 2.5h2.6m5.1 0h2.6m7.6 0h2.6m15.3 0h2.6m5.1 0h2.6m2.5 0h5.1m12.9 0h5.1m-81.9 2.6h5.1m2.5 0h2.6m5.1 0h2.6m35.8 0h2.6m17.9 0h2.6m2.5 0h5.1m2.6 0h2.6m-89.6 2.5h2.6m5 0h5.1m51.3 0h2.6m7.6 0h2.6m2.5 0h5.1m5.2 0h2.6m2.5 0h2.6m-82 2.6h2.6m5.1 0h2.6m7.6 0h2.6m12.8 0h7.7m10.2 0h2.6m12.8 0h2.6m-84.5 2.6h2.6m7.6 0h2.6m2.5 0h2.6m5.1 0h2.6m2.5 0h7.7m5.1 0h2.6m15.3 0h2.6m7.7 0h2.6m-89.7 2.5h2.6m5.1 0h2.6m2.5 0h5.1m10.3 0h5.1m7.7 0h7.7m2.5 0h2.6m2.6 0h2.6m2.5 0h2.6m5.1 0h2.6m23 0h2.6m-97.4 2.6h10.2m2.6 0h7.7m7.7 0h2.6m28.1 0h2.6m7.7 0h2.6m7.6 0h5.1m2.6 0h2.6m2.5 0h2.6m-97.3 2.5h2.6m2.5 0h7.7m28.1 0h2.6m17.9 0h5.1m2.6 0h5.1m15.4 0h2.6m15.3 0h5.1m2.6 0h2.6m-133.2 2.6h2.6m12.8 0h2.6m15.3 0h2.6m35.8 0h2.6m2.5 0h2.6m2.5 0h2.6m5.1 0h5.1m-87 2.6h2.6m5.1 0h2.6m12.7 0h2.6m46.1 0h2.6m-58.9 2.5h2.6m12.7 0h2.6m33.3 0h2.6m15.3 0h2.6m23 0h5.1m-66.6 2.6h2.6m12.8 0h2.6m33.2 0h2.6m2.6 0h2.6m-112.7 2.5h2.6m5.1 0h2.6m2.5 0h2.6m2.5 0h5.1m56.3 0h2.6m-71.7 2.6h5.1m12.8 0h2.6m41 0h5.1m15.3 0h5.1m-87 2.6h2.6m64 0h2.6m25.5 0h2.6m-97.3 2.5h2.6m35.8 0h2.6m28.1 0h5.1m-87 2.6h5.1m2.6 0h2.6m56.3 0h2.6m-74.3 2.5h5.1m7.7 0h2.6m-12.8 2.6h2.6m5 0h2.6m7.7 0h2.6m58.8 0h2.6m7.7 0h2.6m-110.2 2.6h2.6m15.4 0h2.6m2.5 0h2.6m81.9 0h2.6m-38.5 2.5h2.6m-79.4 2.6h2.6m12.8 0h2.6m2.5 0h2.6m56.3 0h2.6m-74.3 2.5h2.6m102.4 0h2.6m-102.5 2.6h2.6m2.5 0h2.6m87 0h2.6m-97.3 2.6h2.6m5.1 0h5.1m7.7 0h2.6m64 0h2.6m7.6 0h2.6m-20.5 2.5h2.6m15.3 0h5.1m-102.4 2.6h2.6m92.1 2.5h2.6m-94.7 2.6h2.6m92.1 0h2.6m-99.9 2.6h2.6m97.3 0h2.6m-92.2 2.5h2.6m81.8 0h5.1m-99.8 2.6h5.1m94.8 0h2.6m-2.6 2.5h2.6m-105 2.6h2.6m25.5 0h2.6m69.1 0h2.6m-99.9 2.6h2.6m5.1 0h2.6m-10.3 2.5h2.6m2.5 0h5.1m84.5 0h2.6m-102.4 2.6h2.6m7.6 0h5.1m-10.2 2.5h2.6m5.1 2.6h2.6m71.6 0h2.6m-87 2.6h2.6m10.2 0h2.6m79.3 0h2.6m-97.3 2.5h2.6m2.5 0h2.6m2.5 0h5.1m66.6 0h2.6m5.1 0h7.7m-120.4 2.6h2.6m43.5 0h2.6m66.5 0h2.6m-97.3 2.5h2.6m2.5 0h2.6m5.1 0h2.6m2.5 0h2.6m5.1 0h2.6m-33.3 2.6h2.6m2.5 0h2.6m5.1 0h2.6m79.3 0h2.6m-107.6 2.6h2.6m15.4 0h5.1m12.8 0h2.6m53.7 0h2.6m12.8 0h2.6m-89.7 5.1h2.6m10.2 0h2.6m-23.1 2.5h5.1m7.7 0h2.6m5.1 0h2.6m48.6 0h2.6m12.8 0h5.1m2.6 0h2.6m-102.5 2.6h2.6m2.5 0h2.6m12.8 0h2.6m2.5 0h2.6m-5.1 2.6h10.2m15.4 0h2.6m15.3 0h2.6m17.9 0h5.1m-97.3 2.5h2.6m84.4 0h10.2m-92.1 2.6h2.6m12.8 0h2.6m2.5 0h2.6m2.5 0h2.6m43.5 0h2.6m-46.1 2.5h2.6m7.6 0h2.6m33.3 0h5.1m2.5 0h2.6m-64 2.6h2.6m2.5 0h2.6m25.6 0h2.6m12.7 0h5.1m-38.3 2.6h5.1m10.2 0h2.6m15.3 0h2.6m-69.1 2.5h2.6m5.1 0h2.6m5 0h2.6m46.1 0h2.6m17.9 0h2.6m-115.3 2.6h2.6m35.8 0h7.7m2.6 0h5.1m12.8 0h2.6m17.9 0h2.6m7.6 0h5.1m-61.4 2.5h2.6m7.6 0h2.6m7.7 0h2.6m2.5 0h2.6m2.5 0h2.6m7.6 0h5.1m-15.3 2.6h2.6m2.5 0h2.6m2.5 0h2.6m-30.7 2.6h2.6m10.2 0h5.1m23 0h2.6m-69.1 2.5h2.6m7.6 0h2.6m38.4 0h2.6m-0.1 2.6h2.6m-15.4 5.1h2.6m-10.2 2.6h2.6m-15.4 2.5h2.6m7.6 0h2.6m33.2 12.8h2.6" stroke="#000" stroke-width="2.56" fill="none" stroke-opacity="0.64"/>
<path d="M435.2 1788.2h2.6m2.5 0h2.6m-5.1 5.1h5.1m-5.1 2.5h2.6m-20.6 2.6h5.1m2.6 0h5.1m10.3 0h2.6m-56.4 2.6h2.6m17.9 0h2.6m5.1 0h2.6m5.1 0h2.6m5 0h2.6m-23 2.5h2.6m7.6 0h5.1m2.6 0h2.6m2.5 0h2.6m-28.2 2.6h2.6m7.6 0h2.6m10.2 0h2.6m7.7 0h2.6m-30.8 2.5h2.6m7.7 0h5.1m-48.7 2.6h2.6m23 0h2.6m10.2 0h2.6m7.7 0h2.6m2.5 0h5.1m7.7 0h2.6m-76.8 2.6h2.6m43.4 0h5.1m2.6 0h7.7m7.7 0h2.6m-71.7 2.5h2.6m2.5 0h2.6m2.5 0h2.6m2.5 0h2.6m25.6 0h2.6m17.9 0h2.6m-25.7 2.6h2.6m7.7 0h7.7m2.5 0h2.6m2.5 0h2.6m7.7 0h2.6m-38.5 2.5h10.2m5.2 0h2.6m7.6 0h2.6m-48.7 2.6h5.1m12.9 0h2.6m2.5 0h7.7m2.5 0h2.6m12.8 0h2.6m10.2 0h2.6m-87.1 2.6h5.1m2.6 0h2.6m5.1 0h2.6m20.4 0h2.6m5.1 0h2.6m5.1 0h5.1m-58.9 2.5h2.6m5.1 0h2.6m43.5 0h5.1m5.1 0h5.1m-25.6 2.6h5.1m2.6 0h2.6m5.1 0h2.6m2.5 0h2.6m2.5 0h2.6m-69.1 2.5h2.6m33.2 0h2.6m7.6 0h2.6m2.6 0h2.6m5 0h5.1m2.6 0h2.6m2.5 0h2.6m-35.8 2.6h5.1m5.1 0h2.6m2.5 0h2.6m2.5 0h7.7m-35.8 2.6h2.6m5.1 0h2.6m2.5 0h5.1m2.6 0h2.6m5 0h5.1m-20.4 2.5h5.1m-12.8 2.6h2.6m2.5 0h17.9m2.6 0h2.6m-20.5 2.5h7.7m2.5 0h2.6m5.1 0h2.6m2.5 0h2.6m-20.5 2.6h2.6m7.6 0h2.6m2.6 0h2.6m-15.4 2.6h2.6m2.5 0h2.6m-23.1 2.5h5.1m7.7 0h2.6m7.6 0h5.1m-12.7 5.1h2.6m-23.1 2.6h2.6m10.2 0h2.6m2.5 0h2.6m10.2 0h2.6m-20.5 2.6h2.6m-2.6 2.5h2.6m2.5 2.6h2.6m2.5 0h2.6m7.7 0h2.6m-25.7 5.1h2.6m2.5 0h2.6m12.8 0h2.6m-35.9 2.6h2.6m33.3 0h2.6m2.5 2.5h2.6m-38.5 2.6h2.6m15.4 2.5h2.6m10.2 5.2h2.6m-20.6 2.5h2.6m2.6 0h2.6m-28.2 2.6h2.6m17.8 2.5h2.6m-17.9 2.6h2.6m12.7 0h2.6m-33.3 2.6h2.6m23 0h2.6m7.7 0h2.6m30.6 0h2.6m-51.2 2.5h2.6m2.5 0h2.6m-12.8 2.6h2.6m53.7 0h2.6m-38.4 2.5h5.1m7.7 0h2.6m-43.6 2.6h2.6m7.6 0h2.6m28.2 0h2.6m-51.3 2.6h2.6m48.6 0h2.6m-25.6 2.5h2.6m25.5 0h2.6m-69.1 2.6h2.6m10.2 0h2.6m25.5 0h2.6m41 0h2.6m-53.8 2.5h5.1m7.7 0h2.6m25.5 0h2.6m10.2 0h2.6m-56.3 2.6h2.6m7.6 0h5.1m20.5 0h2.6m-69.2 2.6h2.6m10.2 0h5.1m25.7 0h2.6m-46.2 2.5h2.6m20.5 0h2.6m38.3 0h2.6m-66.6 2.6h5.1m12.9 0h2.6m2.5 0h2.6m5.1 0h2.6m2.5 0h2.6m7.6 0h2.6m2.5 0h2.6m2.6 0h2.6m15.3 0h2.6m-79.4 2.5h2.6m15.3 0h2.6m46 0h2.6m-81.9 2.6h2.6m5.1 0h2.6m2.5 0h5.1m5.1 0h5.1m28.2 0h2.6m7.6 0h2.6m5.1 0h2.6m-64 2.6h5.1m48.6 0h2.6m-74.2 2.5h2.6m2.5 0h2.6m12.7 0h2.6m23 0h2.6m7.7 0h2.6m7.6 0h2.6m-76.8 2.6h2.6m10.2 0h5.1m7.7 0h7.7m5.1 0h5.1m-43.5 2.5h5.1m5.1 0h2.6m10.2 0h2.6m7.7 0h5.1m2.5 0h5.1m20.5 0h2.6m-66.6 2.6h2.6m41 0h2.6m-56.4 2.6h2.6m12.8 0h2.6m20.4 0h2.6m43.5 0h2.6m-87.1 2.5h2.6m2.5 0h5.1m30.8 0h2.6m2.5 0h2.6m-66.6 2.6h5.1m10.2 0h2.6m5.1 0h5.1m10.3 0h2.6m20.4 0h7.7m5.1 0h2.6m-61.5 2.5h2.6m10.2 0h5.1m25.7 0h2.6m5 0h2.6m5.1 0h5.1m2.6 0h2.6m25.6 0h2.6m-53.8 2.6h2.6m15.3 0h5.1m-79.4 2.6h2.6m10.2 0h5.1m2.6 0h2.6m35.8 0h5.1m5.2 0h2.6m10.2 0h2.6m-84.6 2.5h7.7m64 0h2.6m-74.3 2.6h2.6m76.8 0h2.6m-87.1 2.5h2.6m12.8 0h5.1m48.6 0h2.6m10.2 0h2.6m-81.9 2.6h2.6m2.5 0h5.1m69.1 0h2.6m-79.4 2.6h2.6m2.6 0h2.6m58.8 0h2.6m2.5 0h7.7m-87 2.5h2.6m5 0h2.6m58.9 0h2.6m10.2 0h5.1m-84.5 2.6h2.6m2.5 0h5.1m64.1 0h2.6m2.5 0h7.7m-92.2 2.5h2.6m5.1 0h2.6m5.1 0h2.6m69 0h2.6m-87 2.6h5.1m5.1 0h2.6m64 0h2.6m2.5 0h2.6m2.5 0h5.1m-97.3 2.6h2.6m5.1 0h2.6m79.3 0h2.6m-107.5 2.5h2.6m7.6 0h2.6m5.1 0h2.6m-5.2 2.6h5.1m87.1 0h2.6m-97.3 2.5h5.1m5.1 0h2.6m81.9 0h2.6m-94.8 2.6h5.1m2.6 0h2.6m79.3 0h2.6m2.6 0h2.6m-99.9 2.6h5.1m89.6 0h2.6m-97.3 2.5h2.6m2.5 0h2.6m-5.2 2.6h2.6m87 0h5.1m-94.7 2.5h2.6m79.4 0h2.6m-82 2.6h7.7m79.3 0h2.6m-99.8 2.6h2.6m5 0h2.6m2.6 0h2.6m-2.6 2.5h2.6m-12.9 2.6h2.6m7.7 0h7.7m71.6 0h5.1m-89.6 2.5h2.6m2.6 0h2.6m2.5 0h2.6m74.2 2.6h2.6m-89.7 2.6h5.1m2.6 0h2.6m2.5 0h2.6m-7.7 2.5h7.7m-12.8 2.6h2.6m5.1 0h2.6m-7.7 2.5h2.6m2.5 0h5.1m64 0h7.7m-87.1 2.6h7.7m2.6 0h2.6m63.9 0h2.6m2.6 0h2.6m-87.1 2.6h2.6m2.5 0h7.7m2.5 0h2.6m2.6 0h2.6m51.1 0h2.6m-66.6 2.5h5.1m2.6 0h2.6m56.3 0h2.6m-2.6 2.6h5.1m-87 2.5h2.6m7.6 0h2.6m5.1 0h7.7m-7.7 2.6h7.7m2.5 0h2.6m33.3 0h2.6m5 0h2.6m5.1 0h5.1m-74.2 2.6h2.6m10.2 0h2.6m33.2 0h2.6m7.7 0h2.6m2.5 0h2.6m-56.4 2.5h7.7m15.4 0h12.8m7.7 0h2.6m2.5 0h2.6m-51.3 2.6h2.6m2.6 0h2.6m2.5 0h5.1m23 0h2.6m5.1 0h2.6m2.5 0h2.6m-48.6 2.5h2.6m2.5 0h2.6m-12.9 2.6h2.6m5.1 0h5.1m2.6 0h7.7m2.5 0h5.1m12.9 0h5.1m-38.4 2.6h5.1m7.7 0h2.6m15.3 0h2.6m7.6 0h2.6m-51.2 2.5h5.1m5.1 0h2.6m10.2 0h10.2m5.2 0h2.6m-18 2.6h5.1m5.2 0h5.1m-33.3 2.5h2.6m7.7 0h2.6m10.2 0h2.6m-23.1 2.6h2.6m10.2 0h2.6m15.3 0h2.6m-7.7 2.6h2.6m-33.3 2.5h2.6m12.7 0h2.6" stroke="#000" stroke-width="2.56" fill="none" stroke-opacity="0.85"/>
<path d="M419.8 1803.5h2.6m-7.7 2.6h5.1m5.2 0h2.6m5 2.5h2.6m-17.9 2.6h2.6m7.6 0h2.6m-20.5 2.6h2.6m12.8 0h2.6m-7.8 2.5h2.6m2.6 0h2.6m7.6 0h2.6m-20.5 2.6h2.6m5.1 2.5h5.1m-5.1 2.6h2.6m2.5 0h5.1m-12.8 2.6h2.6m5.1 0h7.7m-23.1 2.5h2.6m5.1 0h2.6m7.6 0h2.6m-15.4 2.6h2.6m5.1 0h2.6m-12.8 2.5h2.6m-0.1 2.6h2.6m7.7 0h2.6m-23.1 2.6h2.6m10.2 2.5h2.6m5.1 0h5.1m-15.4 7.7h2.6m5.1 0h2.6m-20.5 71.7h2.6m-28.2 7.7h2.6m38.4 2.5h2.6m-35.9 5.1h2.6m7.6 0h2.6m-41 5.2h2.6m10.2 2.5h2.6m-15.4 2.6h2.6m7.7 0h5.1m7.7 0h5.1m-33.3 2.5h2.6m5.1 0h10.2m2.6 0h2.6m2.5 0h2.6m5.1 0h2.6m-46.1 2.6h2.6m10.2 0h7.7m2.5 0h17.9m5.1 0h2.6m-48.6 2.6h5.1m5.1 0h2.6m2.5 0h20.5m2.6 0h5.1m5.1 0h2.6m-43.6 2.5h7.7m2.6 0h2.6m2.5 0h15.4m2.5 0h2.6m2.5 0h2.6m-51.2 2.6h5.1m5.1 0h10.2m18 0h5.1m10.3 0h2.6m-51.3 2.5h5.1m33.3 0h5.1m2.6 0h5.1m-56.3 2.6h10.2m33.3 0h10.2m-58.8 2.6h2.6m5.1 0h2.6m43.4 0h5.1m-56.3 2.5h5.1m43.6 0h10.2m2.6 0h2.6m-69.2 2.6h7.7m48.6 0h12.8m-71.6 2.5h5.1m56.3 0h7.7m-66.6 2.6h2.6m56.3 0h5.1m-69.1 2.6h2.6m2.5 0h2.6m58.9 0h2.6m-74.3 2.5h2.6m2.5 0h5.1m61.5 0h5.1m-81.9 2.6h2.6m2.5 0h2.6m5.1 0h2.6m63.9 0h2.6m-79.4 2.5h2.6m2.5 0h5.1m64.1 0h7.7m-79.4 2.6h5.1m69.1 0h2.6m-76.8 2.6h5.1m69.1 0h5.1m-89.6 2.5h2.6m2.6 0h10.2m69.1 0h7.7m-87 2.6h10.2m69.1 0h7.7m-89.6 2.5h2.6m5.1 0h5.1m69.1 0h5.1m-84.4 2.6h2.6m2.5 0h2.6m71.6 0h5.1m-84.4 2.6h7.7m71.6 0h7.7m-84.5 2.5h5.1m71.7 0h5.1m-84.4 2.6h7.7m71.6 0h5.1m-84.4 2.5h7.7m71.6 0h7.7m-81.9 2.6h2.6m69.1 0h7.7m-82 2.6h5.1m69.2 0h10.2m-84.5 2.5h5.1m69.2 0h7.7m-10.3 2.6h5.1m-81.9 2.5h2.6m2.5 0h2.6m69.1 0h10.2m-89.6 2.6h2.6m2.6 0h10.2m64 0h5.1m-74.2 2.6h2.6m63.9 0h10.2m-10.2 2.5h5.1m-81.9 2.6h2.6m2.6 0h2.6m5 0h2.6m58.9 0h7.7m-10.3 2.5h7.7m-66.6 2.6h5.1m53.8 0h5.1m-61.4 2.6h2.6m51.2 0h2.6m2.5 0h5.1m-74.2 2.5h2.6m5 0h2.6m2.6 0h2.6m46 0h7.7m-69.1 2.6h2.6m2.5 0h12.8m40.9 0h5.1m-51.1 2.5h7.7m35.8 0h12.8m-56.3 2.6h2.6m2.5 0h5.1m30.7 0h5.1m2.6 0h2.6m-51.2 2.6h12.8m23 0h7.7m-41 2.5h15.4m12.8 0h7.7m2.5 0h2.6m-46.1 2.6h2.6m2.5 0h2.6m5.1 0h23m5.2 0h2.6m2.5 0h2.6m-38.5 2.5h30.7m-40.9 2.6h2.6m7.6 0h2.6m15.4 0h7.7m-23.1 2.6h5.1m5.1 0h12.8m-23 2.5h5.1m2.6 0h2.6m12.7 0h2.6m-25.6 2.6h10.2m-7.6 7.7h2.6" stroke="#000" stroke-width="2.56" fill="none" stroke-opacity="1"/>
</g>
<rect x="252.5" y="1736" width="411.79999999999995" height="378" fill="none" stroke="#000" stroke-width="5"/>
<path d="M362 1736V2114M252.5 2022.5H664.3" stroke="#000" stroke-width="4.7" fill="none"/>
<path d="M238.0 1752.6H252.5M238.0 1843.4H252.5M238.0 1936.8H252.5M238.0 2024.6H252.5M345 2114V2127M436 2114V2127M526.5 2114V2127M620 2114V2127" stroke="#000" stroke-width="4.2" fill="none"/>
<path d="M1296.7 309V867H1767" stroke="#000" stroke-width="7" fill="none" stroke-linejoin="miter"/>
<path d="M1408.9 867V887M1530.3 867V887M1644 867V887" stroke="#000" stroke-width="5.5" fill="none"/>
<path d="M1294.3 1484V2041H1764" stroke="#000" stroke-width="7" fill="none" stroke-linejoin="miter"/>
<path d="M1397.4 2041V2061M1516.7 2041V2061M1630.7 2041V2061" stroke="#000" stroke-width="5.5" fill="none"/>
<path d="M1321.3 864.3L1325.1 860.4L1329.0 864.3L1334.8 864.3L1337.7 859.4L1342.6 860.4L1349.3 855.6L1354.2 842.0L1357.1 849.8L1361.9 836.2L1365.8 835.3L1368.7 842.0L1371.6 818.8L1374.5 799.5L1377.4 785.9L1382.2 785.0L1384.1 743.4L1387.0 735.6L1392.8 720.2L1396.7 695.0L1399.0 679.6L1400.6 640.9L1403.5 634.1L1407.4 629.3L1410.3 598.3L1412.6 569.3L1415.1 590.6L1417.0 546.1L1421.5 519.0L1425.7 536.4L1431.5 554.8L1436.4 553.8L1438.3 584.8L1443.1 579.9L1445.1 644.7L1446.0 671.8L1448.0 648.6L1452.8 679.6L1456.7 693.1L1459.6 735.6L1461.5 733.7L1465.4 772.4L1472.1 789.8L1475.0 822.7L1478.9 828.5L1481.8 829.5L1487.6 847.8L1491.5 850.7L1496.3 858.5L1500.0 853.6L1496.0 854.8L1500.7 850.0L1504.3 859.5L1511.4 863.1" stroke="#000" stroke-width="2.6" fill="none" stroke-linejoin="round"/>
<path d="M1356.1 861.4L1361.9 849.8L1364.8 854.6L1368.7 852.7L1371.6 857.5L1377.4 834.3L1384.1 816.9L1387.0 797.5L1392.8 796.6L1394.8 770.5L1398.6 760.8L1401.5 758.9L1405.4 735.6L1408.3 681.5L1412.2 654.4L1415.1 606.1L1417.0 621.5L1423.8 582.8L1428.6 540.3L1431.5 537.4L1438.3 504.5L1443.1 540.3L1447.0 582.8L1452.8 585.7L1456.7 606.1L1459.6 638.9L1466.3 669.9L1469.2 718.2L1474.1 726.0L1477.9 747.3L1482.8 797.5L1489.6 793.7L1491.5 818.8L1496.3 837.2L1492.4 819.0L1497.1 835.7L1501.9 838.1L1506.7 845.2L1511.4 860.7L1516.2 863.1L1521.0 861.9L1525.7 864.3" stroke="#f00" stroke-width="2.6" fill="none" stroke-linejoin="round"/>
<path d="M1528.1 863.1L1532.9 860.7L1537.6 864.3L1543.6 852.4L1547.1 850.0L1550.7 838.1L1554.3 831.0L1557.9 802.4L1561.4 795.2L1565.0 773.8L1568.6 738.1L1571.4 695.2L1574.5 681.0L1576.9 638.1L1578.6 590.5L1580.0 538.1L1585.2 535.7L1587.1 490.5L1590.0 504.8L1592.4 514.3L1594.8 478.6L1598.3 469.0L1601.4 435.7L1604.3 457.1L1606.7 481.0L1609.0 519.0L1611.9 547.6L1615.0 571.4L1618.6 600.0L1621.0 614.3L1623.3 671.4L1629.3 683.3L1632.9 704.8L1636.4 733.3L1638.8 764.3L1642.4 778.6L1644.8 809.5L1648.3 826.2L1651.9 819.0L1656.7 838.1L1661.4 852.4L1667.4 858.3L1672.1 863.1" stroke="#f00" stroke-width="2.6" fill="none" stroke-linejoin="round" stroke-dasharray="3.6 1.1"/>
<path d="M1548.3 864.3L1554.3 852.4L1559.0 840.5L1563.8 836.9L1568.6 821.4L1573.3 792.9L1575.7 766.7L1579.3 754.8L1581.7 709.5L1585.2 666.7L1588.8 626.2L1592.4 604.8L1594.8 557.1L1598.3 566.7L1600.7 488.1L1606.7 483.3L1609.0 473.8L1610.2 490.5L1615.0 469.0L1617.4 500.0L1622.1 481.0L1624.5 514.3L1626.9 552.4L1630.5 614.3L1632.9 633.3L1637.6 650.0L1642.4 685.7L1646.0 692.9L1648.3 716.7L1651.9 771.4L1654.3 790.5L1659.0 795.2L1662.6 814.3L1666.2 831.0L1669.0 823.8L1672.1 835.7L1675.7 857.1L1680.5 860.7L1686.4 859.5L1690.0 864.3" stroke="#000" stroke-width="2.6" fill="none" stroke-linejoin="round" stroke-dasharray="3.6 1.1"/>
<path d="M1297.1 2033.6L1300.7 2030.0L1305.5 2037.1L1312.6 2015.7L1316.2 2020.5L1319.8 2032.4L1322.1 2019.3L1326.9 2025.2L1332.9 2018.1L1336.4 2016.9L1341.2 2005.0L1346.0 2016.9L1349.5 2008.6L1353.1 1994.3L1356.7 1987.1L1361.4 1983.6L1366.2 1978.8L1371.0 1949.0L1373.3 1958.6L1378.1 1927.6L1380.5 1934.8L1384.0 1891.9L1388.8 1888.3L1392.4 1863.3L1396.0 1813.3L1400.7 1789.5L1403.8 1841.9L1407.9 1775.2L1411.0 1764.5L1415.0 1790.7L1417.9 1706.2L1419.8 1724.0L1423.3 1713.3L1426.9 1676.4L1430.5 1715.7L1434.0 1757.4L1438.8 1744.3L1441.2 1791.9L1446.0 1818.1L1448.3 1863.3L1451.9 1882.4L1454.8 1922.9L1459.5 1908.6L1461.4 1953.8L1465.0 1970.5L1468.6 1994.3L1473.3 2008.6L1478.1 2006.2L1482.9 2022.9L1487.6 2030.0L1492.4 2026.4L1497.1 2037.1L1501.9 2038.3L1505.5 2030.0L1511.4 2038.3L1518.6 2039.5" stroke="#000" stroke-width="2.6" fill="none" stroke-linejoin="round"/>
<path d="M1468.6 2039.5L1480.5 2038.3L1487.6 2025.2L1490.0 2026.6L1495.8 1992.1L1498.6 1966.2L1502.9 1957.6L1505.8 1963.3L1507.3 1911.5L1511.6 1854.0L1515.9 1767.7L1518.8 1710.1L1523.1 1698.6L1526.0 1623.8L1528.8 1537.5L1533.2 1505.9L1536.6 1497.3L1540.3 1514.5L1544.7 1523.2L1547.5 1595.1L1551.9 1667.0L1556.2 1710.1L1559.0 1784.9L1563.4 1799.3L1567.7 1839.6L1570.6 1897.1L1573.4 1943.2L1577.7 1951.8L1580.6 1974.8L1582.6 1966.2L1587.8 1997.8L1593.6 2006.5L1602.2 2020.9L1610.8 2026.6L1618.0 2035.2L1625.2 2026.6L1631.0 2038.1" stroke="#f00" stroke-width="2.6" fill="none" stroke-linejoin="round"/>
<path d="M1478.1 2039.5L1487.6 2033.6L1492.9 2035.2L1501.5 2018.0L1505.8 1997.8L1508.7 1986.3L1514.5 1911.5L1518.8 1854.0L1524.5 1767.7L1528.8 1710.1L1533.2 1638.2L1536.0 1577.8L1541.8 1572.1L1547.5 1546.2L1549.0 1572.1L1553.3 1580.7L1557.6 1609.5L1559.0 1698.6L1563.4 1678.5L1566.2 1710.1L1569.1 1767.7L1573.4 1825.2L1577.7 1874.1L1582.1 1882.8L1586.4 1928.8L1590.7 1954.7L1595.0 1986.3L1600.8 1997.8L1608.0 2018.0L1613.7 2018.0L1619.5 2035.2L1628.1 2026.6L1635.3 2038.1L1645.4 2033.8L1652.5 2038.1" stroke="#f00" stroke-width="2.6" fill="none" stroke-linejoin="round" stroke-dasharray="3.6 1.1"/>
<path d="M1518.8 2038.1L1533.2 2036.7L1536.0 2026.6L1541.8 2015.1L1549.0 1997.8L1551.9 1966.2L1557.6 1954.7L1559.6 1877.0L1563.4 1902.9L1566.2 1854.0L1570.6 1782.1L1573.4 1738.9L1576.3 1681.4L1580.6 1641.1L1582.6 1577.8L1586.4 1632.5L1589.3 1580.7L1593.6 1566.3L1597.9 1623.8L1600.8 1658.4L1605.1 1664.1L1608.0 1710.1L1612.3 1767.7L1613.7 1822.3L1618.0 1773.4L1620.9 1825.2L1625.2 1865.5L1627.5 1914.4L1631.5 1902.9L1633.8 1948.9L1638.2 1951.8L1642.5 1986.3L1646.8 2006.5L1655.4 2015.1L1658.3 2012.2L1662.6 2020.9L1671.2 2032.4L1679.9 2038.1L1694.3 2038.1" stroke="#000" stroke-width="2.6" fill="none" stroke-linejoin="round" stroke-dasharray="3.6 1.1"/>
</g>
<g filter="url(#softv)">
<text transform="translate(0 83.3) scale(1 1.045)" y="0" font-size="52" fill="#000" stroke="#000" stroke-width="0.45"><tspan x="135.9" letter-spacing="-0.14">Staining</tspan> <tspan x="342.7" letter-spacing="3.00">of</tspan> <tspan x="403.8" letter-spacing="-0.75">hybridoma</tspan> <tspan x="665.8" letter-spacing="-0.15">cells</tspan></text>
<text transform="translate(0 148.3) scale(1 1.045)" y="0" font-size="52" fill="#000" stroke="#000" stroke-width="0.45"><tspan x="172.2" letter-spacing="-1.20">with</tspan> <tspan x="280.9" letter-spacing="-0.40">secondary</tspan> <tspan x="540.9" letter-spacing="-0.42">antibody</tspan></text>
<text transform="translate(0 83.3) scale(1 1.045)" y="0" font-size="52" fill="#000" stroke="#000" stroke-width="0.45"><tspan x="1190.3" letter-spacing="-0.24">Staining</tspan> <tspan x="1397.0" letter-spacing="3.00">of</tspan> <tspan x="1458.5" letter-spacing="0.38">HeLa</tspan> <tspan x="1600.1" letter-spacing="-0.32">cells</tspan> <tspan x="1721.8" letter-spacing="-1.20">with</tspan></text>
<text transform="translate(0 148.3) scale(1 1.045)" y="0" font-size="52" fill="#000" stroke="#000" stroke-width="0.45"><tspan x="1229.7" letter-spacing="-0.51">hybridoma</tspan> <tspan x="1492.5" letter-spacing="0.20">supernatant</tspan></text>
<text transform="translate(0 248.6) scale(1 1.045)" y="0" font-size="76" fill="#000" stroke="#000" stroke-width="0.3"><tspan x="42.8">A</tspan></text>
<text transform="translate(0 248.6) scale(1 1.045)" y="0" font-size="76" fill="#000" stroke="#000" stroke-width="0.3"><tspan x="1126.0">B</tspan></text>
<text transform="translate(0 1352.6) scale(1 1.045)" y="0" font-size="76" fill="#000" stroke="#000" stroke-width="0.3"><tspan x="42.6">C</tspan></text>
<text transform="translate(0 1354) scale(1 1.045)" y="0" font-size="76" fill="#000" stroke="#000" stroke-width="0.3"><tspan x="1126.1">D</tspan></text>
<text transform="translate(0 232.8) scale(1 1.045)" y="0" font-size="30.5" fill="#222" stroke="#222" stroke-width="0.5"><tspan x="194.9" letter-spacing="-1.20">10</tspan></text>
<text transform="translate(0 223.0) scale(1 1.045)" y="0" font-size="16.5" fill="#555" stroke="#555" stroke-width="0.3"><tspan x="229.2">4</tspan></text>
<text transform="translate(0 323.3) scale(1 1.045)" y="0" font-size="30.5" fill="#222" stroke="#222" stroke-width="0.5"><tspan x="194.9" letter-spacing="-1.20">10</tspan></text>
<text transform="translate(0 313.5) scale(1 1.045)" y="0" font-size="16.5" fill="#555" stroke="#555" stroke-width="0.3"><tspan x="228.7">3</tspan></text>
<text transform="translate(0 415.3) scale(1 1.045)" y="0" font-size="30.5" fill="#222" stroke="#222" stroke-width="0.5"><tspan x="194.9" letter-spacing="-1.20">10</tspan></text>
<text transform="translate(0 405.5) scale(1 1.045)" y="0" font-size="16.5" fill="#555" stroke="#555" stroke-width="0.3"><tspan x="228.7">2</tspan></text>
<text transform="translate(0 502.8) scale(1 1.045)" y="0" font-size="30.5" fill="#222" stroke="#222" stroke-width="0.5"><tspan x="194.9" letter-spacing="-1.20">10</tspan></text>
<text transform="translate(0 493.0) scale(1 1.045)" y="0" font-size="16.5" fill="#555" stroke="#555" stroke-width="0.3"><tspan x="230.1">1</tspan></text>
<rect x="506.5" y="354.8" width="260.40000000000003" height="106.9" fill="#fff" stroke="#000" stroke-width="4.6"/>
<text transform="translate(0 429.2) scale(1 1.045)" y="0" font-size="57" fill="#000" stroke="#000" stroke-width="0.45"><tspan x="542.6" letter-spacing="1.03">Control</tspan></text>
<text transform="translate(0 654.8) scale(1 1.045)" y="0" font-size="30.5" fill="#222" stroke="#222" stroke-width="0.5"><tspan x="194.9" letter-spacing="-1.20">10</tspan></text>
<text transform="translate(0 645.0) scale(1 1.045)" y="0" font-size="16.5" fill="#555" stroke="#555" stroke-width="0.3"><tspan x="229.2">4</tspan></text>
<text transform="translate(0 745.4) scale(1 1.045)" y="0" font-size="30.5" fill="#222" stroke="#222" stroke-width="0.5"><tspan x="194.9" letter-spacing="-1.20">10</tspan></text>
<text transform="translate(0 735.6) scale(1 1.045)" y="0" font-size="16.5" fill="#555" stroke="#555" stroke-width="0.3"><tspan x="228.7">3</tspan></text>
<text transform="translate(0 837.8) scale(1 1.045)" y="0" font-size="30.5" fill="#222" stroke="#222" stroke-width="0.5"><tspan x="194.9" letter-spacing="-1.20">10</tspan></text>
<text transform="translate(0 828.0) scale(1 1.045)" y="0" font-size="16.5" fill="#555" stroke="#555" stroke-width="0.3"><tspan x="228.7">2</tspan></text>
<text transform="translate(0 924.4) scale(1 1.045)" y="0" font-size="30.5" fill="#222" stroke="#222" stroke-width="0.5"><tspan x="194.9" letter-spacing="-1.20">10</tspan></text>
<text transform="translate(0 914.6) scale(1 1.045)" y="0" font-size="16.5" fill="#555" stroke="#555" stroke-width="0.3"><tspan x="230.1">1</tspan></text>
<text transform="translate(0 1053.7) scale(1 1.045)" y="0" font-size="31" fill="#222" stroke="#222" stroke-width="0.5"><tspan x="315.4" letter-spacing="-1.20">10</tspan></text>
<text transform="translate(0 1038.5) scale(1 1.045)" y="0" font-size="17.5" fill="#444" stroke="#444" stroke-width="0.3"><tspan x="356.9">1</tspan></text>
<text transform="translate(0 1053.7) scale(1 1.045)" y="0" font-size="31" fill="#222" stroke="#222" stroke-width="0.5"><tspan x="407.1" letter-spacing="-1.20">10</tspan></text>
<text transform="translate(0 1038.5) scale(1 1.045)" y="0" font-size="17.5" fill="#444" stroke="#444" stroke-width="0.3"><tspan x="446.4">2</tspan></text>
<text transform="translate(0 1053.7) scale(1 1.045)" y="0" font-size="31" fill="#222" stroke="#222" stroke-width="0.5"><tspan x="502.2" letter-spacing="-1.20">10</tspan></text>
<text transform="translate(0 1038.5) scale(1 1.045)" y="0" font-size="17.5" fill="#444" stroke="#444" stroke-width="0.3"><tspan x="538.9">3</tspan></text>
<text transform="translate(0 1053.7) scale(1 1.045)" y="0" font-size="31" fill="#222" stroke="#222" stroke-width="0.5"><tspan x="595.4" letter-spacing="-1.20">10</tspan></text>
<text transform="translate(0 1038.5) scale(1 1.045)" y="0" font-size="17.5" fill="#444" stroke="#444" stroke-width="0.3"><tspan x="635.0">4</tspan></text>
<rect x="506.5" y="783.3" width="344.2" height="106.4" fill="#fff" stroke="#000" stroke-width="4.6"/>
<text transform="translate(0 857.6) scale(1 1.045)" y="0" font-size="57" fill="#000" stroke="#000" stroke-width="0.45"><tspan x="542.9" letter-spacing="0.17">anti-IgG2a</tspan></text>
<text transform="translate(0 1344.3) scale(1 1.045)" y="0" font-size="30.5" fill="#222" stroke="#222" stroke-width="0.5"><tspan x="194.9" letter-spacing="-1.20">10</tspan></text>
<text transform="translate(0 1334.5) scale(1 1.045)" y="0" font-size="16.5" fill="#555" stroke="#555" stroke-width="0.3"><tspan x="229.2">4</tspan></text>
<text transform="translate(0 1434.2) scale(1 1.045)" y="0" font-size="30.5" fill="#222" stroke="#222" stroke-width="0.5"><tspan x="194.9" letter-spacing="-1.20">10</tspan></text>
<text transform="translate(0 1424.4) scale(1 1.045)" y="0" font-size="16.5" fill="#555" stroke="#555" stroke-width="0.3"><tspan x="228.7">3</tspan></text>
<text transform="translate(0 1527.6) scale(1 1.045)" y="0" font-size="30.5" fill="#222" stroke="#222" stroke-width="0.5"><tspan x="194.9" letter-spacing="-1.20">10</tspan></text>
<text transform="translate(0 1517.8) scale(1 1.045)" y="0" font-size="16.5" fill="#555" stroke="#555" stroke-width="0.3"><tspan x="228.7">2</tspan></text>
<text transform="translate(0 1616.2) scale(1 1.045)" y="0" font-size="30.5" fill="#222" stroke="#222" stroke-width="0.5"><tspan x="194.9" letter-spacing="-1.20">10</tspan></text>
<text transform="translate(0 1606.4) scale(1 1.045)" y="0" font-size="16.5" fill="#555" stroke="#555" stroke-width="0.3"><tspan x="230.1">1</tspan></text>
<rect x="506.5" y="1459.3" width="260.40000000000003" height="106.9" fill="#fff" stroke="#000" stroke-width="4.6"/>
<text transform="translate(0 1532.5) scale(1 1.045)" y="0" font-size="57" fill="#000" stroke="#000" stroke-width="0.45"><tspan x="542.6" letter-spacing="1.03">Control</tspan></text>
<text transform="translate(0 1763.3999999999999) scale(1 1.045)" y="0" font-size="30.5" fill="#222" stroke="#222" stroke-width="0.5"><tspan x="194.9" letter-spacing="-1.20">10</tspan></text>
<text transform="translate(0 1753.6) scale(1 1.045)" y="0" font-size="16.5" fill="#555" stroke="#555" stroke-width="0.3"><tspan x="229.2">4</tspan></text>
<text transform="translate(0 1854.2) scale(1 1.045)" y="0" font-size="30.5" fill="#222" stroke="#222" stroke-width="0.5"><tspan x="194.9" letter-spacing="-1.20">10</tspan></text>
<text transform="translate(0 1844.4) scale(1 1.045)" y="0" font-size="16.5" fill="#555" stroke="#555" stroke-width="0.3"><tspan x="228.7">3</tspan></text>
<text transform="translate(0 1947.6) scale(1 1.045)" y="0" font-size="30.5" fill="#222" stroke="#222" stroke-width="0.5"><tspan x="194.9" letter-spacing="-1.20">10</tspan></text>
<text transform="translate(0 1937.8) scale(1 1.045)" y="0" font-size="16.5" fill="#555" stroke="#555" stroke-width="0.3"><tspan x="228.7">2</tspan></text>
<text transform="translate(0 2035.3999999999999) scale(1 1.045)" y="0" font-size="30.5" fill="#222" stroke="#222" stroke-width="0.5"><tspan x="194.9" letter-spacing="-1.20">10</tspan></text>
<text transform="translate(0 2025.6) scale(1 1.045)" y="0" font-size="16.5" fill="#555" stroke="#555" stroke-width="0.3"><tspan x="230.1">1</tspan></text>
<text transform="translate(0 2161.7) scale(1 1.045)" y="0" font-size="31" fill="#222" stroke="#222" stroke-width="0.5"><tspan x="317.4" letter-spacing="-1.20">10</tspan></text>
<text transform="translate(0 2146.5) scale(1 1.045)" y="0" font-size="17.5" fill="#444" stroke="#444" stroke-width="0.3"><tspan x="358.9">1</tspan></text>
<text transform="translate(0 2161.7) scale(1 1.045)" y="0" font-size="31" fill="#222" stroke="#222" stroke-width="0.5"><tspan x="409.1" letter-spacing="-1.20">10</tspan></text>
<text transform="translate(0 2146.5) scale(1 1.045)" y="0" font-size="17.5" fill="#444" stroke="#444" stroke-width="0.3"><tspan x="448.4">2</tspan></text>
<text transform="translate(0 2161.7) scale(1 1.045)" y="0" font-size="31" fill="#222" stroke="#222" stroke-width="0.5"><tspan x="504.2" letter-spacing="-1.20">10</tspan></text>
<text transform="translate(0 2146.5) scale(1 1.045)" y="0" font-size="17.5" fill="#444" stroke="#444" stroke-width="0.3"><tspan x="540.9">3</tspan></text>
<text transform="translate(0 2161.7) scale(1 1.045)" y="0" font-size="31" fill="#222" stroke="#222" stroke-width="0.5"><tspan x="597.4" letter-spacing="-1.20">10</tspan></text>
<text transform="translate(0 2146.5) scale(1 1.045)" y="0" font-size="17.5" fill="#444" stroke="#444" stroke-width="0.3"><tspan x="637.0">4</tspan></text>
<rect x="506.5" y="1887.8" width="344.2" height="104.4" fill="#fff" stroke="#000" stroke-width="4.6"/>
<text transform="translate(0 1958.8) scale(1 1.045)" y="0" font-size="57" fill="#000" stroke="#000" stroke-width="0.45"><tspan x="542.9" letter-spacing="0.17">anti-IgG2a</tspan></text>
<text transform="translate(147.2 0) rotate(-90) scale(1 1.045)" y="0" font-size="52" fill="#000" stroke="#000" stroke-width="0.45"><tspan x="-1043.5" letter-spacing="0.95">FL4</tspan> <tspan x="-936.2" letter-spacing="0.08">(AF</tspan> <tspan x="-838.5" letter-spacing="3.00">647</tspan> <tspan x="-731.5" letter-spacing="3.00">or</tspan> <tspan x="-671.4" letter-spacing="1.90">DL</tspan> <tspan x="-587.3" letter-spacing="1.78">650)</tspan> <tspan x="-464.4">signal</tspan></text>
<text transform="translate(147.2 0) rotate(-90) scale(1 1.045)" y="0" font-size="52" fill="#000" stroke="#000" stroke-width="0.45"><tspan x="-2143.4" letter-spacing="0.95">FL4</tspan> <tspan x="-2036.2" letter-spacing="0.08">(AF</tspan> <tspan x="-1938.5" letter-spacing="3.00">647</tspan> <tspan x="-1831.5" letter-spacing="3.00">or</tspan> <tspan x="-1771.4" letter-spacing="1.90">DL</tspan> <tspan x="-1687.3" letter-spacing="1.78">650)</tspan> <tspan x="-1564.5">signal</tspan></text>
<path d="M132.4 311.6V232.3" stroke="#000" stroke-width="12" fill="none"/>
<path d="M111.4 264.8L132.4 230.3L153.4 264.8" stroke="#000" stroke-width="12" fill="none" stroke-linecap="round" stroke-linejoin="miter" stroke-miterlimit="10"/>
<path d="M132.4 1411.6V1332.3" stroke="#000" stroke-width="12" fill="none"/>
<path d="M111.4 1364.8L132.4 1330.3L153.4 1364.8" stroke="#000" stroke-width="12" fill="none" stroke-linecap="round" stroke-linejoin="miter" stroke-miterlimit="10"/>
<text transform="translate(0 1127.3) scale(1 1.045)" y="0" font-size="52" fill="#000" stroke="#000" stroke-width="0.45"><tspan x="286.9" letter-spacing="-1.20">FL1</tspan> <tspan x="394.4">signal</tspan></text>
<text transform="translate(0 2235.5) scale(1 1.045)" y="0" font-size="52" fill="#000" stroke="#000" stroke-width="0.45"><tspan x="285.9" letter-spacing="-1.20">FL1</tspan> <tspan x="393.4">signal</tspan></text>
<path d="M572.4 1110.4H651.6" stroke="#000" stroke-width="12" fill="none"/>
<path d="M622.0 1090.7L653.6 1110.4L622.0 1130.1" stroke="#000" stroke-width="12" fill="none" stroke-linecap="round" stroke-linejoin="miter" stroke-miterlimit="10"/>
<path d="M571.5 2219H650.6" stroke="#000" stroke-width="12" fill="none"/>
<path d="M621.0 2199.3L652.6 2219L621.0 2238.7" stroke="#000" stroke-width="12" fill="none" stroke-linecap="round" stroke-linejoin="miter" stroke-miterlimit="10"/>
<rect x="299" y="653" width="251" height="121" fill="none" stroke="#f00" stroke-width="5" stroke-dasharray="4.8 4.53"/>
<path d="M333.2 1786.1L385.4 1778.4Q391 1779 394.1 1788L399 1803.5L389.3 1844Q388 1848.5 383.5 1848L330.5 1835.8Q327 1834 327.6 1830Z" fill="none" stroke="#f00" stroke-width="3.6" stroke-dasharray="3.5 3.5"/>
<path d="M551 713.5L1092.8 713.5M1064.5 731.5L1092.8 713.5L1064.5 695.5" stroke="#f00" stroke-width="4.5" fill="none" stroke-linejoin="miter" stroke-miterlimit="10"/>
<path d="M999 713.5L628.7 1243.7M630.1 1210.2L628.7 1243.7L659.7 1230.9" stroke="#f00" stroke-width="4.5" fill="none" stroke-linejoin="miter" stroke-miterlimit="10"/>
<path d="M394 1787H786" stroke="#f00" stroke-width="4.5"/>
<path d="M784 1788.7L1081.8 1788.7M1053.5 1806.7L1081.8 1788.7L1053.5 1770.7" stroke="#f00" stroke-width="4.5" fill="none" stroke-linejoin="miter" stroke-miterlimit="10"/>
<path d="M890 1788.7L993.4 2320.9M970.3 2296.5L993.4 2320.9L1005.7 2289.7" stroke="#f00" stroke-width="4.5" fill="none" stroke-linejoin="miter" stroke-miterlimit="10"/>
<text transform="translate(0 663.6) scale(1 1.045)" y="0" font-size="52" fill="#000" stroke="#000" stroke-width="0.45"><tspan x="706.1" letter-spacing="0.17">Cell</tspan> <tspan x="813.3" letter-spacing="0.24">sorting:</tspan> <tspan x="1003.5" letter-spacing="-0.58">0.3%</tspan></text>
<text transform="translate(0 1743.2) scale(1 1.045)" y="0" font-size="52" fill="#000" stroke="#000" stroke-width="0.45"><tspan x="706.1" letter-spacing="0.17">Cell</tspan> <tspan x="813.3" letter-spacing="0.24">sorting:</tspan> <tspan x="1003.5" letter-spacing="-0.58">0.5%</tspan></text>
<text transform="translate(0 1241.8) scale(1 1.045)" y="0" font-size="52" fill="#000" stroke="#000" stroke-width="0.45"><tspan x="689.8" letter-spacing="0.62">Second</tspan> <tspan x="885.8" letter-spacing="0.43">sorting</tspan></text>
<text transform="translate(0 2432.5) scale(1 1.045)" y="0" font-size="52" fill="#000" stroke="#000" stroke-width="0.45"><tspan x="952.9" letter-spacing="-0.28">Cloning</tspan> <tspan x="1147.8" letter-spacing="-1.20">by</tspan> <tspan x="1219.3" letter-spacing="-0.70">limiting</tspan> <tspan x="1401.0" letter-spacing="-0.49">dilution</tspan></text>
<text transform="translate(1637.1 2394.4) scale(1.0778 1)" font-size="53" fill="#000" stroke="#000" stroke-width="0.45">10/22</text>
<text transform="translate(1791.4 2394.4) scale(0.9563 1)" font-size="53" fill="#000" stroke="#000" stroke-width="0.45">pos</text>
<text transform="translate(1888.2 2394.4) scale(0.9295 1)" font-size="53" fill="#000" stroke="#000" stroke-width="0.45">IgG2a</text>
<text transform="translate(1636.5 2464.8) scale(1.0811 1)" font-size="53" fill="#000" stroke="#000" stroke-width="0.45">(15/24</text>
<text transform="translate(1810.4 2464.8) scale(0.9600 1)" font-size="53" fill="#000" stroke="#000" stroke-width="0.45">pos</text>
<text transform="translate(1906.6 2464.8) scale(0.9718 1)" font-size="53" fill="#000" stroke="#000" stroke-width="0.45">IgG2b)</text>
<text transform="translate(0 931.5) scale(1 1.045)" y="0" font-size="45" fill="#000" stroke="#000" stroke-width="0.5"><tspan x="1387.7" letter-spacing="-1.20">10</tspan></text>
<text transform="translate(0 913.0) scale(1 1.045)" y="0" font-size="22" fill="#111" stroke="#111" stroke-width="0.3"><tspan x="1437.0">1</tspan></text>
<text transform="translate(0 931.5) scale(1 1.045)" y="0" font-size="45" fill="#000" stroke="#000" stroke-width="0.5"><tspan x="1509.1" letter-spacing="-1.20">10</tspan></text>
<text transform="translate(0 913.0) scale(1 1.045)" y="0" font-size="22" fill="#111" stroke="#111" stroke-width="0.3"><tspan x="1557.1">2</tspan></text>
<text transform="translate(0 931.5) scale(1 1.045)" y="0" font-size="45" fill="#000" stroke="#000" stroke-width="0.5"><tspan x="1622.8" letter-spacing="-1.20">10</tspan></text>
<text transform="translate(0 913.0) scale(1 1.045)" y="0" font-size="22" fill="#111" stroke="#111" stroke-width="0.3"><tspan x="1671.0">3</tspan></text>
<text transform="translate(0 991) scale(1 1.045)" y="0" font-size="52.5" fill="#2b2622" stroke="#2b2622" stroke-width="0.45"><tspan x="1269.0" letter-spacing="0.39">Fluorescence</tspan> <tspan x="1605.2" letter-spacing="-0.55">intensity</tspan></text>
<text transform="translate(1231.6 0) rotate(-90) scale(1 1.045)" y="0" font-size="52" fill="#000" stroke="#000" stroke-width="0.45"><tspan x="-778.2" letter-spacing="0.98">Number</tspan> <tspan x="-573.6" letter-spacing="0.75">of</tspan> <tspan x="-515.5" letter-spacing="-0.50">cells</tspan></text>
<text transform="translate(1333.6000000000001 321) scale(1.28 1)" font-size="50" font-family="DejaVu Sans, sans-serif" font-weight="200" stroke="#000" stroke-width="0.8">α</text>
<text transform="translate(0 321) scale(1 1.045)" y="0" font-size="57" fill="#000" stroke="#000" stroke-width="0.45"><tspan x="1370.0" letter-spacing="-0.30">IgG2a</tspan></text>
<text transform="translate(1555.5 321) scale(1.28 1)" font-size="50" font-family="DejaVu Sans, sans-serif" font-weight="200" stroke="#000" stroke-width="0.8">α</text>
<text transform="translate(0 321) scale(1 1.045)" y="0" font-size="57" fill="#000" stroke="#000" stroke-width="0.45"><tspan x="1591.8" letter-spacing="-1.20">IgG1</tspan></text>
<path d="M1353.5 364H1491" stroke="#000" stroke-width="3.8"/>
<path d="M1546.5 364H1685" stroke="#000" stroke-width="3.8" stroke-dasharray="11.4 4.7"/>
<path d="M1804.2 298.4H1768" stroke="#000" stroke-width="3.8"/><path d="M1750.3 298.4l26 -13v26z" fill="#000"/>
<text transform="translate(0 316.79999999999995) scale(1 1.045)" y="0" font-size="52" fill="#000" stroke="#000" stroke-width="0.45"><tspan x="1814.4" letter-spacing="0.40">Secondary</tspan> <tspan x="2084.2" letter-spacing="-0.44">antibody</tspan></text>
<path d="M1712 555.5H1795" stroke="#000" stroke-width="4"/>
<path d="M1712 627H1795" stroke="#f00" stroke-width="4"/>
<text transform="translate(0 571.1) scale(1 1.045)" y="0" font-size="52" fill="#000" stroke="#000" stroke-width="0.45"><tspan x="1839.3" letter-spacing="0.29">Original</tspan> <tspan x="2037.5" letter-spacing="1.32">TS63</tspan></text>
<text transform="translate(0 650.7) scale(1 1.045)" y="0" font-size="52" fill="#000" stroke="#000" stroke-width="0.45"><tspan x="1838.1" letter-spacing="1.13">First</tspan> <tspan x="1958.8" letter-spacing="0.41">sorting</tspan></text>
<text transform="translate(0 2104.7) scale(1 1.045)" y="0" font-size="45" fill="#000" stroke="#000" stroke-width="0.5"><tspan x="1376.2" letter-spacing="-1.20">10</tspan></text>
<text transform="translate(0 2086.2) scale(1 1.045)" y="0" font-size="22" fill="#111" stroke="#111" stroke-width="0.3"><tspan x="1425.5">1</tspan></text>
<text transform="translate(0 2104.7) scale(1 1.045)" y="0" font-size="45" fill="#000" stroke="#000" stroke-width="0.5"><tspan x="1495.5" letter-spacing="-1.20">10</tspan></text>
<text transform="translate(0 2086.2) scale(1 1.045)" y="0" font-size="22" fill="#111" stroke="#111" stroke-width="0.3"><tspan x="1543.5">2</tspan></text>
<text transform="translate(0 2104.7) scale(1 1.045)" y="0" font-size="45" fill="#000" stroke="#000" stroke-width="0.5"><tspan x="1609.5" letter-spacing="-1.20">10</tspan></text>
<text transform="translate(0 2086.2) scale(1 1.045)" y="0" font-size="22" fill="#111" stroke="#111" stroke-width="0.3"><tspan x="1657.8">3</tspan></text>
<text transform="translate(0 2166) scale(1 1.045)" y="0" font-size="52.5" fill="#2b2622" stroke="#2b2622" stroke-width="0.45"><tspan x="1254.5" letter-spacing="0.39">Fluorescence</tspan> <tspan x="1590.7" letter-spacing="-0.55">intensity</tspan></text>
<text transform="translate(1220.4 0) rotate(-90) scale(1 1.045)" y="0" font-size="52" fill="#000" stroke="#000" stroke-width="0.45"><tspan x="-1952.2" letter-spacing="0.98">Number</tspan> <tspan x="-1747.6" letter-spacing="0.75">of</tspan> <tspan x="-1689.4" letter-spacing="-0.50">cells</tspan></text>
<text transform="translate(1338.1000000000001 1430) scale(1.28 1)" font-size="50" font-family="DejaVu Sans, sans-serif" font-weight="200" stroke="#000" stroke-width="0.8">α</text>
<text transform="translate(0 1430) scale(1 1.045)" y="0" font-size="57" fill="#000" stroke="#000" stroke-width="0.45"><tspan x="1374.5" letter-spacing="-0.30">IgG2a</tspan></text>
<text transform="translate(1555.9 1430) scale(1.28 1)" font-size="50" font-family="DejaVu Sans, sans-serif" font-weight="200" stroke="#000" stroke-width="0.8">α</text>
<text transform="translate(0 1430) scale(1 1.045)" y="0" font-size="57" fill="#000" stroke="#000" stroke-width="0.45"><tspan x="1592.2" letter-spacing="-1.20">IgG1</tspan></text>
<path d="M1346.5 1477.4H1538.6" stroke="#000" stroke-width="3.8"/>
<path d="M1556 1477.4H1693" stroke="#000" stroke-width="3.8" stroke-dasharray="11.4 4.7"/>
<path d="M1804.2 1409.4H1768" stroke="#000" stroke-width="3.8"/><path d="M1750.3 1409.4l26 -13v26z" fill="#000"/>
<text transform="translate(0 1427.8000000000002) scale(1 1.045)" y="0" font-size="52" fill="#000" stroke="#000" stroke-width="0.45"><tspan x="1814.4" letter-spacing="0.40">Secondary</tspan> <tspan x="2084.2" letter-spacing="-0.44">antibody</tspan></text>
<path d="M1705 1704.7H1787" stroke="#000" stroke-width="4"/>
<path d="M1705 1765.7H1787" stroke="#f00" stroke-width="4"/>
<text transform="translate(0 1710) scale(1 1.045)" y="0" font-size="52" fill="#000" stroke="#000" stroke-width="0.45"><tspan x="1832.1" letter-spacing="0.29">Original</tspan> <tspan x="2030.3" letter-spacing="1.32">TS63</tspan></text>
<text transform="translate(0 1789.6) scale(1 1.045)" y="0" font-size="52" fill="#000" stroke="#000" stroke-width="0.45"><tspan x="1833.0" letter-spacing="0.36">Second</tspan> <tspan x="2029.0" letter-spacing="0.41">sorting</tspan></text>
</g>
</svg>
</body></html>
